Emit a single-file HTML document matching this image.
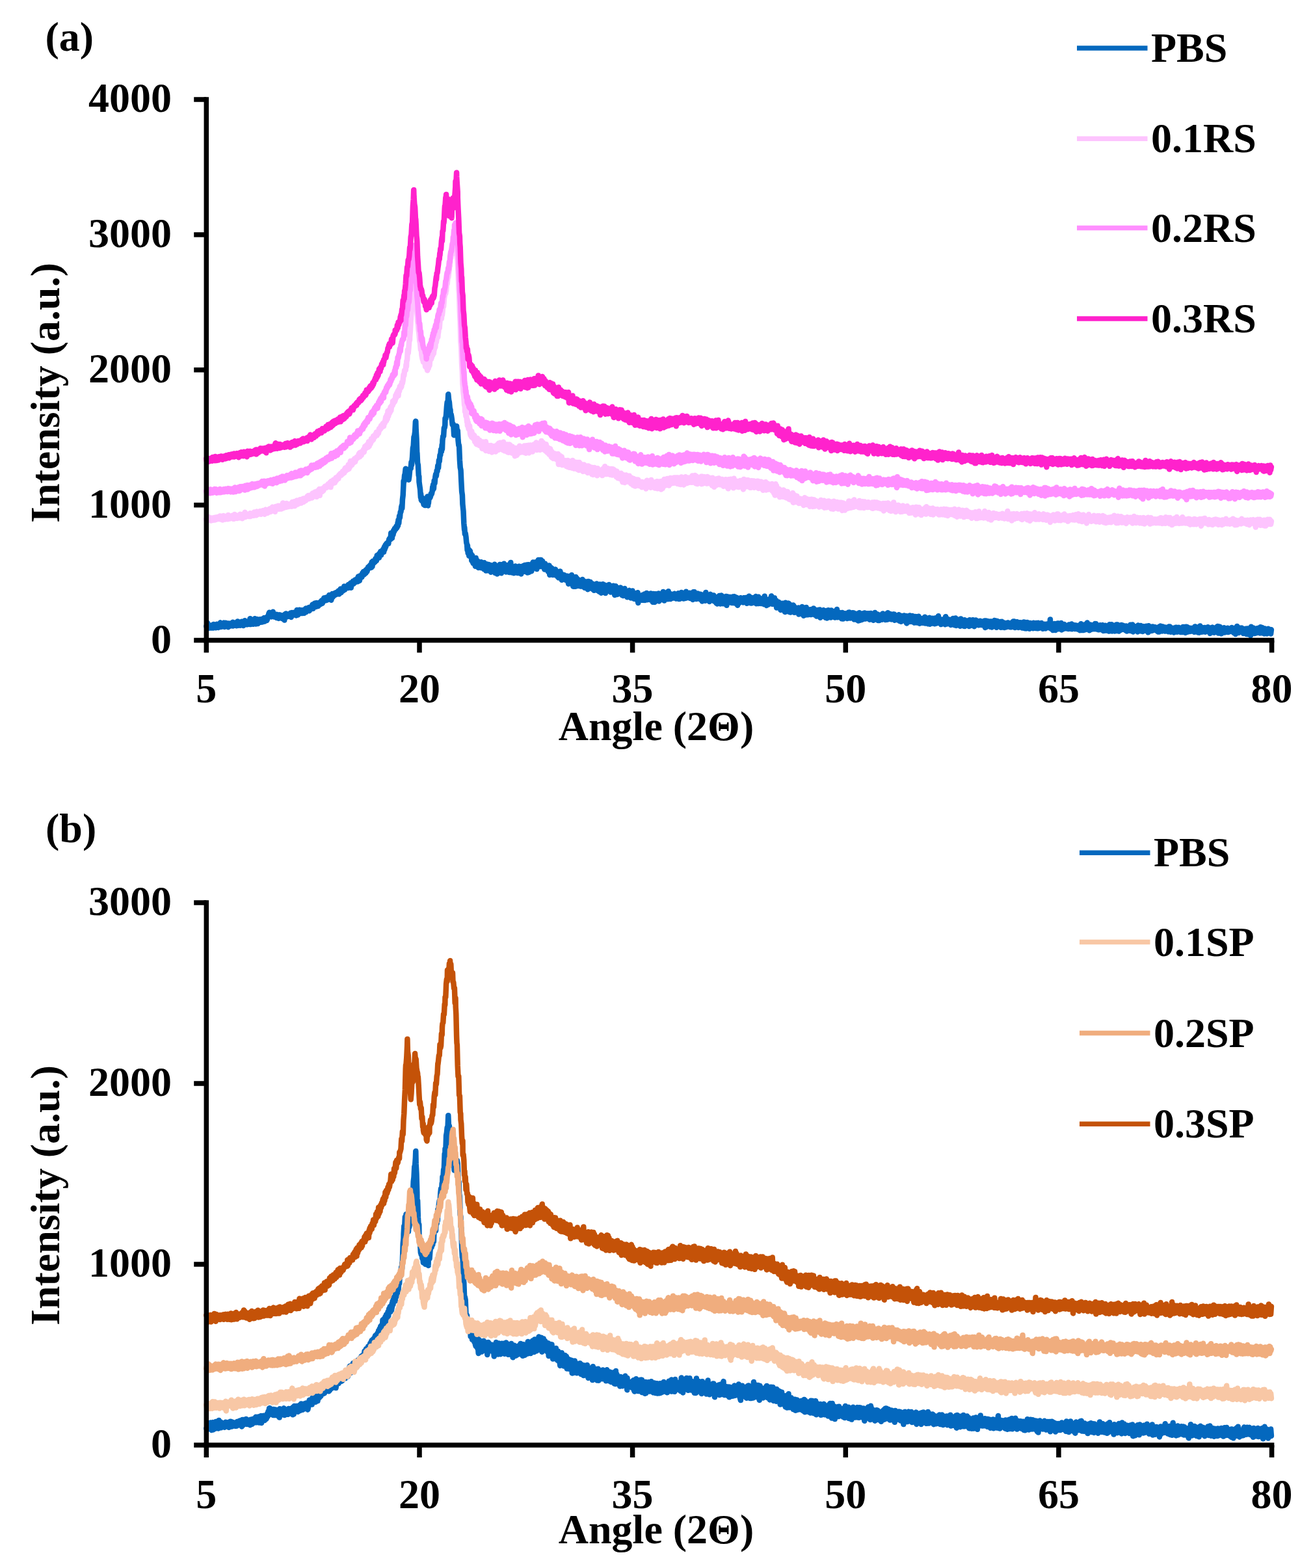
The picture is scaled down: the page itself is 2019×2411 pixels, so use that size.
<!DOCTYPE html>
<html><head><meta charset="utf-8"><style>
html,body{margin:0;padding:0;background:#fff;}
svg{display:block;}
text{font-family:'Liberation Serif','Times New Roman',serif;font-weight:bold;font-size:64px;fill:#000;}
</style></head><body>
<svg width="2019" height="2411" viewBox="0 0 2019 2411" xmlns="http://www.w3.org/2000/svg">
<rect width="2019" height="2411" fill="#fff"/>
<polyline points="317.3,962.9 318.1,964.5 318.9,957.8 319.7,966.1 320.5,960.7 321.3,962.3 322.1,965.4 322.9,961.5 323.7,962.5 324.5,965.6 325.3,961.6 326.1,964.7 326.9,962.2 327.7,965.6 328.5,959.9 329.3,964.9 330.1,961.2 330.9,963.8 331.7,965.3 332.5,960.4 333.3,959.8 334.1,964.0 334.9,960.8 335.7,965.1 336.5,961.4 337.3,963.7 337.5,959.6 338.1,960.9 338.9,957.3 339.7,963.9 340.5,959.3 341.3,962.6 342.1,958.9 342.9,958.2 343.7,963.4 344.5,957.6 345.3,963.9 346.1,958.4 346.9,957.8 347.7,962.4 348.5,959.4 349.3,963.4 350.1,958.4 350.9,964.2 351.7,963.8 352.5,958.6 353.3,962.9 354.1,958.9 354.9,962.3 355.7,962.2 356.5,957.7 357.3,962.1 357.9,956.8 358.1,962.6 358.9,961.9 359.7,958.5 360.5,960.3 361.3,957.8 362.1,961.8 362.9,957.7 363.7,962.2 364.5,960.1 365.3,955.5 366.1,961.8 366.9,957.3 367.7,959.8 368.5,956.7 369.3,961.7 370.1,960.9 370.9,956.7 371.7,955.7 372.5,960.7 373.3,957.5 374.1,962.0 374.9,956.2 375.7,960.5 376.5,954.2 377.3,956.0 378.1,960.2 378.4,955.8 378.9,959.9 379.7,960.3 380.5,960.2 381.3,956.2 382.1,959.6 382.9,955.1 383.7,959.9 384.5,951.2 385.3,960.0 386.1,954.7 386.9,959.5 387.7,958.6 388.5,954.8 389.3,959.7 390.1,956.2 390.9,958.8 391.7,951.3 392.5,955.7 393.3,959.5 394.1,955.4 394.9,958.2 395.7,952.1 396.5,959.0 397.3,956.7 398.1,954.4 398.9,956.0 399.7,952.3 400.5,956.5 401.3,956.7 402.1,952.1 402.9,956.6 403.7,951.5 404.5,956.0 405.3,954.2 406.1,950.1 406.9,955.5 407.7,949.9 408.5,954.4 409.3,950.8 410.0,954.1 410.1,950.6 410.9,952.8 411.7,947.5 412.5,948.9 413.3,943.5 414.0,946.5 414.1,941.8 414.9,947.0 415.7,943.9 416.5,947.8 417.3,948.4 418.1,944.5 418.9,947.6 419.7,940.8 420.0,944.9 420.5,944.9 421.3,948.5 422.1,945.6 422.9,946.6 423.7,947.5 424.5,944.8 425.3,950.0 426.1,945.0 426.9,945.4 427.7,948.9 428.5,950.9 429.3,945.4 429.6,949.9 430.1,945.5 430.9,950.0 431.7,945.9 432.5,950.4 433.3,947.1 434.1,951.1 434.9,946.3 435.7,949.4 436.5,945.7 437.3,953.5 438.1,944.6 438.9,948.9 439.7,943.4 440.5,948.9 441.3,944.8 442.1,946.8 442.9,944.4 443.7,947.8 444.5,944.6 445.3,944.5 446.1,948.2 446.9,942.5 447.7,949.0 448.5,942.1 449.3,946.4 450.0,942.6 450.1,945.7 450.9,941.9 451.7,942.0 452.5,945.6 453.3,942.0 454.1,945.5 454.9,942.0 455.7,946.4 456.5,938.1 457.3,945.5 458.1,945.5 458.9,940.1 459.7,943.7 460.5,937.8 461.3,943.2 462.1,938.9 462.9,943.0 463.7,938.3 464.5,942.6 465.3,942.9 466.1,939.2 466.9,937.9 467.7,942.9 468.5,940.5 469.3,937.7 470.1,935.6 470.5,941.2 470.9,935.6 471.7,938.2 472.5,935.6 473.3,938.2 474.1,937.7 474.9,934.1 475.7,939.2 476.5,934.9 477.3,936.3 478.1,933.3 478.9,936.3 479.7,933.1 480.5,929.5 481.3,935.7 482.1,931.0 482.9,933.8 483.7,927.7 484.5,927.4 485.3,932.6 486.1,932.9 486.9,927.0 487.7,930.7 488.5,927.8 489.3,932.1 490.1,927.1 490.9,929.7 491.0,927.2 491.7,928.8 492.5,929.4 493.3,924.8 494.1,926.3 494.9,923.3 495.7,927.7 496.5,925.6 497.3,921.2 498.1,924.2 498.2,919.6 498.9,923.8 499.7,920.9 500.5,923.2 501.3,918.7 502.1,923.0 502.9,919.0 503.7,922.4 504.5,917.5 505.3,919.1 506.1,915.1 506.9,916.4 507.7,915.2 508.5,919.0 509.3,922.8 510.1,919.4 510.9,913.1 511.7,918.3 512.5,914.8 513.3,915.4 514.1,912.4 514.9,915.3 515.7,911.4 516.4,911.3 516.5,912.7 517.3,914.0 518.1,911.5 518.9,910.7 519.7,909.6 520.5,908.3 521.3,913.6 522.1,908.8 522.9,910.9 523.7,905.5 524.5,911.2 525.3,905.7 526.1,907.5 526.9,905.8 527.7,908.5 528.5,904.4 529.3,901.5 530.1,906.9 530.9,902.1 531.7,904.8 532.5,904.4 533.3,901.4 534.1,903.7 534.6,900.2 534.9,904.1 535.7,899.0 536.5,903.5 537.3,899.2 538.1,901.6 538.9,896.6 539.7,903.7 540.5,899.4 541.3,899.3 542.1,897.7 542.9,893.5 543.7,897.6 544.5,893.2 545.3,895.7 546.1,891.5 546.9,895.4 547.7,891.3 548.5,894.5 549.3,889.4 550.1,894.2 550.9,886.6 551.7,890.9 552.5,887.3 552.8,892.7 553.3,885.4 554.1,889.6 554.9,884.7 555.7,887.3 556.5,887.3 557.3,881.2 558.1,884.1 558.9,878.9 559.7,883.5 560.5,879.2 561.3,882.4 562.1,876.8 562.9,880.5 563.7,875.4 564.5,878.5 565.3,874.7 566.1,872.0 566.9,874.2 567.7,870.5 568.5,872.2 569.3,869.0 570.1,872.9 570.9,866.8 571.0,872.4 571.7,864.2 572.5,870.9 573.3,862.7 574.1,866.3 574.9,865.7 575.7,861.7 576.5,864.4 577.3,859.0 578.1,860.6 578.9,862.0 579.7,854.1 580.5,854.9 581.3,853.2 582.1,853.5 582.9,857.6 583.7,850.6 584.5,854.2 585.3,847.9 586.1,853.3 586.9,847.6 587.7,848.9 588.5,845.6 589.2,849.2 589.3,844.3 590.1,848.9 590.9,841.1 591.7,844.7 592.5,838.2 593.3,840.9 594.1,836.1 594.9,835.3 595.7,835.7 596.5,833.8 597.3,835.9 598.1,829.7 598.9,828.1 599.7,829.6 600.5,829.2 601.3,819.4 602.1,827.3 602.8,821.9 602.9,827.4 603.7,819.7 604.5,822.3 605.3,815.2 606.1,817.7 606.9,812.7 607.7,812.8 608.5,813.9 609.3,809.2 610.1,811.8 610.9,810.2 611.7,803.4 612.0,808.1 612.5,799.4 613.3,804.1 614.1,793.2 614.9,796.1 615.7,787.3 616.5,787.1 617.3,779.3 618.1,776.4 618.3,781.4 618.9,768.2 619.7,761.5 620.5,744.6 620.6,739.5 621.3,740.8 622.1,730.9 622.9,728.3 623.7,720.8 624.5,724.7 625.3,726.3 626.1,732.0 626.9,735.0 627.7,737.1 628.0,732.1 628.5,737.7 629.3,732.3 630.1,723.6 630.9,719.9 631.7,720.3 632.5,710.4 633.0,714.8 633.3,711.0 634.1,702.7 634.9,688.7 635.7,685.6 636.5,672.1 637.3,670.0 638.1,664.1 638.9,648.4 639.3,647.7 639.7,660.8 640.5,674.5 641.3,699.6 641.4,696.4 642.1,711.6 642.9,715.1 643.7,730.9 644.3,732.7 644.5,741.0 645.3,746.8 646.1,752.5 646.9,764.9 647.1,759.6 647.7,768.4 648.5,769.9 649.3,765.2 650.1,767.4 650.9,772.6 651.7,776.0 652.5,771.3 652.9,769.6 653.3,777.1 654.1,770.8 654.9,775.8 655.7,770.2 656.5,775.3 657.3,763.5 658.1,777.4 658.6,770.1 658.9,773.6 659.7,764.4 660.5,764.0 661.3,765.3 662.1,763.1 662.9,758.7 663.7,759.7 664.5,756.4 665.3,748.5 665.7,753.0 666.1,745.2 666.9,751.1 667.7,738.9 668.5,742.9 669.3,733.5 670.1,729.1 670.9,731.9 671.7,723.4 672.5,724.7 672.9,719.5 673.3,715.8 674.1,719.3 674.9,707.8 675.7,709.4 676.5,699.9 677.3,699.7 678.1,691.0 678.9,694.2 679.7,683.8 680.0,690.3 680.5,676.9 681.3,670.6 682.1,670.7 682.9,657.8 683.7,657.5 684.3,653.5 684.5,643.3 685.3,643.9 686.1,637.3 686.9,625.8 687.7,618.3 688.5,622.2 689.3,606.3 690.1,614.9 690.9,618.4 691.7,627.6 692.5,630.3 692.9,638.9 693.3,635.9 694.1,639.5 694.9,645.2 695.7,653.2 696.5,651.6 697.3,653.0 698.1,669.2 698.6,666.3 698.9,661.1 699.7,665.8 700.5,656.7 701.3,660.6 702.1,655.2 702.9,663.0 703.7,662.0 704.5,677.0 705.3,684.9 705.7,684.1 706.1,686.9 706.9,707.2 707.7,718.9 708.5,722.7 708.6,724.1 709.3,739.8 710.1,755.6 710.9,761.3 711.4,775.0 711.7,778.2 712.5,785.6 713.3,804.3 714.1,814.7 714.3,811.3 714.9,821.3 715.7,820.1 716.5,825.5 717.3,834.4 718.1,837.4 718.6,846.0 718.9,838.9 719.7,850.7 720.5,844.6 721.3,854.8 722.1,846.3 722.9,847.2 723.7,855.8 724.5,852.1 725.3,862.1 725.7,860.3 726.1,854.3 726.9,864.1 727.7,866.1 728.5,859.8 729.3,858.8 730.1,866.8 730.9,870.7 731.7,858.0 732.5,870.1 732.9,862.9 733.3,862.3 734.1,862.1 734.9,870.8 735.7,872.9 736.5,870.7 737.3,867.9 738.1,870.1 738.9,872.9 739.7,864.3 740.5,869.5 741.3,868.8 742.1,873.5 742.9,868.5 743.7,874.9 744.5,865.3 745.3,871.9 746.1,876.0 746.9,874.8 747.1,877.4 747.7,867.3 748.5,875.0 749.3,867.9 750.1,877.3 750.9,868.1 751.7,876.2 752.5,871.0 753.3,877.2 754.1,869.0 754.9,879.7 755.7,869.4 756.5,877.0 757.3,870.7 758.1,878.6 758.9,870.3 759.7,876.6 760.5,867.7 761.3,881.0 761.4,871.2 762.1,876.4 762.9,879.8 763.7,871.6 764.5,882.5 765.3,870.3 766.1,879.3 766.9,872.0 767.7,877.5 768.5,867.9 769.3,878.1 770.1,870.4 770.9,881.3 771.7,868.2 772.5,876.7 773.3,870.2 774.1,876.5 774.9,866.8 775.7,875.5 776.5,877.1 777.3,870.7 778.1,879.5 778.9,869.9 779.7,879.2 780.5,869.0 781.3,877.1 782.1,869.1 782.9,880.0 783.7,872.6 784.5,880.0 785.3,865.0 786.1,878.6 786.9,880.4 787.7,873.7 788.5,880.4 789.3,872.8 790.1,881.3 790.9,880.1 791.7,878.4 792.5,870.6 792.9,880.3 793.3,874.3 794.1,880.6 794.9,874.0 795.7,881.0 796.5,872.2 797.3,879.5 798.1,870.7 798.9,874.0 799.7,881.5 800.5,875.0 801.3,882.4 802.1,871.1 802.9,878.9 803.7,872.4 804.5,870.1 805.3,878.8 806.1,878.7 806.9,869.0 807.7,878.0 808.5,871.0 809.3,879.3 810.1,868.5 810.9,880.6 811.1,870.0 811.7,878.2 812.5,868.3 813.3,880.0 814.1,870.5 814.9,876.4 815.7,868.3 816.5,877.0 817.3,878.2 818.1,875.2 818.9,866.4 819.7,864.4 820.5,868.2 821.3,872.5 822.1,866.1 822.9,873.1 823.7,864.2 824.5,865.1 825.3,875.1 826.1,864.8 826.9,871.0 827.7,860.9 828.5,861.1 829.3,870.2 830.1,861.1 830.9,870.9 831.7,861.1 832.5,870.9 833.3,863.8 834.1,862.7 834.9,868.7 835.7,870.6 836.5,866.7 837.3,875.5 838.1,866.7 838.9,875.1 839.7,868.7 840.5,875.4 841.3,875.9 842.1,870.4 842.9,879.1 843.7,873.0 844.5,869.6 845.3,884.0 846.1,873.4 846.9,872.5 847.7,878.5 848.5,873.8 849.3,879.4 850.0,884.0 850.1,875.8 850.9,880.1 851.7,878.0 852.5,881.4 853.3,884.0 854.1,875.5 854.9,878.1 855.7,883.6 856.5,879.6 857.3,886.7 858.1,882.6 858.9,888.3 859.7,879.1 860.5,884.5 861.3,878.5 862.1,886.0 862.9,881.8 863.7,891.7 864.5,887.2 865.3,885.8 866.1,888.9 866.9,889.3 867.7,884.1 868.5,891.1 869.3,885.5 870.1,891.9 870.9,885.8 871.7,892.1 872.5,885.7 872.9,894.2 873.3,888.3 874.1,897.7 874.9,889.2 875.7,896.3 876.5,888.8 877.3,887.1 878.1,896.6 878.9,884.3 879.7,898.7 880.5,886.6 881.3,901.7 882.1,888.4 882.9,895.8 883.7,892.0 884.5,901.8 885.3,887.2 886.1,898.1 886.9,889.2 887.7,900.9 888.5,890.9 889.3,898.4 890.1,891.6 890.9,901.1 891.7,899.9 892.5,894.4 893.3,901.6 894.1,895.7 894.9,899.5 895.7,891.0 896.5,893.0 897.3,901.9 898.1,893.7 898.9,903.8 899.7,902.1 900.5,898.0 901.3,894.4 902.1,900.5 902.9,898.9 903.7,906.2 904.5,894.0 905.3,903.1 906.1,896.4 906.9,904.6 907.7,895.0 908.5,903.5 909.3,898.8 910.1,904.3 910.9,897.5 911.7,906.3 912.5,898.9 913.3,907.7 914.1,900.5 914.9,906.7 915.7,900.4 916.5,905.5 917.3,897.5 918.1,907.2 918.6,901.8 918.9,908.0 919.7,906.3 920.5,899.2 921.3,909.7 922.1,898.6 922.9,906.5 923.7,900.8 924.5,911.7 925.3,901.1 926.1,910.9 926.9,898.2 927.7,906.4 928.5,899.0 929.3,910.3 930.1,899.7 930.9,912.1 931.7,900.6 932.5,909.5 933.3,900.5 934.1,908.9 934.9,900.8 935.7,906.1 936.5,898.9 937.3,908.9 938.1,901.1 938.9,910.5 939.7,902.0 940.5,902.1 941.3,910.3 941.4,905.2 942.1,909.5 942.9,900.7 943.7,909.1 944.5,905.1 945.3,915.1 946.1,901.7 946.9,901.3 947.7,912.1 948.5,904.0 949.3,913.9 950.1,904.0 950.9,905.4 951.7,910.7 952.5,907.0 953.3,911.1 954.1,903.4 954.9,913.5 955.7,907.0 956.5,915.2 957.3,907.1 958.1,916.1 958.9,908.7 959.7,913.0 960.5,905.0 961.3,914.9 962.1,909.4 962.9,915.2 963.7,910.0 964.3,917.0 964.5,918.3 965.3,911.3 966.1,917.8 966.9,910.9 967.7,907.8 968.5,912.2 969.3,918.1 970.1,919.4 970.9,912.9 971.7,918.6 972.5,908.6 973.3,917.4 974.1,911.6 974.9,920.8 975.7,919.7 976.5,912.4 977.3,912.2 978.1,920.5 978.9,922.1 979.7,921.4 980.5,911.3 981.3,927.0 982.1,917.9 982.9,918.2 983.7,916.9 984.5,922.5 985.3,917.2 986.1,921.3 986.9,922.8 987.1,919.1 987.7,915.0 988.5,921.1 989.3,922.9 990.1,916.7 990.9,913.5 991.7,923.0 992.5,913.9 993.3,922.1 994.1,912.1 994.9,922.3 995.7,914.4 996.5,921.4 997.3,913.3 998.1,921.6 998.9,913.4 999.7,922.3 1000.5,912.6 1001.3,920.9 1002.1,922.4 1002.9,914.1 1003.7,925.8 1004.5,912.9 1005.3,923.1 1006.1,913.3 1006.9,925.9 1007.7,924.0 1008.5,913.3 1009.3,920.2 1010.0,913.9 1010.1,922.1 1010.9,914.5 1011.7,923.7 1012.5,912.6 1013.3,924.4 1014.1,916.6 1014.9,922.7 1015.7,915.0 1016.5,919.8 1017.3,913.3 1018.1,921.6 1018.9,913.4 1019.7,909.9 1020.5,911.8 1021.3,923.5 1022.1,914.6 1022.9,919.4 1023.7,911.6 1024.5,920.7 1025.3,913.5 1026.1,920.4 1026.9,921.2 1027.7,909.2 1028.5,920.3 1029.3,913.6 1030.1,912.7 1030.9,921.1 1031.7,915.0 1032.5,919.0 1032.9,913.8 1033.3,920.0 1034.1,914.1 1034.9,914.4 1035.7,914.3 1036.5,919.5 1037.3,912.8 1038.1,915.3 1038.9,919.1 1039.7,920.6 1040.5,919.8 1041.3,914.7 1042.1,919.3 1042.9,912.3 1043.7,921.1 1044.5,915.0 1045.3,920.9 1046.1,912.9 1046.9,920.0 1047.7,910.9 1048.5,918.0 1049.3,913.4 1050.1,912.1 1050.9,920.6 1051.7,912.8 1052.5,916.9 1053.3,913.0 1054.1,919.9 1054.9,909.7 1055.7,918.3 1056.5,912.3 1057.3,919.0 1058.1,912.1 1058.9,917.8 1059.7,912.8 1060.5,911.8 1061.3,919.9 1062.1,912.3 1062.9,918.1 1063.7,919.0 1064.5,913.8 1065.3,921.9 1066.1,910.2 1066.9,920.8 1067.7,910.2 1068.5,919.9 1069.3,920.0 1070.1,915.3 1070.9,921.0 1071.7,914.1 1072.5,913.2 1073.3,912.6 1074.1,920.6 1074.9,919.2 1075.7,913.8 1076.5,921.1 1077.3,913.8 1078.1,922.5 1078.6,921.1 1078.9,914.5 1079.7,924.5 1080.5,923.5 1081.3,914.5 1082.1,920.4 1082.9,915.3 1083.7,914.1 1084.5,923.8 1085.3,910.9 1086.1,922.2 1086.9,914.9 1087.7,922.2 1088.5,915.3 1089.3,922.4 1090.1,917.5 1090.9,925.0 1091.7,915.7 1092.5,913.8 1093.3,922.8 1094.1,915.8 1094.9,915.2 1095.7,920.9 1096.5,918.8 1097.3,915.4 1098.1,924.6 1098.9,920.0 1099.7,923.4 1100.5,918.9 1101.3,924.1 1101.4,927.5 1102.1,918.3 1102.9,928.4 1103.7,917.8 1104.5,918.7 1105.3,927.8 1106.1,915.9 1106.9,927.5 1107.7,928.5 1108.5,915.8 1109.3,915.6 1110.1,922.5 1110.9,919.2 1111.7,928.2 1112.5,917.5 1113.3,926.8 1114.1,918.7 1114.9,927.5 1115.7,929.1 1116.5,917.0 1117.3,930.8 1118.1,917.2 1118.9,927.5 1119.7,926.3 1120.5,919.1 1121.3,926.4 1122.1,918.1 1122.9,923.5 1123.7,926.5 1124.3,918.4 1124.5,926.5 1125.3,919.4 1126.1,927.1 1126.9,917.4 1127.7,925.1 1128.5,918.0 1129.3,917.3 1130.1,927.6 1130.9,920.2 1131.7,924.7 1132.5,918.6 1133.3,924.7 1134.1,930.7 1134.9,920.1 1135.7,925.1 1136.5,927.6 1137.3,919.7 1138.1,922.9 1138.9,919.2 1139.7,924.9 1140.5,919.9 1141.3,923.9 1142.1,920.6 1142.9,926.4 1143.7,919.3 1144.5,924.8 1145.3,920.4 1146.1,925.3 1146.9,919.0 1147.1,926.5 1147.7,921.4 1148.5,927.8 1149.3,925.6 1150.1,918.7 1150.9,925.3 1151.7,916.7 1152.5,926.6 1153.3,926.9 1154.1,918.6 1154.9,927.6 1155.7,919.2 1156.5,927.2 1157.3,921.7 1158.1,919.7 1158.9,923.3 1159.7,919.8 1160.5,926.5 1161.3,920.0 1162.1,917.1 1162.9,928.2 1163.7,917.8 1164.5,920.2 1165.3,927.9 1166.1,917.7 1166.9,928.0 1167.7,927.8 1168.5,927.4 1169.3,921.3 1170.0,925.7 1170.1,922.2 1170.9,928.0 1171.7,920.3 1172.5,921.0 1173.3,928.0 1174.1,920.9 1174.9,929.3 1175.7,916.8 1176.5,928.3 1177.3,921.3 1178.1,925.1 1178.9,931.1 1179.7,928.5 1180.5,922.3 1181.3,929.6 1182.1,923.2 1182.9,921.1 1183.7,927.5 1184.5,921.1 1185.3,926.1 1186.1,916.5 1186.9,927.4 1187.7,928.8 1188.5,920.6 1189.3,925.5 1190.0,921.7 1190.1,928.7 1190.9,919.6 1191.7,928.6 1192.5,930.2 1193.3,923.1 1194.1,934.5 1194.9,926.7 1195.7,932.4 1196.5,930.7 1197.3,925.7 1198.1,927.8 1198.9,927.4 1199.7,934.6 1200.5,937.9 1201.3,928.0 1202.1,933.7 1202.9,937.6 1203.7,927.7 1204.5,935.1 1205.3,929.3 1205.5,936.0 1206.1,928.2 1206.9,940.9 1207.7,926.8 1208.5,939.2 1209.3,939.0 1210.1,930.2 1210.9,939.9 1211.7,932.7 1212.5,927.6 1213.3,940.9 1214.1,929.3 1214.9,938.2 1215.7,941.5 1216.5,931.8 1217.3,940.0 1218.1,934.1 1218.9,939.3 1219.7,930.4 1220.5,931.6 1221.3,941.7 1222.1,933.8 1222.9,940.8 1223.7,937.8 1224.5,937.9 1225.3,941.7 1226.1,935.6 1226.9,941.2 1227.7,934.5 1228.2,944.5 1228.5,943.9 1229.3,939.1 1230.1,943.3 1230.9,936.2 1231.7,941.6 1232.5,939.9 1233.3,933.0 1234.1,944.9 1234.9,937.0 1235.7,946.7 1236.5,934.5 1237.3,944.8 1238.1,936.1 1238.9,945.4 1239.7,934.1 1240.5,944.3 1241.3,937.0 1242.1,945.3 1242.9,939.5 1243.7,944.5 1244.5,937.5 1245.3,944.4 1246.1,937.2 1246.9,945.1 1247.7,944.7 1248.5,936.9 1249.3,944.4 1250.1,936.3 1250.9,943.8 1251.0,935.4 1251.7,941.9 1252.5,937.0 1253.3,945.8 1254.1,939.7 1254.9,944.5 1255.7,947.6 1256.5,938.2 1257.3,944.1 1258.1,943.3 1258.9,937.7 1259.7,946.1 1260.5,937.5 1261.3,949.7 1262.1,946.3 1262.9,938.7 1263.7,945.4 1264.5,939.3 1265.3,939.3 1266.1,938.1 1266.9,948.0 1267.7,945.9 1268.5,940.6 1269.3,949.7 1270.1,945.9 1270.9,938.9 1271.7,950.5 1272.5,939.3 1273.3,948.4 1273.7,938.3 1274.1,940.0 1274.9,940.7 1275.7,947.9 1276.5,938.9 1277.3,949.6 1278.1,938.4 1278.9,948.0 1279.7,941.7 1280.5,948.0 1281.3,940.9 1282.1,947.7 1282.9,940.0 1283.7,949.6 1284.5,943.3 1285.3,944.2 1286.1,946.2 1286.9,937.0 1287.7,949.3 1288.5,941.9 1289.3,948.9 1290.1,941.6 1290.9,946.5 1291.7,946.5 1292.5,945.2 1293.3,950.1 1294.1,951.2 1294.9,942.0 1295.7,950.0 1296.4,945.1 1296.5,951.6 1297.3,943.4 1298.1,950.3 1298.9,943.2 1299.7,949.6 1300.5,944.3 1301.3,949.5 1302.1,945.4 1302.9,951.0 1303.7,943.6 1304.5,941.7 1305.3,947.7 1306.1,941.5 1306.9,950.6 1307.7,950.5 1308.5,944.9 1309.3,944.9 1310.1,948.4 1310.9,942.2 1311.7,950.6 1312.5,942.6 1313.3,952.4 1314.1,943.2 1314.9,950.7 1315.7,944.5 1316.5,952.8 1317.3,951.4 1318.1,943.8 1318.9,952.5 1319.2,944.2 1319.7,954.6 1320.5,945.7 1321.3,942.2 1322.1,953.7 1322.9,946.2 1323.7,952.9 1324.5,943.9 1325.3,953.0 1326.1,943.4 1326.9,952.1 1327.7,946.1 1328.5,951.2 1329.3,942.4 1330.1,951.6 1330.9,948.4 1331.7,947.0 1332.5,950.1 1333.3,943.2 1334.1,950.9 1334.9,947.5 1335.7,943.2 1336.5,944.7 1337.3,952.8 1338.1,951.0 1338.9,942.9 1339.7,952.1 1340.5,948.4 1341.3,950.6 1341.9,946.7 1342.1,952.2 1342.9,953.7 1343.7,946.5 1344.5,951.5 1345.3,941.9 1346.1,952.6 1346.9,951.6 1347.7,945.3 1348.5,950.4 1349.3,944.5 1350.1,954.0 1350.9,946.3 1351.7,954.0 1352.5,945.8 1353.3,952.9 1354.1,951.2 1354.9,946.7 1355.7,950.0 1356.5,952.7 1357.3,943.5 1358.1,952.0 1358.9,950.6 1359.7,947.2 1360.5,951.4 1361.3,953.1 1362.1,944.9 1362.9,946.5 1363.7,952.8 1364.5,942.7 1364.7,952.5 1365.3,942.3 1366.1,944.9 1366.9,943.6 1367.7,951.8 1368.5,944.0 1369.3,951.0 1370.1,945.6 1370.9,952.4 1371.7,949.2 1372.5,951.0 1373.3,944.5 1374.1,945.6 1374.9,944.4 1375.7,953.7 1376.5,951.1 1377.3,946.3 1378.1,952.8 1378.9,947.6 1379.7,953.1 1380.5,948.2 1381.3,952.5 1382.1,945.2 1382.9,954.8 1383.7,948.3 1384.5,948.1 1385.3,955.8 1386.1,947.0 1386.9,954.8 1387.4,949.6 1387.7,953.9 1388.5,949.6 1389.3,954.5 1390.1,946.6 1390.9,954.3 1391.7,948.8 1392.5,953.5 1393.3,947.2 1394.1,958.4 1394.9,947.6 1395.7,956.7 1396.5,950.5 1397.3,948.5 1398.1,955.9 1398.9,946.6 1399.7,955.7 1400.5,950.5 1401.3,955.8 1402.1,955.3 1402.9,947.1 1403.7,948.4 1404.5,956.7 1405.3,949.3 1406.1,957.6 1406.9,948.1 1407.7,955.1 1408.5,953.7 1409.3,948.2 1410.1,957.5 1410.9,949.1 1411.7,956.9 1412.5,947.7 1413.3,951.7 1414.1,958.7 1414.9,955.7 1415.7,951.0 1416.5,952.2 1417.3,957.2 1418.1,950.9 1418.9,957.8 1419.7,951.4 1420.5,955.1 1421.3,958.1 1422.1,948.8 1422.9,958.4 1423.7,957.3 1424.5,950.2 1425.3,957.6 1426.1,951.4 1426.9,959.2 1427.7,958.2 1428.5,952.3 1429.3,949.8 1430.1,959.7 1430.9,958.7 1431.7,955.6 1432.5,952.0 1432.9,958.2 1433.3,950.8 1434.1,958.6 1434.9,951.4 1435.7,957.6 1436.5,950.8 1437.3,959.2 1438.1,953.8 1438.9,950.2 1439.7,957.8 1440.5,958.4 1441.3,950.2 1442.1,956.3 1442.9,947.2 1443.7,954.4 1444.5,957.2 1445.3,952.7 1446.1,952.4 1446.9,960.1 1447.7,952.8 1448.5,958.0 1449.3,952.6 1450.1,955.9 1450.9,954.3 1451.7,958.1 1452.5,951.6 1453.3,960.2 1454.1,948.3 1454.9,959.0 1455.6,953.6 1455.7,959.2 1456.5,951.6 1457.3,959.2 1458.1,954.2 1458.9,952.8 1459.7,952.8 1460.5,957.1 1461.3,954.5 1462.1,960.9 1462.9,956.0 1463.7,959.5 1464.5,958.9 1465.3,951.0 1466.1,960.2 1466.9,954.3 1467.7,961.2 1468.5,958.7 1469.3,950.4 1470.1,961.9 1470.9,953.4 1471.7,960.7 1472.5,959.9 1473.3,954.7 1474.1,961.2 1474.9,960.4 1475.7,952.3 1476.5,962.8 1477.3,951.6 1478.1,961.4 1478.4,953.8 1478.9,960.1 1479.7,953.1 1480.5,953.9 1481.3,954.1 1482.1,962.7 1482.9,953.2 1483.7,962.9 1484.5,959.2 1485.3,954.1 1486.1,959.7 1486.9,959.8 1487.7,954.5 1488.5,960.2 1489.3,954.8 1490.1,963.0 1490.9,953.3 1491.7,959.5 1492.5,955.1 1493.3,961.7 1494.1,953.7 1494.9,959.9 1495.7,953.2 1496.5,958.8 1497.3,955.3 1498.1,963.2 1498.9,957.3 1499.7,960.6 1500.5,953.4 1501.1,960.8 1501.3,955.9 1502.1,956.1 1502.9,958.2 1503.7,956.8 1504.5,961.3 1505.3,955.8 1506.1,955.1 1506.9,955.3 1507.7,954.8 1508.5,959.1 1509.3,961.0 1510.1,955.8 1510.9,961.1 1511.7,956.6 1512.5,958.6 1513.3,962.5 1514.1,954.4 1514.9,965.0 1515.7,954.6 1516.5,964.1 1517.3,954.9 1518.1,961.4 1518.9,955.1 1519.7,960.4 1520.5,955.5 1521.3,961.9 1522.1,957.4 1522.9,963.8 1523.7,963.7 1523.8,955.4 1524.5,963.3 1525.3,964.5 1526.1,956.3 1526.9,960.5 1527.7,961.0 1528.5,955.3 1529.3,953.9 1530.1,960.4 1530.9,954.5 1531.7,962.8 1532.5,964.8 1533.3,954.9 1534.1,962.0 1534.9,962.8 1535.7,957.5 1536.5,957.7 1537.3,962.4 1538.1,956.0 1538.9,964.7 1539.7,957.9 1540.5,955.8 1541.3,963.0 1542.1,957.1 1542.9,964.6 1543.7,957.4 1544.5,965.0 1545.3,962.7 1546.1,958.2 1546.9,964.3 1547.7,959.0 1548.5,961.7 1549.3,957.4 1550.1,963.4 1550.9,957.6 1551.7,960.7 1552.5,959.1 1553.3,964.2 1554.1,964.3 1554.9,958.7 1555.7,964.0 1556.5,963.9 1557.3,956.1 1558.0,962.7 1558.1,955.5 1558.9,963.3 1559.7,955.6 1560.5,965.1 1561.3,959.0 1562.1,958.1 1562.9,964.3 1563.7,956.3 1564.5,962.1 1565.3,958.5 1566.1,964.9 1566.9,957.2 1567.7,962.6 1568.5,962.9 1569.3,957.3 1570.1,962.8 1570.9,957.7 1571.7,965.5 1572.5,958.0 1573.3,961.7 1574.1,956.5 1574.9,965.9 1575.7,966.3 1576.5,957.0 1577.3,960.5 1578.1,966.4 1578.9,957.8 1579.7,957.0 1580.5,964.3 1581.3,958.7 1582.1,958.7 1582.9,966.8 1583.7,958.1 1584.5,964.4 1585.3,960.3 1586.1,965.4 1586.9,958.6 1587.7,958.4 1588.5,966.2 1589.3,957.7 1590.1,958.7 1590.9,965.2 1591.7,958.7 1592.5,966.0 1593.3,957.9 1594.1,965.2 1594.9,960.1 1595.7,966.3 1596.5,957.7 1597.3,960.4 1598.1,965.7 1598.9,959.6 1599.7,962.1 1600.5,965.2 1601.3,957.9 1602.1,964.3 1602.9,960.2 1603.7,966.8 1604.5,960.8 1605.3,964.2 1606.1,959.8 1606.9,966.3 1607.7,966.4 1608.5,960.2 1609.3,965.2 1610.1,959.4 1610.9,965.1 1611.7,960.7 1612.5,964.2 1613.3,958.7 1614.1,965.5 1614.9,952.5 1615.7,966.7 1616.5,960.8 1617.3,965.9 1618.1,966.4 1618.9,969.1 1619.7,966.6 1620.5,959.3 1621.3,965.8 1622.1,959.1 1622.9,969.0 1623.7,965.5 1624.5,960.6 1625.3,967.1 1626.1,958.4 1626.9,967.3 1627.7,958.5 1628.5,960.3 1629.3,966.0 1630.1,967.2 1630.9,967.3 1631.7,958.1 1632.5,968.5 1633.3,962.9 1634.1,967.5 1634.9,965.6 1635.7,963.7 1636.5,960.0 1637.3,966.4 1638.1,966.2 1638.9,962.3 1639.7,962.0 1640.5,966.4 1641.3,962.7 1642.1,966.6 1642.9,967.0 1643.2,966.6 1643.7,960.4 1644.5,966.8 1645.3,965.3 1646.1,962.2 1646.9,967.1 1647.7,959.6 1648.5,967.2 1649.3,966.3 1650.1,960.7 1650.9,963.4 1651.7,965.7 1652.5,961.5 1653.3,967.0 1654.1,961.5 1654.9,966.7 1655.7,965.5 1656.5,961.9 1657.3,967.5 1658.1,963.7 1658.9,965.6 1659.7,961.7 1660.5,969.2 1661.3,968.2 1662.1,959.2 1662.9,969.1 1663.7,966.7 1664.5,967.2 1665.3,963.0 1666.1,969.0 1666.9,968.4 1667.7,960.6 1668.5,968.3 1669.3,960.9 1670.1,967.8 1670.9,961.2 1671.7,957.5 1672.5,966.5 1673.3,966.2 1674.1,961.6 1674.9,969.2 1675.7,961.3 1676.5,967.4 1677.3,960.6 1678.1,967.8 1678.9,964.3 1679.7,966.4 1680.5,964.9 1681.3,962.1 1682.1,967.2 1682.9,961.3 1683.7,959.0 1684.5,967.0 1685.3,959.2 1686.1,967.4 1686.9,964.2 1687.7,963.0 1688.5,962.9 1689.3,968.3 1690.1,963.1 1690.9,966.3 1691.7,961.3 1692.5,968.0 1693.3,963.3 1694.1,963.1 1694.9,967.7 1695.7,961.1 1696.5,970.0 1697.3,964.0 1698.1,969.7 1698.9,962.2 1699.7,961.8 1700.5,969.5 1701.3,967.0 1702.1,969.4 1702.9,964.1 1703.7,967.7 1704.5,963.5 1705.3,970.6 1706.1,960.3 1706.9,969.4 1707.7,961.8 1708.5,967.8 1709.3,960.2 1710.1,970.4 1710.9,961.4 1711.7,968.4 1712.5,963.1 1713.3,962.7 1714.1,970.4 1714.9,963.9 1715.7,968.8 1716.5,960.5 1717.3,969.9 1718.1,960.4 1718.9,969.3 1719.7,969.3 1720.5,970.6 1721.3,962.0 1722.1,969.3 1722.9,963.5 1723.7,966.9 1724.5,960.9 1725.3,963.5 1726.1,967.9 1726.9,961.8 1727.7,967.8 1728.5,967.2 1729.3,963.8 1730.1,963.1 1730.9,969.4 1731.7,962.4 1732.5,970.4 1733.3,963.3 1734.1,969.6 1734.9,963.3 1735.7,968.3 1736.5,962.7 1737.3,969.7 1738.1,960.8 1738.9,970.1 1739.7,964.2 1740.5,970.1 1741.3,960.5 1742.1,971.4 1742.9,967.1 1743.7,964.2 1744.5,968.5 1745.3,963.3 1746.1,969.3 1746.9,965.5 1747.7,967.0 1748.5,963.3 1749.3,971.4 1750.1,961.6 1750.9,964.1 1751.7,970.2 1752.5,964.7 1753.3,967.7 1754.1,962.0 1754.9,970.5 1755.7,964.1 1756.5,969.2 1757.3,970.9 1758.1,963.3 1758.9,969.3 1759.7,963.4 1760.5,969.8 1761.3,969.3 1762.1,964.8 1762.9,962.7 1763.7,969.3 1764.5,965.4 1765.3,972.3 1766.1,962.3 1766.9,970.6 1767.7,964.1 1768.5,970.2 1769.3,965.9 1770.1,970.0 1770.9,963.7 1771.7,969.8 1772.5,963.5 1773.3,969.1 1774.1,963.9 1774.9,968.1 1775.7,964.2 1776.5,965.0 1777.3,968.5 1778.1,964.8 1778.9,970.2 1779.7,965.1 1780.5,971.5 1781.3,965.2 1782.1,971.5 1782.9,963.4 1783.7,969.6 1784.5,962.6 1785.3,968.6 1786.1,963.8 1786.9,970.5 1787.7,963.5 1788.5,968.4 1789.3,966.1 1790.1,969.4 1790.9,964.6 1791.7,970.6 1792.5,964.6 1793.3,965.0 1794.1,969.7 1794.9,966.5 1795.7,970.0 1796.5,971.3 1797.3,963.5 1798.1,965.4 1798.9,963.4 1799.7,968.9 1800.5,971.7 1801.3,966.3 1802.1,971.0 1802.9,966.1 1803.7,969.5 1804.5,965.7 1805.3,972.6 1806.1,965.9 1806.9,971.6 1807.7,964.8 1808.5,971.3 1809.3,964.7 1810.1,971.7 1810.9,969.4 1811.7,965.1 1812.5,964.7 1813.3,970.3 1814.1,971.5 1814.9,966.5 1815.7,972.0 1816.5,970.2 1817.3,965.6 1818.1,972.1 1818.9,964.0 1819.7,970.4 1820.5,970.4 1821.3,964.1 1822.1,969.1 1822.9,972.9 1823.7,963.8 1824.5,969.9 1825.3,964.0 1826.1,971.8 1826.9,964.9 1827.7,968.5 1828.5,966.2 1829.3,971.1 1829.7,966.1 1830.1,970.9 1830.9,966.0 1831.7,969.3 1832.5,965.9 1833.3,970.6 1834.1,965.8 1834.9,970.8 1835.7,965.7 1836.5,971.8 1837.3,963.5 1838.1,970.5 1838.9,963.6 1839.7,966.1 1840.5,970.4 1841.3,967.6 1842.1,972.6 1842.9,967.7 1843.7,972.7 1844.5,972.0 1845.3,962.6 1846.1,970.7 1846.9,965.2 1847.7,971.8 1848.5,964.9 1849.3,971.6 1850.1,971.0 1850.9,965.2 1851.7,970.1 1852.5,964.9 1853.3,971.7 1854.1,967.4 1854.9,970.4 1855.7,966.4 1856.5,969.4 1857.3,964.2 1858.1,964.8 1858.9,970.4 1859.7,966.2 1860.5,973.9 1861.3,965.5 1862.1,970.5 1862.9,967.4 1863.7,969.7 1864.5,964.6 1865.3,972.2 1866.1,967.8 1866.9,972.7 1867.7,966.6 1868.5,971.0 1869.3,966.8 1870.1,971.3 1870.9,964.1 1871.7,970.7 1872.5,962.9 1873.3,973.6 1874.1,964.3 1874.9,970.7 1875.7,963.6 1876.5,973.4 1877.3,968.1 1878.1,974.3 1878.9,968.2 1879.7,972.9 1880.5,967.8 1881.3,969.8 1882.1,965.2 1882.9,972.6 1883.7,971.9 1884.5,966.1 1885.3,971.9 1886.1,966.7 1886.9,970.7 1887.7,965.7 1888.5,972.1 1889.3,966.7 1890.1,971.4 1890.9,966.8 1891.7,970.2 1892.5,966.9 1893.3,970.9 1894.1,964.9 1894.9,971.0 1895.7,967.1 1896.5,966.5 1897.3,973.2 1898.1,966.0 1898.9,966.5 1899.7,975.0 1900.5,966.6 1901.3,972.7 1902.1,963.1 1902.9,971.2 1903.7,965.4 1904.5,972.9 1905.3,968.3 1906.1,971.5 1906.9,965.6 1907.7,970.5 1908.5,966.9 1909.3,965.5 1910.1,972.1 1910.9,966.4 1911.7,973.9 1912.5,967.5 1913.3,971.6 1914.1,967.2 1914.9,973.2 1915.7,966.7 1916.5,974.9 1917.3,973.1 1918.1,966.5 1918.9,975.3 1919.7,967.0 1920.5,971.5 1921.3,966.7 1922.1,971.1 1922.9,966.2 1923.0,977.1 1923.7,963.8 1924.5,972.1 1925.3,967.1 1926.1,973.2 1926.9,965.5 1927.7,972.2 1928.5,967.6 1929.3,974.1 1930.1,973.0 1930.9,966.7 1931.7,973.4 1932.5,968.2 1933.3,972.7 1934.1,965.9 1934.9,972.7 1935.7,967.6 1936.5,967.0 1937.3,973.5 1938.1,964.2 1938.9,972.0 1939.7,973.3 1940.5,964.9 1941.3,973.2 1942.1,967.1 1942.9,969.4 1943.7,974.4 1944.5,966.5 1945.3,974.3 1946.1,967.9 1946.9,973.8 1947.7,967.8 1948.5,974.4 1949.3,973.4 1950.1,966.8 1950.9,969.5 1951.7,968.3 1952.5,971.5 1953.3,968.1 1954.1,974.5 1954.9,968.3" stroke="#0468BE" stroke-width="8.5" fill="none" stroke-linejoin="round" stroke-linecap="round"/>
<polyline points="317.3,798.0 318.1,801.6 318.9,796.3 319.7,800.4 320.5,794.9 321.3,799.5 322.1,797.0 322.9,798.2 323.7,796.9 324.5,800.5 325.3,796.4 326.1,798.7 326.9,799.9 327.7,798.6 328.5,796.1 329.3,796.0 330.1,799.6 330.9,795.8 331.7,795.5 332.5,798.8 333.3,796.5 334.1,795.1 334.9,797.1 335.7,797.6 336.5,798.1 337.3,794.4 338.0,798.1 338.1,793.5 338.9,798.4 339.7,793.8 340.5,797.8 341.3,794.8 342.1,799.6 342.9,795.6 343.7,793.1 344.5,797.4 345.3,798.6 346.1,795.2 346.9,798.4 347.7,793.7 348.5,796.0 349.3,794.4 350.1,798.3 350.9,791.9 351.7,797.9 352.5,794.2 353.3,797.6 354.1,794.8 354.9,796.6 355.7,793.4 356.5,793.5 357.3,792.8 358.1,797.5 358.9,797.8 359.7,793.4 360.0,797.8 360.5,791.1 361.3,796.2 362.1,792.9 362.9,796.4 363.7,792.3 364.5,797.0 365.3,793.2 366.1,796.5 366.9,796.4 367.7,792.2 368.5,796.3 369.3,790.7 370.1,791.2 370.9,795.4 371.7,791.3 372.5,797.2 373.3,791.8 374.1,796.1 374.9,791.6 375.7,793.5 376.5,787.8 377.3,795.0 378.1,790.8 378.9,791.0 379.7,793.6 380.5,793.3 381.0,791.0 381.3,793.5 382.1,791.7 382.9,794.1 383.7,793.8 384.5,789.3 385.3,794.1 386.1,789.6 386.9,792.9 387.7,790.5 388.5,792.8 389.3,788.8 390.1,792.8 390.9,787.4 391.7,791.8 392.5,789.0 393.3,792.0 394.1,792.3 394.9,786.6 395.7,790.7 396.5,787.9 397.3,790.7 398.1,787.7 398.9,788.5 399.7,786.1 400.5,785.9 401.3,790.7 402.1,786.8 402.9,789.8 403.0,786.9 403.7,788.2 404.5,785.0 405.3,787.5 406.1,785.2 406.9,790.7 407.7,789.4 408.5,783.6 409.3,788.4 410.1,787.4 410.9,783.9 411.7,788.9 412.5,786.7 413.3,783.2 414.1,787.0 414.9,782.2 415.7,787.1 416.5,782.3 417.3,782.2 418.1,781.6 418.9,779.6 419.7,785.5 420.5,780.2 421.3,784.3 422.1,779.7 422.9,786.8 423.7,779.0 424.0,783.0 424.5,779.1 425.3,783.2 426.1,778.7 426.9,782.4 427.7,777.8 428.5,782.8 429.3,779.0 430.1,782.6 430.9,778.4 431.7,777.6 432.5,782.5 433.3,778.0 434.1,781.4 434.9,773.6 435.7,781.2 436.5,775.2 437.3,776.5 438.1,777.6 438.9,776.4 439.7,779.9 440.5,774.0 441.3,779.5 442.1,776.8 442.9,775.0 443.7,779.1 444.5,775.7 445.3,775.4 446.0,778.5 446.1,775.4 446.9,776.8 447.7,774.5 448.5,778.7 449.3,772.1 450.1,777.5 450.9,772.4 451.7,776.2 452.5,771.2 453.3,778.1 454.1,771.5 454.9,775.2 455.7,771.1 456.5,769.5 457.3,771.6 458.1,775.4 458.9,770.7 459.7,770.3 460.5,773.5 461.3,768.3 462.1,773.5 462.9,773.6 463.7,768.9 464.5,767.5 465.3,772.0 466.1,766.7 466.9,771.7 467.0,766.5 467.7,770.0 468.5,767.8 469.3,767.0 470.1,769.7 470.9,765.6 471.7,768.5 472.5,763.2 473.3,767.3 474.1,762.0 474.9,766.0 475.7,766.7 476.5,761.8 477.3,764.0 478.1,762.6 478.9,760.6 479.7,765.5 480.5,758.6 481.3,763.7 482.1,758.1 482.9,763.3 483.7,761.8 484.5,756.4 485.3,761.5 486.1,757.2 486.9,763.8 487.7,755.3 488.0,759.7 488.5,760.2 489.3,756.0 490.1,757.3 490.9,752.1 491.7,761.8 492.5,753.7 493.3,754.8 494.1,751.7 494.9,754.2 495.7,755.7 496.5,751.7 497.3,754.6 498.1,749.8 498.9,751.3 499.7,747.8 500.5,750.2 501.3,747.2 502.1,749.7 502.9,747.5 503.7,748.0 504.5,744.2 505.3,746.1 506.1,744.7 506.9,746.1 507.7,741.6 508.5,749.1 509.3,740.0 510.0,743.9 510.1,740.0 510.9,744.2 511.7,740.4 512.5,738.1 513.3,737.8 514.1,737.7 514.9,742.2 515.7,737.0 516.5,734.4 517.3,738.5 518.1,733.7 518.9,736.3 519.7,732.5 520.5,735.9 521.3,730.3 522.1,732.1 522.9,728.9 523.7,727.9 524.5,731.0 525.3,727.3 526.1,729.5 526.9,724.8 527.7,728.2 528.5,723.9 529.3,727.2 530.1,721.0 530.9,724.3 531.0,719.5 531.7,723.8 532.5,720.2 533.3,722.4 534.1,718.2 534.9,721.9 535.7,714.5 536.5,720.8 537.3,715.5 538.1,718.2 538.9,709.1 539.7,715.7 540.5,710.9 541.3,714.8 542.1,710.1 542.9,712.2 543.7,707.3 544.5,711.0 545.3,705.2 546.1,710.2 546.9,705.6 547.7,705.8 548.5,702.8 549.3,702.6 550.1,702.1 550.9,703.6 551.7,698.1 552.5,702.3 553.0,696.3 553.3,702.3 554.1,699.1 554.9,695.3 555.7,700.0 556.5,695.3 557.3,693.9 558.1,695.7 558.9,691.3 559.7,695.3 560.5,689.6 561.3,686.3 562.1,688.1 562.9,689.1 563.7,684.6 564.5,688.4 565.3,682.8 566.1,687.5 566.9,679.3 567.7,685.9 568.5,679.1 569.3,682.9 570.1,680.9 570.9,674.7 571.7,677.2 572.5,677.6 573.3,673.2 574.0,676.0 574.1,670.5 574.9,673.8 575.7,670.6 576.5,671.8 577.3,667.6 578.1,669.9 578.9,664.4 579.7,669.4 580.5,665.1 581.3,664.2 582.1,666.0 582.9,659.3 583.7,661.4 584.5,657.5 585.3,659.5 586.1,654.4 586.9,657.2 587.7,656.8 588.5,651.4 589.3,650.7 590.0,655.3 590.1,654.4 590.9,649.3 591.7,650.7 592.5,645.4 593.3,641.0 594.1,646.8 594.9,637.7 595.7,643.9 596.5,632.0 597.3,639.6 598.1,630.8 598.9,635.5 599.7,633.7 600.5,626.1 601.3,631.2 602.1,624.0 602.9,624.1 603.7,623.2 604.0,617.0 604.5,617.9 605.3,619.7 606.1,615.0 606.9,617.6 607.7,615.3 608.5,607.7 609.3,611.6 610.1,604.5 610.9,607.6 611.7,601.4 612.5,608.4 613.3,598.8 614.1,601.5 614.9,594.0 615.7,594.4 616.5,596.0 617.0,591.2 617.3,594.5 618.1,587.5 618.9,589.2 619.7,584.5 620.5,575.9 621.3,577.6 622.1,569.5 622.9,568.6 623.7,569.3 624.5,560.5 625.0,563.4 625.3,555.3 626.1,553.5 626.9,537.8 627.7,542.8 628.5,534.4 629.3,523.7 630.0,523.1 630.1,518.2 630.9,508.1 631.7,493.1 632.5,480.4 633.3,471.5 634.0,463.5 634.1,459.8 634.9,435.7 635.7,421.8 636.5,397.8 637.3,414.6 638.1,421.5 638.9,442.0 639.0,435.6 639.7,454.1 640.5,462.1 641.3,481.4 642.0,487.8 642.1,493.6 642.9,498.3 643.7,508.2 644.5,513.4 645.3,524.3 646.0,526.8 646.1,527.4 646.9,537.7 647.7,536.1 648.5,546.4 649.3,550.3 650.0,553.4 650.1,547.9 650.9,556.7 651.7,552.7 652.5,556.6 653.3,556.7 654.1,563.9 654.9,558.7 655.7,565.5 656.5,565.2 657.2,569.5 657.3,565.2 658.1,564.2 658.9,566.2 659.7,556.8 660.5,561.9 661.3,552.2 662.1,549.1 662.9,552.3 663.0,546.4 663.7,550.2 664.5,541.9 665.3,546.2 666.1,539.2 666.9,543.4 667.7,532.8 668.0,537.0 668.5,530.2 669.3,533.7 670.1,521.7 670.9,525.9 671.7,519.5 672.5,512.3 673.3,518.3 674.0,507.3 674.1,511.3 674.9,502.1 675.7,504.8 676.5,493.3 677.3,491.3 678.1,484.1 678.9,489.8 679.7,479.8 680.0,484.4 680.5,479.9 681.3,468.4 682.1,471.3 682.9,459.9 683.7,454.9 684.5,451.3 685.3,451.2 686.0,442.2 686.1,447.0 686.9,435.1 687.7,436.5 688.5,426.6 689.3,426.2 690.1,419.4 690.9,415.0 691.0,405.9 691.7,409.1 692.5,396.4 693.3,396.4 694.1,384.8 694.9,391.0 695.7,375.8 696.0,380.5 696.5,371.2 697.3,374.0 698.1,361.6 698.9,365.7 699.5,358.4 699.7,359.6 700.5,372.8 701.3,370.7 702.1,384.9 702.5,381.3 702.9,395.1 703.7,401.8 704.5,418.3 705.3,440.0 705.5,445.6 706.1,452.2 706.9,479.9 707.7,495.7 708.5,525.0 709.3,534.8 710.1,559.5 710.9,570.9 711.5,591.2 711.7,592.1 712.5,603.3 713.3,610.0 714.1,622.8 714.9,625.4 715.0,633.0 715.7,631.3 716.5,640.2 717.3,637.9 718.1,648.9 718.6,645.5 718.9,654.7 719.7,649.8 720.5,659.5 721.3,658.7 722.1,654.9 722.9,666.3 723.7,669.5 724.5,666.3 725.0,671.9 725.3,663.2 726.1,669.6 726.9,673.5 727.7,668.1 728.5,675.0 729.3,669.7 730.1,679.2 730.9,673.1 731.7,674.0 732.5,682.8 732.9,676.6 733.3,683.2 734.1,673.9 734.9,683.5 735.7,676.5 736.5,684.7 737.3,676.9 738.1,683.4 738.9,682.0 739.7,685.6 740.5,681.4 741.3,689.6 742.1,679.4 742.9,690.1 743.7,680.7 744.5,689.7 745.3,684.6 746.1,690.4 746.9,679.3 747.1,693.0 747.7,692.1 748.5,690.0 749.3,686.7 750.1,693.0 750.9,685.0 751.7,693.9 752.5,692.5 753.3,686.1 754.1,690.3 754.9,685.0 755.7,694.8 756.5,695.4 757.3,686.2 758.1,693.0 758.9,686.2 759.7,692.6 760.5,687.6 761.3,691.2 761.4,687.9 762.1,694.4 762.9,685.2 763.7,692.3 764.5,684.0 765.3,688.9 766.1,691.8 766.9,681.5 767.7,690.7 768.5,681.9 769.3,680.7 770.0,690.6 770.1,682.6 770.9,687.3 771.7,684.3 772.5,684.4 773.3,692.0 774.1,679.8 774.9,683.9 775.7,693.3 776.5,687.9 777.3,684.3 778.1,687.0 778.9,694.3 779.7,683.4 780.5,695.2 781.3,684.7 782.1,695.7 782.9,683.6 783.7,693.5 784.5,684.4 785.3,694.4 786.1,689.9 786.9,696.5 787.7,686.8 788.5,696.6 789.3,689.7 790.1,697.7 790.9,689.5 791.7,701.3 792.5,689.1 792.9,698.3 793.3,690.6 794.1,698.4 794.9,700.0 795.7,690.4 796.5,696.3 797.3,692.1 798.1,696.4 798.9,685.8 799.7,690.4 800.5,695.4 801.3,689.4 802.1,695.3 802.9,689.1 803.7,694.8 804.5,689.4 805.3,695.4 806.1,685.5 806.9,696.1 807.7,690.0 808.5,696.7 809.3,685.3 810.1,696.0 810.9,687.7 811.7,692.8 812.5,684.7 813.3,696.4 814.1,687.2 814.9,693.6 815.7,684.5 816.5,685.6 817.3,693.2 818.1,685.5 818.9,694.4 819.7,687.0 820.5,683.5 821.3,684.7 822.1,683.8 822.9,689.7 823.7,688.4 824.5,680.5 825.3,691.9 826.1,681.9 826.9,690.2 827.7,690.6 828.5,682.6 829.3,681.7 830.1,691.8 830.9,682.5 831.7,687.6 832.5,677.9 833.3,687.8 834.0,680.3 834.1,688.3 834.9,680.6 835.7,691.3 836.5,683.0 837.3,685.6 838.1,691.0 838.9,693.5 839.7,683.3 840.5,690.2 841.3,695.6 842.1,688.0 842.9,696.4 843.7,690.0 844.5,698.8 845.3,690.7 846.1,690.0 846.9,694.1 847.7,702.7 848.5,694.4 849.3,704.1 850.0,696.7 850.1,697.8 850.9,705.1 851.7,699.4 852.5,705.0 853.3,697.6 854.1,697.8 854.9,699.9 855.7,706.5 856.5,700.5 857.3,706.3 858.1,698.1 858.9,714.1 859.7,701.9 860.5,712.4 861.3,701.1 862.1,708.6 862.9,712.4 863.7,702.4 864.5,715.0 865.3,706.8 866.1,711.4 866.9,708.9 867.7,713.2 868.5,713.2 869.3,708.3 870.1,712.3 870.9,717.1 871.7,710.1 872.5,716.9 872.9,708.0 873.3,718.1 874.1,711.3 874.9,716.6 875.7,718.8 876.5,709.5 877.3,711.9 878.1,714.1 878.9,711.2 879.7,719.6 880.5,707.9 881.3,710.6 882.1,720.1 882.9,720.6 883.7,710.4 884.5,717.9 885.3,710.7 886.1,718.1 886.9,712.2 887.7,721.7 888.5,711.0 889.3,713.3 890.1,723.0 890.9,711.0 891.7,712.2 892.5,721.7 893.3,713.8 894.1,722.3 894.9,714.7 895.7,724.0 896.5,724.9 897.3,715.5 898.1,714.5 898.9,715.5 899.7,724.2 900.5,718.1 901.3,725.1 902.1,717.1 902.9,716.7 903.7,726.9 904.5,716.4 905.3,716.7 906.1,725.0 906.9,721.1 907.7,719.2 908.5,726.5 909.3,718.7 910.1,729.3 910.9,719.0 911.7,729.9 912.5,720.7 913.3,726.2 914.1,719.0 914.9,726.6 915.7,723.6 916.5,728.0 917.3,720.9 918.1,731.3 918.6,729.6 918.9,720.3 919.7,729.5 920.5,724.6 921.3,727.7 922.1,724.7 922.9,729.2 923.7,725.4 924.5,727.1 925.3,723.3 926.1,731.1 926.9,721.0 927.7,728.9 928.5,721.5 929.3,729.1 930.1,717.3 930.9,726.7 931.7,725.3 932.5,729.1 933.3,724.3 934.1,728.9 934.9,720.3 935.7,722.3 936.5,729.0 937.3,722.2 938.1,729.8 938.9,729.9 939.7,720.9 940.5,729.4 941.3,721.5 941.4,730.4 942.1,721.3 942.9,721.4 943.7,729.1 944.5,722.7 945.3,726.5 946.1,728.3 946.9,725.3 947.7,733.3 948.5,724.7 949.3,734.0 950.1,735.2 950.9,729.7 951.7,733.6 952.5,734.6 953.3,734.0 954.1,736.3 954.9,727.7 955.7,737.0 956.5,729.3 957.3,741.2 958.1,730.2 958.9,738.2 959.7,740.6 960.5,742.0 961.3,733.4 962.1,738.1 962.9,730.4 963.7,731.2 964.3,731.9 964.5,740.5 965.3,732.6 966.1,739.0 966.9,740.8 967.7,731.8 968.5,736.7 969.3,742.1 970.1,743.7 970.9,734.8 971.7,741.3 972.5,736.8 973.3,745.9 974.1,735.9 974.9,746.8 975.7,737.0 976.5,747.6 977.3,737.3 978.1,747.1 978.9,746.0 979.7,737.9 980.5,743.5 981.3,737.6 982.1,746.3 982.9,747.0 983.7,745.8 984.5,741.1 985.3,745.6 986.1,747.2 986.9,749.2 987.1,740.9 987.7,745.9 988.5,741.9 989.3,746.0 990.1,743.4 990.9,747.4 991.7,741.9 992.5,741.5 993.3,751.4 994.1,739.5 994.9,738.7 995.7,748.6 996.5,740.8 997.3,747.4 998.1,744.4 998.9,746.2 999.7,742.2 1000.5,749.8 1001.3,738.0 1002.1,749.1 1002.9,744.5 1003.7,748.7 1004.5,741.2 1005.3,747.6 1006.1,743.0 1006.9,750.5 1007.7,742.2 1008.5,750.6 1009.3,742.4 1010.0,750.0 1010.1,740.3 1010.9,751.3 1011.7,741.6 1012.5,740.9 1013.3,741.7 1014.1,750.1 1014.9,740.4 1015.7,748.7 1016.5,752.4 1017.3,739.9 1018.1,748.3 1018.9,751.0 1019.7,741.1 1020.5,747.1 1021.3,737.0 1022.1,746.8 1022.9,738.7 1023.7,744.6 1024.5,738.1 1025.3,744.3 1026.1,735.9 1026.9,746.0 1027.7,737.6 1028.5,746.5 1029.3,738.4 1030.1,742.6 1030.9,734.9 1031.7,744.0 1032.5,741.4 1032.9,742.0 1033.3,735.9 1034.1,742.1 1034.9,735.1 1035.7,742.8 1036.5,734.5 1037.3,735.4 1038.1,734.6 1038.9,735.9 1039.7,734.5 1040.5,734.5 1041.3,743.8 1042.1,734.4 1042.9,741.9 1043.7,735.0 1044.5,744.6 1045.3,735.2 1046.1,742.4 1046.9,744.9 1047.7,733.5 1048.5,743.3 1049.3,735.9 1050.1,735.9 1050.9,742.5 1051.7,745.5 1052.5,737.3 1053.3,739.0 1054.1,733.2 1054.9,742.1 1055.7,735.7 1056.5,743.1 1057.3,741.9 1058.1,734.7 1058.9,741.3 1059.7,734.7 1060.5,741.8 1061.3,734.9 1062.1,739.3 1062.9,734.8 1063.7,741.7 1064.5,731.6 1065.3,739.9 1066.1,735.1 1066.9,741.4 1067.1,731.5 1067.7,740.3 1068.5,731.0 1069.3,739.8 1070.1,743.5 1070.9,732.6 1071.7,738.5 1072.5,744.0 1073.3,734.3 1074.1,741.3 1074.9,735.3 1075.7,741.8 1076.5,735.3 1077.3,742.1 1078.1,732.7 1078.9,744.3 1079.7,732.8 1080.5,743.7 1081.3,734.0 1082.1,742.1 1082.9,736.7 1083.7,733.3 1084.5,735.8 1085.3,743.0 1086.1,737.5 1086.9,743.6 1087.7,733.1 1088.5,735.6 1089.3,734.1 1090.0,742.9 1090.1,735.4 1090.9,742.5 1091.7,740.2 1092.5,735.3 1093.3,744.3 1094.1,735.1 1094.9,746.5 1095.7,734.7 1096.5,735.5 1097.3,737.4 1098.1,748.8 1098.9,738.7 1099.7,743.5 1100.5,737.5 1101.3,746.1 1102.1,736.3 1102.9,745.4 1103.7,739.9 1104.5,737.9 1105.3,735.4 1106.1,744.0 1106.9,739.4 1107.7,745.3 1108.5,738.4 1109.3,745.1 1110.1,737.0 1110.9,743.7 1111.7,737.8 1112.5,747.7 1112.9,745.1 1113.3,738.3 1114.1,744.7 1114.9,746.3 1115.7,737.3 1116.5,746.2 1117.3,738.1 1118.1,748.8 1118.9,741.2 1119.7,751.3 1120.5,737.2 1121.3,743.8 1122.1,741.5 1122.9,745.6 1123.7,736.7 1124.5,745.6 1125.3,739.1 1126.1,747.0 1126.9,739.4 1127.7,750.3 1128.5,735.8 1129.3,745.2 1130.1,739.1 1130.9,748.4 1131.7,741.6 1132.5,739.6 1133.3,741.0 1134.1,745.5 1134.9,741.6 1135.7,749.1 1136.5,740.5 1137.3,747.0 1138.1,739.0 1138.9,747.3 1139.7,742.9 1140.5,746.0 1141.3,743.9 1142.1,746.8 1142.9,752.4 1143.7,736.9 1144.5,748.3 1145.3,746.5 1146.1,742.3 1146.9,741.5 1147.7,748.3 1148.5,738.2 1149.3,748.0 1150.1,738.2 1150.9,747.7 1151.7,743.8 1152.5,739.8 1153.3,749.7 1154.1,739.4 1154.9,749.8 1155.7,739.2 1156.5,747.5 1157.3,740.3 1158.1,748.6 1158.9,739.4 1159.7,749.7 1160.0,741.1 1160.5,746.3 1161.3,747.5 1162.1,748.1 1162.9,747.8 1163.7,742.7 1164.5,739.8 1165.3,739.8 1166.1,750.9 1166.9,740.4 1167.7,750.5 1168.5,742.8 1169.3,749.2 1170.1,740.8 1170.9,747.1 1171.7,742.3 1172.5,746.2 1173.3,753.7 1174.1,742.1 1174.9,744.4 1175.7,743.5 1176.5,750.4 1177.3,741.2 1178.1,753.5 1178.9,744.0 1179.7,751.1 1180.5,743.4 1181.3,744.1 1182.1,752.4 1182.7,751.7 1182.9,747.5 1183.7,750.8 1184.5,747.0 1185.3,748.9 1186.1,752.7 1186.9,744.0 1187.7,755.1 1188.5,746.6 1189.3,749.1 1190.1,758.5 1190.9,748.7 1191.7,761.5 1192.5,744.3 1193.3,758.6 1194.1,747.3 1194.9,757.1 1195.7,751.9 1196.5,760.3 1197.3,752.3 1198.1,751.8 1198.9,764.3 1199.7,753.9 1200.5,761.9 1201.3,755.0 1202.1,755.9 1202.9,759.4 1203.7,763.8 1204.5,753.4 1205.3,763.9 1205.5,754.2 1206.1,762.0 1206.9,757.1 1207.7,764.6 1208.5,756.2 1209.3,765.5 1210.1,757.2 1210.9,755.9 1211.7,764.6 1212.5,766.5 1213.3,767.7 1214.1,760.8 1214.9,768.3 1215.7,763.3 1216.5,762.4 1217.3,761.4 1218.1,765.9 1218.9,758.0 1219.7,772.7 1220.5,772.0 1221.3,761.2 1222.1,772.1 1222.9,763.7 1223.7,764.0 1224.5,768.1 1225.3,762.7 1226.1,771.9 1226.9,769.2 1227.7,766.6 1228.2,773.9 1228.5,768.2 1229.3,772.3 1230.1,769.7 1230.9,766.8 1231.7,773.6 1232.5,769.8 1233.3,772.7 1234.1,774.9 1234.9,767.4 1235.7,777.0 1236.5,776.1 1237.3,765.3 1238.1,772.9 1238.9,769.2 1239.7,775.8 1240.5,767.0 1241.3,769.0 1242.1,768.6 1242.9,774.3 1243.7,775.3 1244.5,768.1 1245.3,778.8 1246.1,768.1 1246.9,778.2 1247.7,767.7 1248.5,777.9 1249.3,778.9 1250.1,775.9 1250.9,768.4 1251.0,778.6 1251.7,768.4 1252.5,778.5 1253.3,771.4 1254.1,777.2 1254.9,770.3 1255.7,774.7 1256.5,772.0 1257.3,771.7 1258.1,771.6 1258.9,776.7 1259.7,779.5 1260.5,771.5 1261.3,777.5 1262.1,769.0 1262.9,778.6 1263.7,771.4 1264.5,770.0 1265.3,778.8 1266.1,778.9 1266.9,769.7 1267.7,780.7 1268.5,778.9 1269.3,774.0 1270.1,773.0 1270.9,780.3 1271.7,774.8 1272.5,770.7 1273.3,779.6 1273.7,774.8 1274.1,770.4 1274.9,779.3 1275.7,777.3 1276.5,778.2 1277.3,771.8 1278.1,782.2 1278.9,772.1 1279.7,780.3 1280.5,773.0 1281.3,782.7 1282.1,770.7 1282.9,777.6 1283.7,772.8 1284.5,781.2 1285.3,773.2 1286.1,781.1 1286.9,771.9 1287.7,779.0 1288.5,782.5 1289.3,772.9 1290.1,782.3 1290.9,772.8 1291.7,773.4 1292.5,782.8 1293.3,772.8 1294.1,783.3 1294.9,784.9 1295.7,784.3 1296.4,774.8 1296.5,773.4 1297.3,781.0 1298.1,775.2 1298.9,784.5 1299.7,775.7 1300.5,780.4 1301.3,782.6 1302.1,781.3 1302.9,779.5 1303.7,773.4 1304.5,781.4 1305.3,770.4 1306.1,779.7 1306.9,772.6 1307.7,780.8 1308.5,773.0 1309.3,772.0 1310.1,780.2 1310.9,770.4 1311.7,773.4 1312.5,779.7 1313.3,768.6 1314.1,778.3 1314.9,778.9 1315.7,772.2 1316.5,777.0 1317.3,772.8 1318.1,777.4 1318.9,778.3 1319.2,773.0 1319.7,772.7 1320.5,780.3 1321.3,770.1 1322.1,780.6 1322.9,773.5 1323.7,779.9 1324.5,774.3 1325.3,780.4 1326.1,771.3 1326.9,779.1 1327.7,772.5 1328.5,781.0 1329.3,771.6 1330.1,779.0 1330.9,774.0 1331.7,777.4 1332.5,773.5 1333.3,773.9 1334.1,780.1 1334.9,772.3 1335.7,778.1 1336.5,774.5 1337.3,779.8 1338.1,778.0 1338.9,780.2 1339.7,774.3 1340.5,781.1 1341.3,772.6 1341.9,781.8 1342.1,774.1 1342.9,773.4 1343.7,781.1 1344.5,772.2 1345.3,776.7 1346.1,780.5 1346.9,779.8 1347.7,773.8 1348.5,772.5 1349.3,773.8 1350.1,781.3 1350.9,780.0 1351.7,773.7 1352.5,781.5 1353.3,775.8 1354.1,782.2 1354.9,775.1 1355.7,778.1 1356.5,774.7 1357.3,782.1 1358.1,773.9 1358.9,785.5 1359.7,774.7 1360.5,782.5 1361.3,773.9 1362.1,778.8 1362.9,775.9 1363.7,781.8 1364.5,775.0 1364.7,782.9 1365.3,773.5 1366.1,782.2 1366.9,775.9 1367.7,784.9 1368.5,776.9 1369.3,782.5 1370.1,785.8 1370.9,775.2 1371.7,784.0 1372.5,776.5 1373.3,785.2 1374.1,772.4 1374.9,784.2 1375.7,777.5 1376.5,785.8 1377.3,787.1 1378.1,777.1 1378.9,783.4 1379.7,777.4 1380.5,783.7 1381.3,776.8 1382.1,784.9 1382.9,777.8 1383.7,778.6 1384.5,786.9 1385.3,782.1 1386.1,786.5 1386.9,786.5 1387.4,786.7 1387.7,781.7 1388.5,777.6 1389.3,785.5 1390.1,779.1 1390.9,785.9 1391.7,780.2 1392.5,780.7 1393.3,784.5 1394.1,786.0 1394.9,778.3 1395.7,785.4 1396.5,780.2 1397.3,784.6 1398.1,788.9 1398.9,782.7 1399.7,785.8 1400.5,781.0 1401.3,788.4 1402.1,782.9 1402.9,787.6 1403.7,780.3 1404.5,781.2 1405.3,786.9 1406.1,780.7 1406.9,789.8 1407.7,791.6 1408.5,779.7 1409.3,785.9 1410.1,779.9 1410.9,790.0 1411.7,781.4 1412.5,789.6 1413.3,780.3 1414.1,782.3 1414.9,786.9 1415.7,782.4 1416.5,792.1 1417.3,783.0 1418.1,787.9 1418.9,784.1 1419.7,789.7 1420.5,783.9 1421.3,782.7 1422.1,788.0 1422.9,780.6 1423.7,790.6 1424.5,779.2 1425.3,783.6 1426.1,787.8 1426.9,782.3 1427.7,784.7 1428.5,788.7 1429.3,781.8 1430.1,782.8 1430.9,790.7 1431.7,784.0 1432.5,788.9 1432.9,783.2 1433.3,790.8 1434.1,781.5 1434.9,791.4 1435.7,783.0 1436.5,784.2 1437.3,789.2 1438.1,783.2 1438.9,787.7 1439.7,784.7 1440.5,787.5 1441.3,783.0 1442.1,790.3 1442.9,784.8 1443.7,791.5 1444.5,790.3 1445.3,783.8 1446.1,791.2 1446.9,783.2 1447.7,788.8 1448.5,784.7 1449.3,785.9 1450.1,791.3 1450.9,784.1 1451.7,782.7 1452.5,785.0 1453.3,785.7 1454.1,792.1 1454.9,782.9 1455.6,786.2 1455.7,792.1 1456.5,785.3 1457.3,792.9 1458.1,783.7 1458.9,790.1 1459.7,784.9 1460.5,784.9 1461.3,788.9 1462.1,783.9 1462.9,790.9 1463.7,783.9 1464.5,789.0 1465.3,784.2 1466.1,791.7 1466.9,786.9 1467.7,782.7 1468.5,793.0 1469.3,790.7 1470.1,786.8 1470.9,793.0 1471.7,794.7 1472.5,785.2 1473.3,791.8 1474.1,783.6 1474.9,791.7 1475.7,784.4 1476.5,793.6 1477.3,786.6 1478.1,792.0 1478.4,787.3 1478.9,792.9 1479.7,784.7 1480.5,793.0 1481.3,788.0 1482.1,795.1 1482.9,785.6 1483.7,793.5 1484.5,785.4 1485.3,793.8 1486.1,784.8 1486.9,785.3 1487.7,788.5 1488.5,788.2 1489.3,794.1 1490.1,787.5 1490.9,793.4 1491.7,788.6 1492.5,792.5 1493.3,788.8 1494.1,796.7 1494.9,788.5 1495.7,793.3 1496.5,789.3 1497.3,793.7 1498.1,788.7 1498.9,793.7 1499.7,787.2 1500.5,793.9 1501.1,789.2 1501.3,797.1 1502.1,789.0 1502.9,796.9 1503.7,789.3 1504.5,796.3 1505.3,786.2 1506.1,790.4 1506.9,796.1 1507.7,790.7 1508.5,795.4 1509.3,790.2 1510.1,795.7 1510.9,791.0 1511.7,792.7 1512.5,796.4 1513.3,795.8 1514.1,786.0 1514.9,789.3 1515.7,795.9 1516.5,790.8 1517.3,791.6 1518.1,796.1 1518.9,791.4 1519.7,797.9 1520.5,787.9 1521.3,789.2 1522.1,797.8 1522.9,796.0 1523.7,790.7 1523.8,799.5 1524.5,790.4 1525.3,797.9 1526.1,791.1 1526.9,789.5 1527.7,788.9 1528.5,794.0 1529.3,792.1 1530.1,795.3 1530.9,795.8 1531.7,790.0 1532.5,795.2 1533.3,791.1 1534.1,794.9 1534.9,791.6 1535.7,796.8 1536.5,790.9 1537.3,794.8 1538.1,794.7 1538.9,795.3 1539.7,792.4 1540.5,796.6 1541.3,789.7 1542.1,794.6 1542.9,795.6 1543.7,790.8 1544.5,797.5 1545.3,791.3 1546.1,795.9 1546.9,795.0 1547.7,791.6 1548.5,795.5 1549.3,785.9 1550.1,798.0 1550.9,796.9 1551.7,790.0 1552.5,792.5 1553.3,791.7 1554.1,797.5 1554.9,790.4 1555.7,800.4 1556.5,790.4 1557.3,797.3 1558.0,790.3 1558.1,797.3 1558.9,790.0 1559.7,798.1 1560.5,791.2 1561.3,796.4 1562.1,791.5 1562.9,796.7 1563.7,790.0 1564.5,796.8 1565.3,793.3 1566.1,795.8 1566.9,791.4 1567.7,796.4 1568.5,791.6 1569.3,796.4 1570.1,798.1 1570.9,790.0 1571.7,798.9 1572.5,793.1 1573.3,795.6 1574.1,792.6 1574.9,789.6 1575.7,790.0 1576.5,796.3 1577.3,791.8 1578.1,797.5 1578.9,789.3 1579.7,799.3 1580.5,792.0 1581.3,789.9 1582.1,797.0 1582.9,799.4 1583.7,800.8 1584.5,790.5 1585.3,798.2 1586.1,793.9 1586.9,798.2 1587.7,793.6 1588.5,792.2 1589.3,790.2 1590.1,795.3 1590.9,788.2 1591.7,792.2 1592.5,798.6 1593.3,792.2 1594.1,798.5 1594.9,796.8 1595.7,791.6 1596.5,794.7 1597.3,790.3 1598.1,798.6 1598.9,792.1 1599.7,797.3 1600.5,796.3 1601.3,796.8 1602.1,798.1 1602.9,791.4 1603.7,798.9 1604.5,790.3 1605.3,790.5 1606.1,798.5 1606.9,791.4 1607.7,797.7 1608.5,799.7 1609.3,793.0 1610.1,797.0 1610.9,791.6 1611.7,796.2 1612.5,792.5 1613.3,796.1 1614.1,793.3 1614.9,802.9 1615.7,794.4 1616.5,799.6 1617.3,793.0 1618.1,793.8 1618.9,796.3 1619.7,791.5 1620.5,797.8 1621.3,792.3 1622.1,800.6 1622.9,794.2 1623.7,795.3 1624.5,798.6 1625.3,790.6 1626.1,798.7 1626.9,790.6 1627.7,800.1 1628.5,792.1 1629.3,797.6 1630.1,798.8 1630.9,800.2 1631.7,799.4 1632.5,792.7 1633.3,799.3 1634.1,792.7 1634.9,791.6 1635.7,798.5 1636.5,790.6 1637.3,799.4 1638.1,792.6 1638.9,796.5 1639.7,795.7 1640.5,798.7 1641.3,793.5 1642.1,801.6 1642.9,798.0 1643.2,794.3 1643.7,800.1 1644.5,796.3 1645.3,792.9 1646.1,797.4 1646.9,796.9 1647.7,796.8 1648.5,793.4 1649.3,799.2 1650.1,792.1 1650.9,794.5 1651.7,799.4 1652.5,793.0 1653.3,799.4 1654.1,791.3 1654.9,792.2 1655.7,798.2 1656.5,794.4 1657.3,798.2 1658.1,790.2 1658.9,800.9 1659.7,791.6 1660.5,799.8 1661.3,798.8 1662.1,795.2 1662.9,792.2 1663.7,802.0 1664.5,794.3 1665.3,794.6 1666.1,791.5 1666.9,799.0 1667.7,794.1 1668.5,800.5 1669.3,797.5 1670.1,795.8 1670.9,804.4 1671.7,800.5 1672.5,796.8 1673.3,799.3 1674.1,791.0 1674.9,793.4 1675.7,794.4 1676.5,798.7 1677.3,794.3 1678.1,801.8 1678.9,795.2 1679.7,798.8 1680.5,795.9 1681.3,797.5 1682.1,792.8 1682.9,800.9 1683.7,794.7 1684.5,794.3 1685.3,802.2 1686.1,795.1 1686.9,798.8 1687.7,793.2 1688.5,797.6 1689.3,800.2 1690.1,793.2 1690.9,802.8 1691.7,800.7 1692.5,795.0 1693.3,800.7 1694.1,795.3 1694.9,800.8 1695.7,793.1 1696.5,794.4 1697.3,803.3 1698.1,794.3 1698.9,800.6 1699.7,800.7 1700.5,804.0 1701.3,796.0 1702.1,802.6 1702.9,796.5 1703.7,802.0 1704.5,795.8 1705.3,803.1 1706.1,796.5 1706.9,800.4 1707.7,795.2 1708.5,803.2 1709.3,795.0 1710.1,796.7 1710.9,795.0 1711.7,798.9 1712.5,795.7 1713.3,792.7 1714.1,798.9 1714.9,796.2 1715.7,803.0 1716.5,804.2 1717.3,794.2 1718.1,801.2 1718.9,793.7 1719.7,803.9 1720.5,796.4 1721.3,802.0 1722.1,797.2 1722.9,801.6 1723.7,794.2 1724.5,797.6 1725.3,803.6 1726.1,795.7 1726.9,802.6 1727.7,797.0 1728.5,803.2 1729.3,796.4 1730.1,802.0 1730.9,798.4 1731.7,805.0 1732.5,801.8 1733.3,795.3 1734.1,796.3 1734.9,802.3 1735.7,797.2 1736.5,801.6 1737.3,797.5 1738.1,795.7 1738.9,800.6 1739.7,800.6 1740.5,796.3 1741.3,804.5 1742.1,796.3 1742.9,802.4 1743.7,793.9 1744.5,803.0 1745.3,797.5 1746.1,796.6 1746.9,804.0 1747.7,802.2 1748.5,795.8 1749.3,802.3 1750.1,802.9 1750.9,796.5 1751.7,799.5 1752.5,804.4 1753.3,796.2 1754.1,796.5 1754.9,803.1 1755.7,797.4 1756.5,804.6 1757.3,802.9 1758.1,796.0 1758.9,800.6 1759.7,805.5 1760.5,797.0 1761.3,803.3 1762.1,798.6 1762.9,801.8 1763.7,803.5 1764.5,798.7 1765.3,795.7 1766.1,802.0 1766.9,798.5 1767.7,803.1 1768.5,805.6 1769.3,803.4 1770.1,796.1 1770.9,799.2 1771.7,802.3 1772.5,804.3 1773.3,799.2 1774.1,801.1 1774.9,798.6 1775.7,798.2 1776.5,802.9 1777.3,804.2 1778.1,804.1 1778.9,798.4 1779.7,804.1 1780.5,798.0 1781.3,803.5 1782.1,799.1 1782.9,804.3 1783.7,803.0 1784.5,796.3 1785.3,801.6 1786.1,796.5 1786.9,804.9 1787.7,797.4 1788.5,802.1 1789.3,799.2 1790.1,804.5 1790.9,800.2 1791.7,804.8 1792.5,795.3 1793.3,797.2 1794.1,801.7 1794.9,797.3 1795.7,803.6 1796.5,795.9 1797.3,798.2 1798.1,805.2 1798.9,796.0 1799.7,804.3 1800.5,805.8 1801.3,798.9 1802.1,807.1 1802.9,799.6 1803.7,802.6 1804.5,798.8 1805.3,805.1 1806.1,797.1 1806.9,802.0 1807.7,798.1 1808.5,804.6 1809.3,795.1 1810.1,803.8 1810.9,800.3 1811.7,802.0 1812.5,798.8 1813.3,804.9 1814.1,798.3 1814.9,804.2 1815.7,803.3 1816.5,798.7 1817.3,804.4 1818.1,795.3 1818.9,804.3 1819.7,800.1 1820.5,803.8 1821.3,804.1 1822.1,801.5 1822.9,804.4 1823.7,798.6 1824.5,798.7 1825.3,803.2 1826.1,799.2 1826.9,804.9 1827.7,797.8 1828.5,805.0 1829.3,800.7 1829.7,798.1 1830.1,806.7 1830.9,804.3 1831.7,801.3 1832.5,805.8 1833.3,806.1 1834.1,799.0 1834.9,804.2 1835.7,806.2 1836.5,797.9 1837.3,804.8 1838.1,804.6 1838.9,798.8 1839.7,806.2 1840.5,805.0 1841.3,800.6 1842.1,804.1 1842.9,798.9 1843.7,798.6 1844.5,799.8 1845.3,798.1 1846.1,799.9 1846.9,808.7 1847.7,807.1 1848.5,798.1 1849.3,805.1 1850.1,798.4 1850.9,802.2 1851.7,797.3 1852.5,796.9 1853.3,803.6 1854.1,804.4 1854.9,800.6 1855.7,804.8 1856.5,799.8 1857.3,799.5 1858.1,806.4 1858.9,799.0 1859.7,804.1 1860.5,799.8 1861.3,803.8 1862.1,806.2 1862.9,801.0 1863.7,800.1 1864.5,807.0 1865.3,800.0 1866.1,805.1 1866.9,799.0 1867.7,801.7 1868.5,805.2 1869.3,798.4 1870.1,805.2 1870.9,798.9 1871.7,803.8 1872.5,799.6 1873.3,806.8 1874.1,799.7 1874.9,803.3 1875.7,800.5 1876.5,805.7 1877.3,800.6 1878.1,805.8 1878.9,807.1 1879.7,799.4 1880.5,799.7 1881.3,805.9 1882.1,800.9 1882.9,804.5 1883.7,801.2 1884.5,804.1 1885.3,797.7 1886.1,800.8 1886.9,805.2 1887.7,804.8 1888.5,800.4 1889.3,804.9 1890.1,800.2 1890.9,805.7 1891.7,804.9 1892.5,799.4 1893.3,805.1 1894.1,800.3 1894.9,805.1 1895.7,797.8 1896.5,803.8 1897.3,800.2 1898.1,799.1 1898.9,807.3 1899.7,801.2 1900.5,804.0 1901.3,800.1 1902.1,806.9 1902.9,806.4 1903.7,805.4 1904.5,800.5 1905.3,805.2 1906.1,800.3 1906.9,803.8 1907.7,801.8 1908.5,805.4 1909.3,797.8 1910.1,799.8 1910.9,803.4 1911.7,804.2 1912.5,800.3 1913.3,804.3 1914.1,799.9 1914.9,804.7 1915.7,801.2 1916.5,801.9 1917.3,806.1 1918.1,799.8 1918.9,806.1 1919.7,806.5 1920.5,800.4 1921.3,807.2 1922.1,804.4 1922.9,799.4 1923.0,805.2 1923.7,805.1 1924.5,801.2 1925.3,799.7 1926.1,800.2 1926.9,799.1 1927.7,804.8 1928.5,800.2 1929.3,801.7 1930.1,806.6 1930.9,810.6 1931.7,804.9 1932.5,799.2 1933.3,804.9 1934.1,798.8 1934.9,806.4 1935.7,800.0 1936.5,804.9 1937.3,798.8 1938.1,807.7 1938.9,801.4 1939.7,807.6 1940.5,801.8 1941.3,806.1 1942.1,806.0 1942.9,805.6 1943.7,799.7 1944.5,808.6 1945.3,802.2 1946.1,808.6 1946.9,799.8 1947.7,806.3 1948.5,800.4 1949.3,798.7 1950.1,806.0 1950.9,801.9 1951.7,805.6 1952.5,798.7 1953.3,800.1 1954.1,806.0 1954.9,801.5" stroke="#FDC4FE" stroke-width="8.5" fill="none" stroke-linejoin="round" stroke-linecap="round"/>
<polyline points="317.3,755.1 318.1,759.0 318.9,754.8 319.7,753.8 320.5,757.9 321.3,758.0 322.1,752.8 322.9,758.3 323.7,752.5 324.5,757.9 325.3,754.9 326.1,757.8 326.9,753.4 327.7,757.5 328.5,754.8 329.3,756.0 330.1,751.9 330.9,756.6 331.7,752.8 332.5,752.3 333.3,757.9 334.1,754.2 334.9,755.5 335.7,754.1 336.5,757.2 337.3,753.2 338.0,757.2 338.1,752.1 338.9,757.2 339.7,756.5 340.5,753.8 341.3,756.7 342.1,753.3 342.9,756.2 343.7,752.2 344.5,756.4 345.3,752.5 346.1,756.1 346.9,751.7 347.7,752.1 348.5,753.8 349.3,752.8 350.1,756.0 350.9,751.1 351.7,755.5 352.5,752.5 353.3,751.5 354.1,752.9 354.9,756.4 355.7,752.4 356.5,755.9 357.3,751.5 358.1,756.0 358.9,756.6 359.7,751.8 360.0,752.3 360.5,755.5 361.3,749.5 362.1,756.1 362.9,751.9 363.7,753.7 364.5,750.9 365.3,753.2 366.1,751.5 366.9,749.2 367.7,754.9 368.5,754.7 369.3,748.2 370.1,751.7 370.9,749.2 371.7,752.6 372.5,748.1 373.3,752.0 374.1,748.3 374.9,747.8 375.7,753.3 376.5,753.6 377.3,746.7 378.1,752.0 378.9,749.1 379.7,751.9 380.5,746.1 381.0,752.4 381.3,749.0 382.1,750.2 382.9,746.3 383.7,746.1 384.5,746.3 385.3,750.4 386.1,749.3 386.9,745.4 387.7,744.1 388.5,749.5 389.3,746.8 390.1,748.5 390.9,744.4 391.7,749.2 392.5,745.2 393.3,747.5 394.1,743.9 394.9,748.1 395.7,743.5 396.5,747.5 397.3,743.3 398.1,746.5 398.9,744.6 399.7,745.6 400.5,742.9 401.3,741.6 402.1,745.3 402.9,740.1 403.0,742.0 403.7,745.0 404.5,740.8 405.3,746.4 406.1,739.8 406.9,747.5 407.7,740.2 408.5,744.2 409.3,740.1 410.1,744.4 410.9,740.5 411.7,739.3 412.5,741.9 413.3,739.9 414.1,742.7 414.9,738.8 415.7,743.1 416.5,738.1 417.3,742.6 418.1,739.4 418.9,743.8 419.7,738.1 420.5,742.6 421.3,737.0 422.1,741.2 422.9,737.1 423.7,740.6 424.0,738.0 424.5,736.8 425.3,742.2 426.1,735.4 426.9,739.2 427.7,735.9 428.5,738.8 429.3,735.2 430.1,740.0 430.9,734.1 431.7,734.8 432.5,736.0 433.3,739.3 434.1,732.6 434.9,737.3 435.7,732.8 436.5,736.5 437.3,733.3 438.1,738.6 438.9,734.1 439.7,735.7 440.5,736.1 441.3,731.0 442.1,735.3 442.9,731.2 443.7,735.1 444.5,731.5 445.3,731.3 446.0,734.6 446.1,730.8 446.9,729.2 447.7,734.6 448.5,728.1 449.3,734.1 450.1,729.8 450.9,732.7 451.7,728.4 452.5,733.1 453.3,731.6 454.1,726.4 454.9,727.2 455.7,732.4 456.5,726.8 457.3,726.5 458.1,729.5 458.9,726.5 459.7,731.3 460.5,724.3 461.3,727.3 462.1,731.3 462.9,723.4 463.7,728.1 464.5,723.8 465.3,729.1 466.1,726.2 466.9,727.6 467.0,727.8 467.7,723.5 468.5,725.7 469.3,726.4 470.1,721.6 470.9,726.1 471.7,722.3 472.5,727.0 473.3,721.5 474.1,720.6 474.9,724.1 475.7,719.7 476.5,722.3 477.3,718.9 478.1,721.9 478.9,715.5 479.7,721.0 480.5,717.3 481.3,719.4 482.1,715.8 482.9,715.1 483.7,716.0 484.5,718.4 485.3,718.7 486.1,714.5 486.9,716.8 487.7,712.5 488.0,718.1 488.5,713.0 489.3,714.4 490.1,711.4 490.9,712.7 491.7,716.5 492.5,710.1 493.3,714.5 494.1,709.2 494.9,713.8 495.7,713.1 496.5,707.6 497.3,707.4 498.1,709.7 498.9,711.2 499.7,706.4 500.5,709.9 501.3,704.4 502.1,705.5 502.9,707.5 503.7,703.1 504.5,706.7 505.3,706.4 506.1,706.0 506.9,701.4 507.7,701.7 508.5,705.1 509.3,697.3 510.0,704.6 510.1,699.6 510.9,703.3 511.7,702.3 512.5,700.7 513.3,697.6 514.1,695.8 514.9,701.8 515.7,696.0 516.5,698.8 517.3,698.6 518.1,693.2 518.9,699.7 519.7,694.1 520.5,695.1 521.3,691.5 522.1,693.9 522.9,689.8 523.7,695.7 524.5,688.1 525.3,688.3 526.1,689.7 526.9,686.0 527.7,689.6 528.5,684.7 529.3,689.3 530.1,685.1 530.9,686.8 531.0,684.2 531.7,686.5 532.5,684.3 533.3,682.3 534.1,678.9 534.9,680.2 535.7,681.9 536.5,677.3 537.3,681.6 538.1,672.8 538.9,678.9 539.7,680.2 540.5,677.5 541.3,673.8 542.1,676.4 542.9,672.0 543.7,674.9 544.5,670.7 545.3,668.7 546.1,670.8 546.9,671.7 547.7,671.3 548.5,665.8 549.3,669.1 550.1,662.4 550.9,667.7 551.7,663.6 552.5,662.1 553.0,666.8 553.3,664.7 554.1,661.6 554.9,662.6 555.7,658.9 556.5,660.3 557.3,656.9 558.1,659.6 558.9,653.3 559.7,656.5 560.5,650.9 561.3,654.4 562.1,648.9 562.9,651.0 563.7,649.5 564.5,645.7 565.3,648.8 566.1,642.0 566.9,645.2 567.7,642.0 568.5,644.3 569.3,641.5 570.1,637.8 570.9,636.3 571.7,633.9 572.5,638.1 573.3,632.8 574.0,634.2 574.1,631.4 574.9,635.3 575.7,628.7 576.5,626.9 577.3,626.1 578.1,628.9 578.9,623.5 579.7,626.6 580.5,627.7 581.3,624.3 582.1,618.6 582.9,621.5 583.7,615.7 584.5,619.3 585.3,612.5 586.1,617.2 586.9,610.5 587.7,611.9 588.5,607.4 589.3,606.6 590.0,611.7 590.1,607.7 590.9,603.1 591.7,604.5 592.5,600.4 593.3,603.0 594.1,596.2 594.9,597.9 595.7,593.0 596.5,594.9 597.3,590.9 598.1,589.4 598.9,592.1 599.7,589.4 600.5,583.5 601.3,585.8 602.1,580.8 602.9,582.3 603.7,576.5 604.5,579.1 605.3,574.6 606.1,577.2 606.9,569.7 607.6,575.0 607.7,568.3 608.5,564.0 609.3,565.4 610.1,556.8 610.9,560.8 611.7,549.4 612.5,550.4 613.3,545.4 614.1,543.3 614.9,536.1 615.7,539.9 616.5,530.7 617.3,530.7 617.6,526.3 618.1,524.9 618.9,521.8 619.7,522.4 620.5,521.3 621.3,510.7 621.7,516.3 622.1,513.8 622.9,499.2 623.7,500.3 624.5,483.7 625.2,486.1 625.3,486.4 626.1,473.7 626.9,476.7 627.7,466.0 628.5,465.4 628.8,464.5 629.3,458.5 630.1,443.7 630.9,446.2 631.3,435.4 631.7,435.0 632.5,423.0 633.3,420.6 634.1,413.9 634.9,393.8 635.7,388.9 636.2,377.5 636.5,387.4 637.3,392.4 638.1,408.0 638.5,409.0 638.9,419.4 639.7,426.7 640.5,438.9 641.0,448.7 641.3,455.7 642.1,462.7 642.9,476.3 643.7,486.4 644.0,488.7 644.5,497.0 645.3,497.4 646.1,508.7 646.9,509.2 647.7,522.5 648.0,517.9 648.5,524.2 649.3,520.7 650.1,529.9 650.9,532.8 651.7,535.8 652.5,536.7 653.3,536.6 654.1,542.5 654.9,539.4 655.7,551.9 656.5,542.6 657.3,545.2 658.1,539.8 658.9,540.5 659.7,539.0 660.5,530.9 661.3,532.9 662.0,527.7 662.1,534.5 662.9,529.6 663.7,521.7 664.5,523.7 665.3,515.8 666.0,517.3 666.1,512.2 666.9,514.7 667.7,506.7 668.5,509.9 669.3,502.5 670.1,499.4 670.9,503.7 671.7,492.5 672.5,494.3 673.3,486.1 674.1,482.9 674.9,483.4 675.7,475.7 676.5,478.4 677.3,474.0 678.1,466.1 678.5,471.9 678.9,465.1 679.7,465.7 680.5,455.3 681.3,455.9 682.1,446.1 682.9,449.5 683.7,444.6 684.5,441.2 685.3,432.2 686.1,430.7 686.9,423.8 687.7,418.9 688.5,419.1 689.3,411.9 690.1,413.5 690.9,402.7 691.7,402.7 692.2,394.2 692.5,392.2 693.3,387.0 694.1,386.6 694.9,379.8 695.7,374.3 696.5,373.8 696.8,364.6 697.3,368.6 698.1,354.1 698.9,357.4 699.0,345.9 699.7,353.3 700.5,342.8 701.3,348.6 701.4,345.6 702.1,350.7 702.9,364.6 703.7,366.9 704.5,384.4 705.3,396.3 706.1,419.0 706.9,434.1 707.5,453.0 707.7,457.4 708.5,470.0 709.3,496.7 710.1,509.1 710.5,526.1 710.9,524.5 711.7,546.8 712.5,559.3 713.3,574.6 713.5,571.8 714.1,584.9 714.9,591.8 715.7,595.7 716.0,602.9 716.5,600.8 717.3,611.4 718.1,609.1 718.6,618.9 718.9,610.6 719.7,621.3 720.5,616.4 721.3,626.0 722.1,619.7 722.9,628.0 723.7,621.8 724.5,626.1 725.0,635.3 725.3,625.8 726.1,636.2 726.9,636.4 727.7,631.9 728.5,631.6 729.3,635.4 730.1,642.2 730.9,637.6 731.7,646.2 732.5,638.6 732.9,647.9 733.3,641.4 734.1,647.3 734.9,642.1 735.7,648.3 736.5,644.2 737.3,651.4 738.1,644.9 738.9,651.9 739.7,644.0 740.5,654.7 741.3,645.2 742.1,651.1 742.9,648.7 743.7,653.1 744.5,650.7 745.3,654.7 746.1,658.1 746.9,649.6 747.1,658.3 747.7,652.6 748.5,657.2 749.3,650.2 750.1,658.8 750.9,656.7 751.7,651.4 752.5,659.0 753.3,661.5 754.1,652.5 754.9,655.1 755.7,660.0 756.5,650.7 757.3,657.2 758.1,651.3 758.9,662.0 759.7,652.7 760.5,659.6 761.3,653.3 761.4,660.1 762.1,652.8 762.9,662.5 763.7,652.7 764.5,662.3 765.3,661.3 766.1,653.2 766.9,655.1 767.7,652.0 768.5,662.8 769.3,652.8 770.1,659.8 770.9,654.3 771.7,652.0 772.5,658.6 773.3,659.4 774.1,651.5 774.9,658.5 775.7,649.9 776.5,658.1 777.3,653.8 778.1,661.8 778.9,651.9 779.7,659.3 780.5,655.8 781.3,656.1 782.1,665.9 782.9,653.8 783.7,663.4 784.5,654.6 785.3,664.8 786.1,668.3 786.9,656.0 787.7,665.9 788.5,665.1 789.3,656.7 790.1,667.0 790.9,658.8 791.7,664.1 792.5,667.3 792.9,661.7 793.3,669.0 794.1,664.3 794.9,661.0 795.7,665.6 796.5,659.8 797.3,667.7 798.1,658.9 798.9,666.2 799.7,660.0 800.5,664.9 801.3,659.0 802.1,665.8 802.9,657.1 803.7,672.3 804.5,661.6 805.3,666.5 806.1,661.0 806.9,664.4 807.7,666.6 808.5,657.8 809.3,665.7 810.1,668.8 810.9,658.3 811.7,665.0 812.5,655.2 813.3,666.8 814.1,658.0 814.9,667.0 815.7,667.1 816.5,657.8 817.3,666.8 818.1,661.9 818.9,658.8 819.7,664.3 820.5,658.3 821.3,666.1 822.1,663.1 822.9,653.5 823.7,662.7 824.5,661.5 825.3,661.6 826.1,652.5 826.9,660.9 827.7,656.8 828.5,663.2 829.3,653.4 830.1,659.7 830.9,652.6 831.7,657.9 832.5,654.8 833.3,652.3 834.0,657.6 834.1,650.9 834.9,659.6 835.7,653.1 836.5,659.1 837.3,650.6 838.1,662.4 838.9,662.2 839.7,664.2 840.5,656.8 841.3,663.9 842.1,658.8 842.9,663.7 843.7,659.8 844.5,665.7 845.3,658.6 846.1,667.0 846.9,660.8 847.7,669.0 848.5,670.4 849.3,664.6 850.0,668.3 850.1,663.1 850.9,671.0 851.7,667.1 852.5,664.3 853.3,673.5 854.1,664.3 854.9,672.2 855.7,663.3 856.5,673.8 857.3,671.7 858.1,665.5 858.9,672.3 859.7,665.6 860.5,675.4 861.3,665.4 862.1,675.5 862.9,670.7 863.7,675.3 864.5,669.7 865.3,677.4 866.1,667.0 866.9,677.3 867.7,676.3 868.5,669.1 869.3,679.2 870.1,668.5 870.9,680.2 871.7,671.5 872.5,679.4 872.9,671.6 873.3,681.3 874.1,674.4 874.9,677.0 875.7,670.3 876.5,681.8 877.3,681.2 878.1,672.9 878.9,671.2 879.7,680.4 880.5,679.6 881.3,672.2 882.1,679.1 882.9,673.1 883.7,680.9 884.5,673.8 885.3,684.8 886.1,676.6 886.9,682.6 887.7,672.6 888.5,683.8 889.3,674.2 890.1,676.6 890.9,685.2 891.7,676.1 892.5,672.2 893.3,683.3 894.1,674.2 894.9,685.2 895.7,677.0 896.5,683.8 897.3,674.6 898.1,683.6 898.9,675.4 899.7,684.2 900.5,676.1 901.3,677.0 902.1,685.5 902.9,675.4 903.7,683.9 904.5,679.6 905.3,685.3 906.1,691.1 906.9,679.2 907.7,688.2 908.5,685.8 909.3,679.8 910.1,685.3 910.9,675.7 911.7,685.6 912.5,685.5 913.3,679.0 914.1,688.5 914.9,679.4 915.7,681.9 916.5,688.1 917.3,679.1 918.1,687.1 918.6,691.1 918.9,681.8 919.7,689.5 920.5,681.0 921.3,688.7 922.1,680.1 922.9,687.3 923.7,682.4 924.5,688.1 925.3,682.0 926.1,686.1 926.9,692.0 927.7,684.6 928.5,692.9 929.3,684.7 930.1,694.5 930.9,684.8 931.7,691.7 932.5,685.9 933.3,692.1 934.1,687.9 934.9,693.5 935.7,688.9 936.5,686.3 937.3,693.1 938.1,687.3 938.9,693.0 939.7,694.1 940.5,687.6 941.3,695.4 941.4,697.6 942.1,688.5 942.9,697.0 943.7,697.6 944.5,687.5 945.3,696.4 946.1,686.1 946.9,694.9 947.7,691.1 948.5,698.6 949.3,691.9 950.1,698.9 950.9,690.3 951.7,699.2 952.5,699.1 953.3,691.6 954.1,699.7 954.9,699.6 955.7,696.3 956.5,702.3 957.3,704.4 958.1,696.1 958.9,701.1 959.7,692.8 960.5,700.7 961.3,697.3 962.1,695.1 962.9,703.9 963.7,695.5 964.3,701.9 964.5,695.6 965.3,703.5 966.1,695.4 966.9,706.5 967.7,698.7 968.5,707.5 969.3,698.7 970.1,704.4 970.9,699.5 971.7,704.2 972.5,699.7 973.3,705.4 974.1,697.8 974.9,705.8 975.7,698.1 976.5,709.3 977.3,703.5 978.1,708.3 978.9,701.6 979.7,707.9 980.5,702.0 981.3,712.9 982.1,702.4 982.9,707.9 983.7,704.2 984.5,703.7 985.3,699.2 986.1,704.2 986.9,713.6 987.1,708.7 987.7,710.4 988.5,704.5 989.3,710.6 990.1,711.9 990.9,703.3 991.7,704.4 992.5,709.4 993.3,704.0 994.1,711.8 994.9,703.3 995.7,710.5 996.5,702.4 997.3,712.7 998.1,706.8 998.9,713.7 999.7,706.6 1000.5,711.3 1001.3,705.6 1002.1,713.1 1002.9,701.3 1003.7,714.5 1004.5,704.5 1005.3,713.8 1006.1,706.0 1006.9,710.5 1007.7,705.6 1008.5,709.8 1009.3,705.2 1010.0,711.0 1010.1,714.0 1010.9,704.1 1011.7,712.0 1012.5,704.7 1013.3,715.1 1014.1,707.4 1014.9,709.4 1015.7,706.4 1016.5,713.3 1017.3,711.0 1018.1,705.1 1018.9,704.7 1019.7,713.7 1020.5,702.9 1021.3,713.0 1022.1,706.1 1022.9,714.3 1023.7,707.3 1024.5,713.1 1025.3,700.9 1026.1,706.6 1026.9,703.3 1027.7,712.9 1028.5,698.9 1029.3,715.0 1030.1,704.6 1030.9,713.1 1031.7,702.4 1032.5,708.2 1032.9,711.5 1033.3,704.0 1034.1,700.6 1034.9,710.5 1035.7,711.7 1036.5,713.3 1037.3,712.4 1038.1,705.0 1038.9,710.4 1039.7,710.9 1040.5,701.7 1041.3,702.9 1042.1,700.7 1042.9,708.6 1043.7,709.1 1044.5,699.6 1045.3,709.1 1046.1,701.3 1046.9,711.8 1047.7,703.9 1048.5,702.7 1049.3,709.5 1050.1,699.9 1050.9,710.2 1051.7,699.4 1052.5,699.7 1053.3,709.6 1054.1,700.7 1054.9,707.8 1055.7,707.3 1056.5,696.6 1057.3,698.8 1058.1,708.4 1058.9,698.1 1059.7,708.6 1060.5,698.9 1061.3,707.9 1062.1,698.7 1062.9,699.3 1063.7,705.0 1064.5,698.9 1065.3,708.1 1066.1,707.0 1066.9,706.4 1067.1,698.7 1067.7,706.7 1068.5,698.9 1069.3,706.9 1070.1,705.8 1070.9,701.6 1071.7,707.9 1072.5,699.1 1073.3,708.8 1074.1,700.2 1074.9,708.3 1075.7,699.7 1076.5,708.6 1077.3,701.4 1078.1,709.4 1078.9,706.7 1079.7,704.5 1080.5,700.5 1081.3,705.6 1082.1,698.8 1082.9,706.1 1083.7,700.5 1084.5,705.6 1085.3,700.2 1086.1,711.0 1086.9,708.1 1087.7,699.0 1088.5,698.9 1089.3,706.9 1090.0,701.7 1090.1,702.7 1090.9,710.1 1091.7,700.7 1092.5,712.3 1093.3,703.3 1094.1,709.5 1094.9,700.8 1095.7,708.7 1096.5,703.2 1097.3,701.8 1098.1,711.7 1098.9,701.3 1099.7,710.3 1100.5,703.6 1101.3,710.5 1102.1,709.6 1102.9,702.4 1103.7,711.7 1104.5,705.1 1105.3,704.1 1106.1,714.0 1106.9,710.2 1107.7,704.2 1108.5,711.5 1109.3,705.4 1110.1,712.6 1110.9,705.9 1111.7,715.8 1112.5,706.0 1112.9,713.1 1113.3,711.7 1114.1,703.2 1114.9,714.4 1115.7,706.0 1116.5,712.3 1117.3,706.7 1118.1,716.6 1118.9,707.7 1119.7,712.2 1120.5,703.9 1121.3,712.3 1122.1,705.2 1122.9,717.4 1123.7,708.6 1124.5,712.5 1125.3,704.4 1126.1,716.5 1126.9,703.2 1127.7,706.3 1128.5,706.4 1129.3,712.5 1130.1,707.3 1130.9,707.0 1131.7,715.1 1132.5,708.5 1133.3,714.3 1134.1,705.4 1134.9,717.5 1135.7,706.1 1136.5,705.7 1137.3,717.5 1138.1,710.5 1138.9,718.1 1139.7,714.8 1140.5,710.0 1141.3,715.4 1142.1,705.9 1142.9,713.9 1143.7,701.7 1144.5,716.4 1145.3,703.2 1146.1,707.2 1146.9,714.9 1147.7,708.0 1148.5,713.0 1149.3,706.5 1150.1,718.6 1150.9,708.2 1151.7,713.4 1152.5,706.9 1153.3,713.6 1154.1,706.3 1154.9,714.4 1155.7,714.0 1156.5,708.1 1157.3,714.9 1158.1,704.7 1158.9,711.5 1159.7,703.9 1160.0,715.5 1160.5,717.4 1161.3,705.7 1162.1,716.0 1162.9,708.9 1163.7,713.7 1164.5,716.6 1165.3,706.7 1166.1,718.9 1166.9,709.9 1167.7,714.4 1168.5,711.1 1169.3,704.6 1170.1,714.5 1170.9,713.2 1171.7,707.1 1172.5,707.0 1173.3,713.8 1174.1,709.7 1174.9,715.7 1175.7,706.0 1176.5,714.9 1177.3,716.2 1178.1,707.1 1178.9,716.7 1179.7,709.6 1180.5,716.7 1181.3,706.8 1182.1,716.7 1182.7,707.5 1182.9,711.0 1183.7,716.7 1184.5,711.2 1185.3,719.8 1186.1,712.7 1186.9,715.9 1187.7,710.8 1188.5,710.0 1189.3,723.5 1190.1,715.5 1190.9,718.4 1191.7,723.2 1192.5,712.7 1193.3,721.0 1194.1,714.1 1194.9,724.4 1195.7,714.3 1196.5,720.2 1197.3,716.1 1198.1,716.1 1198.9,726.3 1199.7,715.1 1200.5,725.4 1201.3,717.0 1202.1,719.0 1202.9,724.8 1203.7,718.7 1204.5,724.6 1205.3,722.2 1205.5,725.1 1206.1,719.1 1206.9,728.1 1207.7,720.8 1208.5,731.0 1209.3,729.3 1210.1,721.9 1210.9,731.2 1211.7,729.3 1212.5,724.8 1213.3,728.7 1214.1,729.1 1214.9,722.3 1215.7,723.2 1216.5,731.6 1217.3,723.5 1218.1,730.8 1218.9,730.9 1219.7,724.5 1220.5,731.3 1221.3,727.2 1222.1,731.0 1222.9,724.2 1223.7,731.0 1224.5,723.3 1225.3,734.0 1226.1,726.4 1226.9,731.2 1227.7,726.9 1228.2,727.3 1228.5,725.9 1229.3,736.4 1230.1,725.2 1230.9,735.8 1231.7,736.2 1232.5,724.1 1233.3,739.1 1234.1,726.2 1234.9,728.3 1235.7,727.3 1236.5,736.1 1237.3,728.4 1238.1,724.4 1238.9,735.1 1239.7,726.7 1240.5,731.7 1241.3,727.8 1242.1,733.8 1242.9,728.4 1243.7,733.9 1244.5,734.1 1245.3,733.1 1246.1,726.4 1246.9,734.9 1247.7,734.3 1248.5,731.4 1249.3,736.1 1250.1,739.2 1250.9,729.2 1251.0,730.6 1251.7,736.4 1252.5,730.4 1253.3,729.7 1254.1,735.6 1254.9,727.0 1255.7,740.8 1256.5,730.2 1257.3,735.6 1258.1,729.4 1258.9,740.0 1259.7,728.2 1260.5,736.6 1261.3,730.4 1262.1,730.2 1262.9,730.5 1263.7,738.5 1264.5,729.6 1265.3,738.7 1266.1,733.6 1266.9,729.7 1267.7,738.6 1268.5,734.1 1269.3,738.5 1270.1,732.2 1270.9,741.4 1271.7,733.1 1272.5,740.0 1273.3,730.2 1273.7,740.5 1274.1,730.6 1274.9,739.8 1275.7,740.0 1276.5,729.6 1277.3,739.2 1278.1,740.7 1278.9,733.9 1279.7,740.8 1280.5,732.4 1281.3,742.3 1282.1,740.5 1282.9,733.8 1283.7,740.6 1284.5,733.2 1285.3,741.9 1286.1,732.6 1286.9,732.9 1287.7,740.2 1288.5,734.8 1289.3,740.6 1290.1,733.5 1290.9,740.7 1291.7,731.4 1292.5,735.3 1293.3,733.5 1294.1,743.4 1294.9,730.2 1295.7,740.4 1296.4,733.4 1296.5,743.1 1297.3,733.6 1298.1,743.1 1298.9,739.5 1299.7,731.6 1300.5,740.8 1301.3,732.9 1302.1,743.1 1302.9,735.1 1303.7,744.7 1304.5,733.7 1305.3,740.8 1306.1,731.5 1306.9,733.0 1307.7,730.6 1308.5,734.2 1309.3,739.6 1310.1,733.7 1310.9,738.8 1311.7,733.1 1312.5,742.0 1313.3,738.4 1314.1,734.8 1314.9,740.4 1315.7,737.7 1316.5,736.3 1317.3,740.6 1318.1,734.7 1318.9,740.5 1319.2,732.9 1319.7,731.3 1320.5,743.1 1321.3,736.4 1322.1,742.2 1322.9,735.1 1323.7,740.9 1324.5,735.6 1325.3,744.5 1326.1,736.6 1326.9,743.9 1327.7,735.7 1328.5,740.9 1329.3,735.9 1330.1,744.0 1330.9,742.5 1331.7,736.5 1332.5,736.0 1333.3,737.3 1334.1,735.4 1334.9,744.3 1335.7,734.1 1336.5,732.9 1337.3,744.0 1338.1,739.4 1338.9,743.6 1339.7,738.2 1340.5,742.4 1341.3,741.9 1341.9,743.9 1342.1,736.2 1342.9,742.5 1343.7,743.4 1344.5,738.9 1345.3,741.9 1346.1,735.6 1346.9,746.5 1347.7,742.7 1348.5,734.7 1349.3,743.5 1350.1,745.8 1350.9,739.0 1351.7,744.5 1352.5,735.4 1353.3,739.2 1354.1,744.3 1354.9,739.0 1355.7,743.9 1356.5,745.1 1357.3,738.2 1358.1,743.6 1358.9,737.6 1359.7,743.6 1360.5,738.6 1361.3,739.3 1362.1,737.9 1362.9,743.9 1363.7,739.9 1364.5,743.8 1364.7,740.4 1365.3,745.9 1366.1,737.0 1366.9,745.0 1367.7,740.4 1368.5,742.8 1369.3,739.2 1370.1,744.6 1370.9,738.5 1371.7,745.1 1372.5,736.3 1373.3,744.0 1374.1,735.5 1374.9,743.7 1375.7,744.8 1376.5,745.0 1377.3,739.8 1378.1,741.9 1378.9,749.7 1379.7,733.2 1380.5,747.0 1381.3,741.3 1382.1,745.3 1382.9,738.9 1383.7,736.7 1384.5,745.5 1385.3,738.8 1386.1,744.0 1386.9,737.9 1387.4,744.7 1387.7,745.7 1388.5,746.1 1389.3,738.9 1390.1,739.2 1390.9,739.8 1391.7,746.0 1392.5,744.2 1393.3,743.1 1394.1,746.3 1394.9,739.1 1395.7,746.2 1396.5,741.6 1397.3,747.3 1398.1,742.3 1398.9,742.5 1399.7,741.8 1400.5,748.0 1401.3,741.5 1402.1,750.1 1402.9,747.8 1403.7,744.2 1404.5,747.1 1405.3,743.3 1406.1,748.6 1406.9,744.5 1407.7,750.1 1408.5,742.2 1409.3,744.3 1410.1,751.5 1410.9,749.6 1411.7,744.8 1412.5,749.2 1413.3,744.6 1414.1,742.1 1414.9,749.3 1415.7,742.0 1416.5,751.0 1417.3,740.2 1418.1,751.3 1418.9,744.4 1419.7,750.1 1420.5,746.1 1421.3,742.9 1422.1,740.7 1422.9,749.5 1423.7,744.5 1424.5,753.9 1425.3,741.8 1426.1,753.7 1426.9,744.9 1427.7,753.5 1428.5,751.7 1429.3,750.2 1430.1,744.6 1430.9,752.5 1431.7,743.1 1432.5,751.1 1432.9,746.7 1433.3,744.9 1434.1,752.9 1434.9,742.9 1435.7,752.5 1436.5,746.1 1437.3,752.0 1438.1,741.1 1438.9,749.2 1439.7,751.9 1440.5,742.9 1441.3,753.2 1442.1,750.7 1442.9,746.3 1443.7,744.3 1444.5,746.8 1445.3,752.3 1446.1,745.4 1446.9,752.9 1447.7,744.3 1448.5,753.2 1449.3,745.1 1450.1,753.0 1450.9,751.9 1451.7,746.8 1452.5,751.8 1453.3,744.6 1454.1,753.3 1454.9,742.8 1455.6,751.4 1455.7,746.9 1456.5,750.6 1457.3,752.4 1458.1,748.6 1458.9,750.2 1459.7,745.5 1460.5,752.8 1461.3,748.3 1462.1,753.5 1462.9,746.1 1463.7,745.2 1464.5,754.3 1465.3,746.7 1466.1,753.0 1466.9,753.7 1467.7,754.2 1468.5,746.0 1469.3,751.1 1470.1,754.9 1470.9,746.3 1471.7,752.6 1472.5,747.2 1473.3,752.9 1474.1,746.9 1474.9,745.7 1475.7,753.6 1476.5,747.2 1477.3,746.0 1478.1,754.0 1478.4,746.5 1478.9,753.2 1479.7,748.2 1480.5,755.4 1481.3,746.2 1482.1,752.7 1482.9,748.2 1483.7,756.3 1484.5,747.6 1485.3,753.4 1486.1,755.1 1486.9,749.0 1487.7,756.5 1488.5,749.5 1489.3,749.9 1490.1,755.0 1490.9,746.3 1491.7,748.6 1492.5,753.7 1493.3,747.6 1494.1,754.7 1494.9,750.3 1495.7,759.3 1496.5,748.1 1497.3,754.4 1498.1,747.7 1498.9,753.9 1499.7,747.3 1500.5,757.3 1501.1,748.0 1501.3,756.7 1502.1,757.0 1502.9,746.2 1503.7,760.4 1504.5,752.4 1505.3,756.6 1506.1,749.3 1506.9,758.2 1507.7,749.0 1508.5,756.6 1509.3,749.8 1510.1,757.5 1510.9,748.3 1511.7,749.2 1512.5,758.5 1513.3,758.9 1514.1,748.8 1514.9,756.0 1515.7,750.5 1516.5,759.3 1517.3,758.5 1518.1,749.2 1518.9,750.8 1519.7,755.3 1520.5,751.0 1521.3,758.6 1522.1,750.5 1522.9,754.1 1523.7,751.5 1523.8,754.5 1524.5,755.9 1525.3,755.8 1526.1,758.6 1526.9,751.5 1527.7,751.8 1528.5,756.9 1529.3,747.6 1530.1,756.1 1530.9,748.9 1531.7,748.3 1532.5,754.3 1533.3,756.6 1534.1,750.9 1534.9,757.6 1535.7,757.4 1536.5,750.6 1537.3,756.2 1538.1,750.4 1538.9,760.0 1539.7,750.2 1540.5,756.9 1541.3,757.1 1542.1,748.2 1542.9,757.4 1543.7,751.8 1544.5,757.2 1545.3,751.5 1546.1,759.4 1546.9,757.4 1547.7,756.1 1548.5,752.0 1549.3,757.9 1550.1,755.8 1550.9,752.4 1551.7,756.9 1552.5,755.8 1553.3,750.8 1554.1,757.5 1554.9,759.5 1555.7,748.8 1556.5,758.9 1557.3,751.8 1558.0,757.9 1558.1,752.2 1558.9,751.6 1559.7,756.4 1560.5,752.6 1561.3,754.5 1562.1,749.8 1562.9,757.3 1563.7,752.2 1564.5,750.7 1565.3,756.9 1566.1,750.1 1566.9,756.8 1567.7,750.5 1568.5,754.5 1569.3,760.1 1570.1,750.2 1570.9,756.6 1571.7,753.0 1572.5,752.3 1573.3,756.8 1574.1,752.4 1574.9,757.1 1575.7,751.9 1576.5,751.4 1577.3,755.0 1578.1,754.1 1578.9,750.4 1579.7,757.6 1580.5,749.9 1581.3,756.0 1582.1,752.2 1582.9,753.4 1583.7,761.4 1584.5,754.3 1585.3,756.3 1586.1,751.2 1586.9,750.3 1587.7,755.0 1588.5,749.3 1589.3,754.7 1590.1,759.1 1590.9,751.1 1591.7,750.4 1592.5,756.4 1593.3,752.1 1594.1,757.8 1594.9,751.7 1595.7,756.6 1596.5,759.7 1597.3,753.5 1598.1,757.4 1598.9,752.5 1599.7,759.4 1600.5,752.3 1601.3,761.8 1602.1,760.0 1602.9,753.0 1603.7,759.7 1604.5,753.8 1605.3,756.6 1606.1,749.9 1606.9,762.6 1607.7,750.0 1608.5,758.3 1609.3,757.8 1610.1,750.9 1610.9,760.8 1611.7,751.5 1612.5,756.3 1613.3,753.8 1614.1,757.5 1614.9,754.4 1615.7,760.1 1616.5,752.9 1617.3,759.6 1618.1,752.4 1618.9,756.4 1619.7,753.5 1620.5,757.3 1621.3,751.5 1622.1,759.4 1622.9,753.6 1623.7,760.8 1624.5,749.4 1625.3,757.6 1626.1,755.5 1626.9,759.3 1627.7,752.3 1628.5,756.5 1629.3,754.8 1630.1,754.3 1630.9,752.2 1631.7,759.5 1632.5,757.3 1633.3,757.8 1634.1,754.8 1634.9,759.2 1635.7,762.1 1636.5,751.2 1637.3,752.0 1638.1,757.7 1638.9,760.8 1639.7,758.3 1640.5,754.4 1641.3,760.9 1642.1,753.7 1642.9,760.5 1643.2,760.2 1643.7,754.3 1644.5,763.4 1645.3,752.6 1646.1,759.4 1646.9,755.1 1647.7,761.3 1648.5,754.3 1649.3,758.5 1650.1,754.3 1650.9,752.3 1651.7,759.9 1652.5,751.1 1653.3,757.6 1654.1,759.1 1654.9,759.9 1655.7,754.1 1656.5,757.7 1657.3,755.2 1658.1,759.0 1658.9,754.5 1659.7,759.5 1660.5,754.3 1661.3,758.4 1662.1,756.2 1662.9,761.7 1663.7,751.9 1664.5,759.9 1665.3,752.5 1666.1,761.2 1666.9,752.8 1667.7,759.1 1668.5,753.9 1669.3,759.4 1670.1,757.9 1670.9,755.9 1671.7,760.4 1672.5,760.1 1673.3,753.5 1674.1,760.2 1674.9,754.0 1675.7,760.6 1676.5,755.7 1677.3,759.2 1678.1,751.2 1678.9,760.8 1679.7,752.6 1680.5,759.6 1681.3,754.2 1682.1,762.2 1682.9,753.9 1683.7,761.1 1684.5,761.6 1685.3,760.4 1686.1,756.2 1686.9,758.7 1687.7,756.3 1688.5,758.5 1689.3,757.4 1690.1,758.9 1690.9,755.6 1691.7,762.9 1692.5,759.4 1693.3,754.5 1694.1,760.4 1694.9,754.9 1695.7,759.0 1696.5,761.4 1697.3,755.5 1698.1,762.3 1698.9,754.4 1699.7,758.9 1700.5,753.7 1701.3,759.1 1702.1,758.5 1702.9,752.1 1703.7,754.1 1704.5,762.3 1705.3,755.4 1706.1,760.4 1706.9,756.3 1707.7,760.3 1708.5,755.9 1709.3,758.9 1710.1,753.3 1710.9,759.7 1711.7,753.9 1712.5,756.7 1713.3,761.2 1714.1,756.5 1714.9,760.5 1715.7,755.5 1716.5,756.0 1717.3,761.0 1718.1,760.8 1718.9,756.6 1719.7,764.7 1720.5,755.3 1721.3,750.7 1722.1,760.9 1722.9,757.1 1723.7,760.4 1724.5,755.6 1725.3,761.0 1726.1,762.4 1726.9,753.4 1727.7,755.0 1728.5,754.9 1729.3,762.3 1730.1,755.9 1730.9,761.7 1731.7,754.5 1732.5,762.5 1733.3,759.5 1734.1,755.9 1734.9,761.3 1735.7,762.0 1736.5,753.6 1737.3,753.7 1738.1,760.7 1738.9,753.7 1739.7,761.1 1740.5,754.4 1741.3,762.3 1742.1,755.7 1742.9,760.8 1743.7,754.4 1744.5,762.8 1745.3,757.8 1746.1,763.7 1746.9,761.7 1747.7,755.1 1748.5,760.8 1749.3,755.9 1750.1,761.7 1750.9,758.0 1751.7,753.9 1752.5,762.7 1753.3,756.1 1754.1,764.4 1754.9,754.0 1755.7,763.7 1756.5,757.4 1757.3,767.3 1758.1,762.6 1758.9,753.8 1759.7,760.9 1760.5,761.9 1761.3,757.1 1762.1,761.3 1762.9,757.2 1763.7,754.6 1764.5,763.2 1765.3,756.3 1766.1,765.4 1766.9,759.5 1767.7,756.0 1768.5,760.5 1769.3,754.9 1770.1,761.6 1770.9,762.7 1771.7,761.6 1772.5,757.4 1773.3,760.4 1774.1,755.1 1774.9,756.2 1775.7,760.6 1776.5,756.1 1777.3,763.5 1778.1,762.3 1778.9,755.3 1779.7,756.9 1780.5,759.6 1781.3,758.2 1782.1,761.7 1782.9,756.1 1783.7,763.4 1784.5,753.9 1785.3,762.2 1786.1,756.3 1786.9,763.3 1787.7,752.3 1788.5,761.8 1789.3,756.4 1790.1,764.4 1790.9,756.6 1791.7,758.7 1792.5,764.3 1793.3,756.7 1794.1,764.0 1794.9,757.3 1795.7,759.3 1796.5,757.4 1797.3,758.6 1798.1,756.4 1798.9,762.6 1799.7,761.8 1800.5,754.4 1801.3,760.9 1802.1,758.4 1802.9,762.6 1803.7,755.8 1804.5,762.6 1805.3,761.4 1806.1,755.5 1806.9,759.7 1807.7,758.4 1808.5,757.2 1809.3,760.0 1810.1,756.9 1810.9,765.8 1811.7,762.2 1812.5,756.8 1813.3,763.2 1814.1,756.7 1814.9,762.6 1815.7,759.4 1816.5,762.2 1817.3,758.2 1818.1,761.6 1818.9,759.2 1819.7,761.1 1820.5,757.5 1821.3,764.3 1822.1,758.6 1822.9,760.3 1823.7,757.0 1824.5,768.3 1825.3,756.0 1826.1,762.2 1826.9,756.6 1827.7,761.7 1828.5,756.8 1829.3,762.3 1829.7,754.5 1830.1,758.2 1830.9,763.4 1831.7,763.3 1832.5,757.3 1833.3,763.0 1834.1,754.1 1834.9,761.0 1835.7,756.8 1836.5,755.9 1837.3,761.6 1838.1,758.8 1838.9,760.6 1839.7,765.3 1840.5,756.5 1841.3,762.0 1842.1,757.9 1842.9,762.5 1843.7,756.8 1844.5,761.8 1845.3,763.8 1846.1,756.3 1846.9,764.8 1847.7,756.6 1848.5,756.3 1849.3,763.6 1850.1,755.8 1850.9,763.8 1851.7,757.6 1852.5,758.1 1853.3,758.1 1854.1,757.2 1854.9,762.0 1855.7,757.4 1856.5,762.1 1857.3,757.3 1858.1,763.0 1858.9,757.1 1859.7,764.6 1860.5,757.3 1861.3,760.9 1862.1,764.0 1862.9,757.3 1863.7,763.5 1864.5,763.0 1865.3,758.4 1866.1,759.3 1866.9,756.9 1867.7,764.2 1868.5,759.7 1869.3,762.5 1870.1,760.1 1870.9,763.5 1871.7,756.4 1872.5,763.0 1873.3,755.7 1874.1,759.6 1874.9,763.4 1875.7,756.3 1876.5,764.5 1877.3,765.8 1878.1,757.1 1878.9,763.9 1879.7,757.1 1880.5,764.3 1881.3,757.3 1882.1,763.3 1882.9,757.9 1883.7,764.3 1884.5,758.3 1885.3,762.3 1886.1,756.5 1886.9,758.1 1887.7,758.2 1888.5,763.8 1889.3,766.4 1890.1,762.3 1890.9,764.7 1891.7,766.2 1892.5,759.0 1893.3,758.1 1894.1,764.2 1894.9,756.3 1895.7,764.5 1896.5,756.9 1897.3,763.0 1898.1,757.6 1898.9,767.2 1899.7,762.1 1900.5,756.7 1901.3,763.9 1902.1,758.7 1902.9,764.4 1903.7,757.3 1904.5,758.7 1905.3,763.4 1906.1,764.8 1906.9,758.2 1907.7,762.3 1908.5,759.8 1909.3,756.9 1910.1,761.7 1910.9,759.8 1911.7,762.4 1912.5,755.3 1913.3,761.8 1914.1,758.6 1914.9,762.8 1915.7,764.8 1916.5,759.0 1917.3,756.5 1918.1,758.1 1918.9,765.5 1919.7,757.7 1920.5,763.7 1921.3,759.7 1922.1,763.1 1922.9,763.6 1923.0,763.4 1923.7,757.4 1924.5,763.8 1925.3,757.1 1926.1,763.6 1926.9,758.6 1927.7,764.9 1928.5,757.8 1929.3,764.9 1930.1,757.7 1930.9,758.8 1931.7,764.1 1932.5,757.6 1933.3,764.0 1934.1,756.3 1934.9,761.2 1935.7,757.9 1936.5,764.0 1937.3,756.9 1938.1,763.2 1938.9,764.2 1939.7,763.0 1940.5,760.1 1941.3,762.5 1942.1,756.5 1942.9,762.0 1943.7,757.7 1944.5,762.0 1945.3,764.7 1946.1,757.4 1946.9,764.0 1947.7,755.2 1948.5,763.8 1949.3,757.8 1950.1,763.3 1950.9,757.5 1951.7,757.3 1952.5,763.8 1953.3,758.4 1954.1,763.2 1954.9,759.4" stroke="#FF8FFF" stroke-width="8.5" fill="none" stroke-linejoin="round" stroke-linecap="round"/>
<polyline points="317.3,705.1 318.1,710.1 318.9,704.2 319.7,710.1 320.5,705.1 321.3,709.4 322.1,705.7 322.9,709.2 323.7,704.8 324.5,707.0 325.3,704.1 326.1,708.8 326.9,702.9 327.7,704.1 328.5,707.3 329.3,706.8 330.1,708.2 330.9,701.9 331.7,707.1 332.5,702.7 333.3,708.0 334.1,706.3 334.9,707.3 335.7,707.4 336.5,702.3 337.3,706.4 338.0,703.0 338.1,701.9 338.9,706.0 339.7,701.5 340.5,706.4 341.3,701.7 342.1,706.8 342.9,702.4 343.7,704.7 344.5,701.4 345.3,705.0 346.1,701.6 346.9,705.4 347.7,700.3 348.5,704.7 349.3,701.1 350.1,700.3 350.9,704.0 351.7,699.3 352.5,704.2 353.3,699.2 354.1,699.4 354.9,701.9 355.7,698.4 356.5,698.7 357.3,702.4 358.1,698.0 358.9,698.7 359.7,702.5 360.0,697.5 360.5,702.3 361.3,699.0 362.1,697.7 362.9,697.4 363.7,701.4 364.5,697.1 365.3,701.3 366.1,697.6 366.9,703.2 367.7,697.5 368.5,699.8 369.3,695.9 370.1,701.3 370.9,695.3 371.7,701.0 372.5,698.7 373.3,699.1 374.1,701.2 374.9,694.8 375.7,699.3 376.5,699.9 377.3,696.1 378.1,698.7 378.9,699.3 379.7,702.3 380.5,693.8 381.0,697.0 381.3,694.1 382.1,699.4 382.9,694.3 383.7,699.1 384.5,693.7 385.3,698.3 386.1,695.4 386.9,698.4 387.7,694.2 388.5,696.2 389.3,693.9 390.1,697.6 390.9,697.1 391.7,692.6 392.5,696.7 393.3,691.5 394.1,698.4 394.9,691.4 395.7,695.6 396.5,691.8 397.3,696.3 398.1,692.1 398.9,695.0 399.7,691.0 400.5,689.3 401.3,690.4 402.1,693.4 402.9,691.3 403.0,689.4 403.7,693.0 404.5,691.8 405.3,692.7 406.1,693.8 406.9,689.1 407.7,692.1 408.5,689.4 409.3,696.2 410.1,688.3 410.9,691.8 411.7,687.6 412.5,692.1 413.3,686.5 414.1,691.5 414.9,686.9 415.7,692.4 416.5,686.8 417.3,690.8 418.1,686.9 418.9,690.8 419.7,687.8 420.5,689.1 421.3,685.5 422.1,690.1 422.9,683.5 423.7,681.3 424.0,684.5 424.5,685.5 425.3,687.3 426.1,689.8 426.9,686.3 427.7,682.9 428.5,687.6 429.3,683.5 430.1,688.9 430.9,683.1 431.7,688.4 432.5,683.9 433.3,687.8 434.1,685.2 434.9,686.5 435.7,684.1 436.5,687.6 437.3,687.7 438.1,684.4 438.9,682.0 439.7,687.3 440.5,682.9 441.3,686.5 442.1,681.2 442.9,681.9 443.7,682.1 444.5,685.7 445.3,681.9 446.0,687.6 446.1,683.0 446.9,685.3 447.7,680.9 448.5,685.9 449.3,680.0 450.1,684.4 450.9,680.2 451.7,680.2 452.5,682.8 453.3,678.1 454.1,684.6 454.9,679.3 455.7,683.3 456.5,679.5 457.3,683.1 458.1,678.2 458.9,677.9 459.7,680.8 460.5,680.4 461.3,677.7 462.1,681.4 462.9,680.0 463.7,676.1 464.5,679.7 465.3,676.8 466.1,674.4 466.9,679.3 467.0,675.9 467.7,678.4 468.5,675.1 469.3,678.1 470.1,674.9 470.9,677.2 471.7,673.3 472.5,678.0 473.3,672.7 474.1,676.0 474.9,671.4 475.7,670.8 476.5,674.9 477.3,668.4 478.1,670.9 478.9,675.6 479.7,672.8 480.5,670.4 481.3,673.4 482.1,671.5 482.9,672.8 483.7,667.8 484.5,667.0 485.3,670.6 486.1,670.5 486.9,666.8 487.7,667.4 488.0,663.7 488.5,663.2 489.3,667.9 490.1,663.2 490.9,665.5 491.7,662.0 492.5,662.1 493.3,665.4 494.1,665.5 494.9,660.7 495.7,659.0 496.5,662.8 497.3,658.9 498.1,661.3 498.9,662.5 499.7,659.0 500.5,660.2 501.3,655.7 502.1,659.2 502.9,657.7 503.7,659.6 504.5,652.9 505.3,658.6 506.1,653.8 506.9,656.5 507.7,651.9 508.5,656.8 509.3,651.1 510.0,654.8 510.1,650.1 510.9,654.7 511.7,648.5 512.5,653.2 513.3,647.6 514.1,648.2 514.9,646.7 515.7,651.1 516.5,650.4 517.3,649.6 518.1,645.6 518.9,648.2 519.7,644.4 520.5,648.9 521.3,644.8 522.1,646.2 522.9,641.6 523.7,648.3 524.5,642.7 525.3,644.8 526.1,640.2 526.9,645.1 527.7,639.3 528.5,640.3 529.3,643.8 530.1,639.1 530.9,641.8 531.0,638.1 531.7,640.0 532.5,640.6 533.3,635.4 534.1,635.4 534.9,633.4 535.7,637.4 536.5,632.2 537.3,636.5 538.1,634.0 538.9,630.3 539.7,631.4 540.5,627.2 541.3,630.6 542.1,626.5 542.9,630.3 543.7,627.3 544.5,623.8 545.3,623.3 546.1,624.5 546.9,624.0 547.7,620.2 548.5,623.1 549.3,618.5 550.1,618.2 550.9,619.3 551.7,618.8 552.5,614.1 553.0,616.9 553.3,616.4 554.1,612.8 554.9,616.2 555.7,611.7 556.5,614.2 557.3,611.6 558.1,608.0 558.9,611.1 559.7,607.0 560.5,608.5 561.3,604.0 562.1,607.9 562.9,606.2 563.7,599.4 564.5,603.3 565.3,599.4 566.1,602.2 566.9,601.2 567.7,596.2 568.5,598.8 569.3,593.6 570.1,597.2 570.9,596.7 571.7,591.7 572.5,594.4 573.3,588.5 574.0,591.3 574.1,588.3 574.9,589.1 575.7,584.7 576.5,583.9 577.3,580.9 578.1,583.7 578.9,576.5 579.7,580.6 580.5,573.3 581.3,577.7 582.1,574.2 582.9,567.5 583.7,566.4 584.5,571.2 585.3,564.4 586.1,566.5 586.9,559.9 587.7,561.9 588.5,556.8 589.3,560.9 590.0,553.3 590.1,556.9 590.9,552.0 591.7,551.4 592.5,546.0 593.3,550.3 594.1,546.4 594.9,541.9 595.7,541.6 596.5,535.2 597.3,534.4 598.1,530.4 598.9,533.5 599.0,528.4 599.7,530.5 600.5,530.1 601.3,526.5 602.1,521.1 602.9,525.7 603.7,527.2 604.5,516.3 605.3,514.7 606.1,513.4 606.9,514.8 607.6,513.0 607.7,507.5 608.5,510.0 609.3,506.5 610.1,507.6 610.9,499.8 611.7,504.2 612.5,495.3 613.3,499.4 614.1,494.9 614.9,495.3 615.7,487.0 616.4,492.6 616.5,484.4 617.3,484.4 618.1,475.8 618.9,474.3 619.7,461.7 620.5,462.8 621.3,453.8 621.7,458.9 622.1,447.3 622.9,445.2 623.7,437.1 624.5,423.5 625.2,424.5 625.3,423.1 626.1,410.7 626.9,410.0 627.7,399.4 628.5,399.1 629.3,393.7 630.1,380.5 630.5,383.7 630.9,380.0 631.7,364.3 632.5,360.9 633.3,345.5 634.1,341.8 634.9,316.9 635.7,306.2 636.2,292.0 636.5,301.6 637.3,313.7 638.1,318.5 638.9,335.5 639.3,337.1 639.7,344.7 640.5,362.6 641.1,368.2 641.3,371.2 642.1,394.4 642.9,405.9 643.7,419.2 644.5,419.5 645.3,427.9 646.1,440.4 646.4,439.8 646.9,444.8 647.7,444.3 648.5,447.0 649.3,454.4 650.1,454.4 650.9,459.7 651.7,464.3 652.5,459.9 653.3,462.1 654.1,471.0 654.9,467.3 655.7,476.2 656.1,469.4 656.5,474.6 657.3,473.3 658.1,468.0 658.9,467.2 659.7,473.0 660.5,464.5 661.3,469.5 662.1,460.8 662.2,465.2 662.9,461.8 663.7,466.2 664.5,456.9 665.3,455.4 666.1,458.9 666.9,457.2 667.5,451.9 667.7,454.5 668.5,442.9 669.3,439.5 670.1,431.4 670.9,425.2 671.1,429.6 671.7,420.1 672.5,419.5 673.3,412.0 674.1,406.8 674.9,398.0 675.7,398.6 676.3,389.2 676.5,392.4 677.3,382.3 678.1,383.6 678.9,370.6 679.7,364.6 680.0,370.3 680.5,355.6 681.3,354.8 682.1,340.1 682.5,342.7 682.9,338.6 683.7,321.1 684.0,316.6 684.5,316.0 685.3,304.2 686.0,301.1 686.1,298.9 686.9,316.3 687.5,318.0 687.7,314.2 688.5,308.9 689.0,305.9 689.3,308.4 690.1,327.5 690.5,332.1 690.9,327.9 691.7,322.2 692.5,315.3 693.3,315.5 694.1,323.7 694.5,335.2 694.9,320.9 695.7,317.7 696.5,304.4 697.3,305.6 698.1,318.0 698.5,319.2 698.9,306.0 699.7,296.4 700.3,287.8 700.5,278.5 701.3,281.1 702.1,265.4 702.2,271.9 702.9,283.2 703.7,295.1 703.8,304.6 704.5,320.9 705.3,336.2 706.1,358.3 706.9,363.1 707.2,374.1 707.7,379.8 708.5,404.3 709.3,413.5 709.8,433.0 710.1,426.5 710.9,448.8 711.7,454.3 712.5,477.2 713.3,483.8 714.1,500.2 714.9,504.2 715.7,518.6 716.5,525.9 716.9,535.3 717.3,532.0 718.1,540.3 718.9,537.2 719.7,552.5 720.5,545.9 721.3,549.9 722.1,560.4 722.2,563.8 722.9,559.7 723.7,562.2 724.5,560.7 725.3,570.2 726.1,562.7 726.9,571.7 727.7,566.1 728.5,574.8 729.3,574.6 730.1,578.8 730.9,575.5 731.0,569.6 731.7,580.7 732.5,576.6 733.3,584.2 734.1,573.0 734.9,584.0 735.7,578.4 736.5,576.2 737.3,587.2 738.1,587.4 738.9,578.9 739.7,580.2 739.8,590.2 740.5,589.0 741.3,583.6 742.1,589.3 742.9,585.3 743.7,588.3 744.5,582.9 745.3,592.6 746.1,585.1 746.9,594.4 747.7,586.7 748.5,594.7 748.6,589.0 749.3,595.7 750.1,589.0 750.9,596.2 751.7,586.9 752.5,599.7 753.3,587.5 754.1,596.9 754.9,591.3 755.7,594.8 756.5,590.4 757.3,596.6 757.4,591.1 758.1,597.2 758.9,589.2 759.7,592.8 760.5,598.5 761.3,586.1 762.1,587.3 762.9,590.5 763.7,595.9 764.5,587.2 765.3,594.1 766.1,588.5 766.9,592.9 767.7,584.5 768.5,591.9 769.3,586.3 770.1,593.4 770.9,586.3 771.7,586.8 772.5,593.4 773.3,584.4 774.1,588.0 774.9,587.7 775.7,595.1 776.5,588.8 777.3,592.5 778.1,589.7 778.9,599.7 779.7,588.9 780.5,598.7 781.3,590.3 782.1,601.2 782.9,593.3 783.7,589.7 783.8,600.7 784.5,600.5 785.3,592.3 786.1,602.5 786.9,590.6 787.7,598.6 788.5,599.4 789.3,596.4 790.1,590.3 790.9,596.1 791.7,597.9 792.5,586.8 792.9,599.2 793.3,590.3 794.1,597.6 794.9,587.1 795.7,594.9 796.5,586.7 797.3,596.8 798.1,587.2 798.9,593.1 799.7,586.9 800.5,597.8 801.3,589.2 802.1,594.9 802.9,588.7 803.7,588.2 804.5,591.4 805.3,586.7 806.1,593.4 806.9,584.9 807.7,595.6 808.5,586.4 809.3,592.0 810.1,585.5 810.9,596.6 811.7,583.9 812.5,595.7 813.3,587.8 814.1,591.8 814.9,585.1 815.7,583.6 816.5,589.8 817.3,585.6 818.1,592.8 818.9,585.4 819.7,587.3 820.5,592.7 821.3,582.3 822.1,592.6 822.9,582.3 823.7,588.2 824.5,584.3 825.3,590.1 826.1,586.6 826.9,590.0 827.7,577.5 828.5,589.6 829.3,591.0 830.1,587.8 830.9,584.5 831.7,589.3 832.5,587.7 833.3,580.8 834.1,579.1 834.9,588.7 835.7,590.2 836.5,582.4 837.3,588.1 838.1,593.1 838.9,586.0 839.7,591.8 840.5,588.2 841.3,595.6 842.1,590.2 842.9,596.5 843.7,590.1 844.5,598.8 845.3,588.2 846.1,592.6 846.9,599.1 847.7,589.5 848.5,600.1 849.3,592.9 850.0,600.8 850.1,590.5 850.9,604.0 851.7,594.0 852.5,605.4 853.3,602.2 854.1,598.9 854.9,604.5 855.7,598.7 856.5,608.9 857.3,598.0 858.1,609.1 858.9,595.4 859.7,603.5 860.5,607.3 861.3,599.6 862.1,599.3 862.9,607.4 863.7,605.4 864.5,601.6 865.3,609.0 866.1,605.0 866.9,603.6 867.7,609.7 868.5,603.2 869.3,610.5 870.1,603.2 870.9,611.3 871.7,606.5 872.5,611.6 872.9,606.2 873.3,612.9 874.1,603.3 874.9,619.4 875.7,608.0 876.5,618.6 877.3,609.1 878.1,617.6 878.9,614.1 879.7,617.5 880.5,608.4 881.3,620.6 882.1,620.3 882.9,615.9 883.7,616.6 884.5,614.4 885.3,621.6 886.1,613.6 886.9,622.0 887.7,614.3 888.5,622.2 889.3,617.0 890.1,624.4 890.9,616.5 891.7,624.6 892.5,618.6 893.3,626.6 894.1,617.1 894.9,618.9 895.7,624.0 896.5,616.2 897.3,626.4 898.1,627.0 898.9,621.9 899.7,619.6 900.5,631.3 901.3,621.7 902.1,628.9 902.9,621.3 903.7,627.7 904.5,624.7 905.3,629.1 906.1,623.2 906.9,618.6 907.7,630.7 908.5,622.8 909.3,631.7 910.1,623.0 910.9,632.2 911.7,622.3 912.5,633.2 913.3,621.4 914.1,630.5 914.9,632.3 915.7,627.9 916.5,626.0 917.3,631.6 918.1,624.2 918.6,630.0 918.9,626.1 919.7,632.9 920.5,626.3 921.3,633.6 922.1,625.7 922.9,638.1 923.7,627.1 924.5,633.3 925.3,626.6 926.1,633.0 926.9,624.6 927.7,633.8 928.5,634.0 929.3,624.8 930.1,629.6 930.9,636.8 931.7,634.1 932.5,626.7 933.3,635.7 934.1,627.4 934.9,636.2 935.7,629.6 936.5,632.5 937.3,634.6 938.1,630.0 938.9,633.4 939.7,629.9 940.5,636.6 941.3,625.6 941.4,629.9 942.1,628.0 942.9,628.1 943.7,641.9 944.5,635.8 945.3,630.2 946.1,637.3 946.9,629.2 947.7,637.7 948.5,632.4 949.3,640.8 950.1,631.1 950.9,643.3 951.7,631.0 952.5,639.1 953.3,630.1 954.1,632.8 954.9,635.0 955.7,630.5 956.5,641.8 957.3,633.3 958.1,634.3 958.9,644.3 959.7,635.6 960.5,635.2 961.3,645.6 962.1,645.1 962.9,641.7 963.7,637.3 964.3,646.4 964.5,638.6 965.3,634.5 966.1,646.5 966.9,638.8 967.7,649.7 968.5,643.1 969.3,638.3 970.1,646.3 970.9,638.7 971.7,645.9 972.5,649.9 973.3,642.4 974.1,647.1 974.9,638.1 975.7,642.9 976.5,653.8 977.3,641.5 978.1,652.8 978.9,643.0 979.7,653.3 980.5,644.6 981.3,641.6 982.1,650.7 982.9,646.7 983.7,654.8 984.5,647.0 985.3,652.3 986.1,646.2 986.9,647.6 987.1,654.7 987.7,646.2 988.5,655.7 989.3,656.1 990.1,646.0 990.9,655.6 991.7,653.3 992.5,648.6 993.3,656.7 994.1,647.3 994.9,648.3 995.7,656.0 996.5,647.4 997.3,658.3 998.1,648.2 998.9,654.4 999.7,648.3 1000.5,657.7 1001.3,644.1 1002.1,659.2 1002.9,645.5 1003.7,655.5 1004.5,653.5 1005.3,647.1 1006.1,657.3 1006.9,646.0 1007.7,656.7 1008.5,645.0 1009.3,657.9 1010.0,645.9 1010.1,657.3 1010.9,650.3 1011.7,657.2 1012.5,646.2 1013.3,656.6 1014.1,648.8 1014.9,659.2 1015.7,646.1 1016.5,649.4 1017.3,651.8 1018.1,646.8 1018.9,655.6 1019.7,644.4 1020.5,657.5 1021.3,653.1 1022.1,646.8 1022.9,646.9 1023.7,655.8 1024.5,647.0 1025.3,654.6 1026.1,647.2 1026.9,652.4 1027.7,644.2 1028.5,654.5 1029.3,644.7 1030.1,643.1 1030.9,650.1 1031.7,645.0 1032.5,653.1 1032.9,643.7 1033.3,648.2 1034.1,644.2 1034.9,649.9 1035.7,643.7 1036.5,651.7 1037.3,643.7 1038.1,650.6 1038.9,642.5 1039.7,655.3 1040.5,642.2 1041.3,651.1 1042.1,643.8 1042.9,642.7 1043.7,650.5 1044.5,643.6 1045.3,648.6 1046.1,641.9 1046.9,642.7 1047.7,649.4 1048.5,643.3 1049.3,639.0 1050.1,648.3 1050.9,642.0 1051.7,650.2 1052.5,648.0 1053.3,640.4 1054.1,645.6 1054.9,648.8 1055.7,641.3 1056.5,640.0 1057.3,647.8 1058.1,645.8 1058.9,649.9 1059.7,644.5 1060.5,645.3 1061.3,644.6 1062.1,649.6 1062.9,643.3 1063.7,649.5 1064.5,646.6 1065.3,649.2 1066.1,643.8 1066.9,652.7 1067.7,650.4 1068.5,643.2 1069.3,651.6 1070.1,643.7 1070.9,650.6 1071.7,643.8 1072.5,650.8 1073.3,646.1 1074.1,642.5 1074.9,651.0 1075.7,643.7 1076.5,648.4 1077.3,642.8 1078.1,653.6 1078.6,644.3 1078.9,654.9 1079.7,645.1 1080.5,652.8 1081.3,644.6 1082.1,653.2 1082.9,644.0 1083.7,653.1 1084.5,646.8 1085.3,654.2 1086.1,644.8 1086.9,653.1 1087.7,657.1 1088.5,647.7 1089.3,653.1 1090.1,646.4 1090.9,655.3 1091.7,647.3 1092.5,654.4 1093.3,647.7 1094.1,655.0 1094.9,647.2 1095.7,648.8 1096.5,658.3 1097.3,648.3 1098.1,656.1 1098.9,650.9 1099.7,658.0 1100.5,646.6 1101.3,658.3 1101.4,648.0 1102.1,657.7 1102.9,648.1 1103.7,656.1 1104.5,646.1 1105.3,656.3 1106.1,651.5 1106.9,656.2 1107.7,651.6 1108.5,658.1 1109.3,659.4 1110.1,651.9 1110.9,652.7 1111.7,660.2 1112.5,656.6 1113.3,656.6 1114.1,648.3 1114.9,658.6 1115.7,656.6 1116.5,650.7 1117.3,658.2 1118.1,652.1 1118.9,657.8 1119.7,646.6 1120.5,649.3 1121.3,658.7 1122.1,658.7 1122.9,652.4 1123.7,659.1 1124.3,653.4 1124.5,659.4 1125.3,658.4 1126.1,652.8 1126.9,658.2 1127.7,656.0 1128.5,652.1 1129.3,659.4 1130.1,650.1 1130.9,659.6 1131.7,652.6 1132.5,660.4 1133.3,649.9 1134.1,650.0 1134.9,655.3 1135.7,661.4 1136.5,652.6 1137.3,658.9 1138.1,651.8 1138.9,653.5 1139.7,661.0 1140.5,650.1 1141.3,662.7 1142.1,652.7 1142.9,653.6 1143.7,659.0 1144.5,651.7 1145.3,661.7 1146.1,647.9 1146.9,659.0 1147.1,651.1 1147.7,658.2 1148.5,651.6 1149.3,652.5 1150.1,659.9 1150.9,652.9 1151.7,658.5 1152.5,653.5 1153.3,652.2 1154.1,659.2 1154.9,651.8 1155.7,654.8 1156.5,660.3 1157.3,650.4 1158.1,660.9 1158.9,653.8 1159.7,661.1 1160.5,650.1 1161.3,661.8 1162.1,651.3 1162.9,663.9 1163.7,652.7 1164.5,660.7 1165.3,662.0 1166.1,653.5 1166.9,661.6 1167.7,653.5 1168.5,663.4 1169.3,655.2 1170.0,661.8 1170.1,653.8 1170.9,661.8 1171.7,651.0 1172.5,651.8 1173.3,653.7 1174.1,652.2 1174.9,662.3 1175.7,655.2 1176.5,660.7 1177.3,652.5 1178.1,659.3 1178.9,655.7 1179.7,662.2 1180.5,662.7 1181.3,660.3 1182.1,660.2 1182.9,653.4 1183.7,658.1 1184.5,655.5 1185.3,660.3 1186.1,651.1 1186.9,651.6 1187.7,658.5 1188.0,650.7 1188.5,660.1 1189.3,650.4 1190.1,652.6 1190.9,661.0 1191.7,654.0 1192.5,661.3 1193.3,656.5 1194.1,656.7 1194.9,666.7 1195.7,654.8 1196.5,666.3 1197.3,658.0 1198.1,669.8 1198.9,661.6 1199.7,668.7 1200.5,659.7 1201.3,670.0 1202.1,671.4 1202.9,661.0 1203.7,670.1 1204.5,666.5 1205.3,676.3 1205.5,664.6 1206.1,675.0 1206.9,663.8 1207.7,675.2 1208.5,665.1 1209.3,672.4 1210.1,666.2 1210.9,671.8 1211.7,673.4 1212.5,659.4 1213.3,674.0 1214.1,666.0 1214.9,667.5 1215.7,675.8 1216.5,667.8 1217.3,678.9 1218.1,670.7 1218.9,678.4 1219.7,669.6 1220.5,677.1 1221.3,669.8 1222.1,680.4 1222.9,669.4 1223.7,668.4 1224.5,679.4 1225.3,681.0 1226.1,669.8 1226.9,678.4 1227.7,672.7 1228.2,679.5 1228.5,672.0 1229.3,682.9 1230.1,672.2 1230.9,681.0 1231.7,670.6 1232.5,679.4 1233.3,672.2 1234.1,679.7 1234.9,672.7 1235.7,674.5 1236.5,677.9 1237.3,674.9 1238.1,681.8 1238.9,673.2 1239.7,677.5 1240.5,677.6 1241.3,673.9 1242.1,683.2 1242.9,677.2 1243.7,684.4 1244.5,672.3 1245.3,684.3 1246.1,675.9 1246.9,685.4 1247.7,678.8 1248.5,684.0 1249.3,685.8 1250.1,674.8 1250.9,684.8 1251.0,677.7 1251.7,685.9 1252.5,677.5 1253.3,685.3 1254.1,680.2 1254.9,685.2 1255.7,685.4 1256.5,678.1 1257.3,684.3 1258.1,676.6 1258.9,688.2 1259.7,687.2 1260.5,679.3 1261.3,683.7 1262.1,678.2 1262.9,686.4 1263.7,685.2 1264.5,687.5 1265.3,681.9 1266.1,676.4 1266.9,685.5 1267.7,679.3 1268.5,690.5 1269.3,679.4 1270.1,688.0 1270.9,678.4 1271.7,682.8 1272.5,686.5 1273.3,681.8 1273.7,682.6 1274.1,688.4 1274.9,681.5 1275.7,683.2 1276.5,688.4 1277.3,680.5 1278.1,693.1 1278.9,679.9 1279.7,689.0 1280.5,680.6 1281.3,683.4 1282.1,685.9 1282.9,691.5 1283.7,683.2 1284.5,690.7 1285.3,683.0 1286.1,688.4 1286.9,682.7 1287.7,692.9 1288.5,683.2 1289.3,690.3 1290.1,686.4 1290.9,684.4 1291.7,690.7 1292.5,684.4 1293.3,684.8 1294.1,691.1 1294.9,684.6 1295.7,690.1 1296.4,687.6 1296.5,691.1 1297.3,686.6 1298.1,692.8 1298.9,683.1 1299.7,684.1 1300.5,691.7 1301.3,685.7 1302.1,684.3 1302.9,693.3 1303.7,684.0 1304.5,691.1 1305.3,684.3 1306.1,681.8 1306.9,683.4 1307.7,694.2 1308.5,685.5 1309.3,692.3 1310.1,685.1 1310.9,691.6 1311.7,687.2 1312.5,684.8 1313.3,688.7 1314.1,693.2 1314.9,694.8 1315.7,687.3 1316.5,686.0 1317.3,691.9 1318.1,683.0 1318.9,693.2 1319.2,684.7 1319.7,692.0 1320.5,693.4 1321.3,687.9 1322.1,692.6 1322.9,685.1 1323.7,688.5 1324.5,694.6 1325.3,694.6 1326.1,693.7 1326.9,686.6 1327.7,694.4 1328.5,686.3 1329.3,691.5 1330.1,686.0 1330.9,688.5 1331.7,694.4 1332.5,696.6 1333.3,693.9 1334.1,697.8 1334.9,688.4 1335.7,693.4 1336.5,685.6 1337.3,693.5 1338.1,687.3 1338.9,692.8 1339.7,687.1 1340.5,690.2 1341.3,693.8 1341.9,684.6 1342.1,693.3 1342.9,688.0 1343.7,697.6 1344.5,688.2 1345.3,695.8 1346.1,692.9 1346.9,695.1 1347.7,686.2 1348.5,692.9 1349.3,690.1 1350.1,698.0 1350.9,687.1 1351.7,694.8 1352.5,688.9 1353.3,695.2 1354.1,688.5 1354.9,688.9 1355.7,697.2 1356.5,689.0 1357.3,696.6 1358.1,687.3 1358.9,697.0 1359.7,694.2 1360.5,690.8 1361.3,695.6 1362.1,698.8 1362.9,690.9 1363.7,696.4 1364.5,692.3 1364.7,695.3 1365.3,689.1 1366.1,698.7 1366.9,688.2 1367.7,695.8 1368.5,686.8 1369.3,696.9 1370.1,688.5 1370.9,696.8 1371.7,688.2 1372.5,698.7 1373.3,697.6 1374.1,698.7 1374.9,693.1 1375.7,698.9 1376.5,696.9 1377.3,698.0 1378.1,689.2 1378.9,698.5 1379.7,693.1 1380.5,697.0 1381.3,691.7 1382.1,697.1 1382.9,697.8 1383.7,691.7 1384.5,699.1 1385.3,690.5 1386.1,700.4 1386.9,691.0 1387.4,699.5 1387.7,699.0 1388.5,701.8 1389.3,690.6 1390.1,701.1 1390.9,691.7 1391.7,702.1 1392.5,692.0 1393.3,701.7 1394.1,692.4 1394.9,700.0 1395.7,694.6 1396.5,701.9 1397.3,703.8 1398.1,702.6 1398.9,694.0 1399.7,699.4 1400.5,702.3 1401.3,700.0 1402.1,692.6 1402.9,699.7 1403.7,693.2 1404.5,703.0 1405.3,694.1 1406.1,705.3 1406.9,698.1 1407.7,703.6 1408.5,694.8 1409.3,701.6 1410.1,694.8 1410.9,701.7 1411.7,702.1 1412.5,697.0 1413.3,700.9 1414.1,692.7 1414.9,693.0 1415.7,702.1 1416.5,695.1 1417.3,700.0 1418.1,693.7 1418.9,701.1 1419.7,695.8 1420.5,705.1 1421.3,696.6 1422.1,704.0 1422.9,697.1 1423.7,695.4 1424.5,702.9 1425.3,694.6 1426.1,704.0 1426.9,703.2 1427.7,696.4 1428.5,704.0 1429.3,704.1 1430.1,699.5 1430.9,704.4 1431.7,698.9 1432.5,704.2 1432.9,696.7 1433.3,702.6 1434.1,695.9 1434.9,702.5 1435.7,697.0 1436.5,696.6 1437.3,701.5 1438.1,696.4 1438.9,705.3 1439.7,697.0 1440.5,696.8 1441.3,696.2 1442.1,707.6 1442.9,697.5 1443.7,704.2 1444.5,694.4 1445.3,697.8 1446.1,697.7 1446.9,702.6 1447.7,704.3 1448.5,695.6 1449.3,707.1 1450.1,698.5 1450.9,703.0 1451.7,698.5 1452.5,704.1 1453.3,696.3 1454.1,702.9 1454.9,704.6 1455.6,704.3 1455.7,703.3 1456.5,704.4 1457.3,705.3 1458.1,697.2 1458.9,704.6 1459.7,697.8 1460.5,702.4 1461.3,700.4 1462.1,705.4 1462.9,698.4 1463.7,706.0 1464.5,697.6 1465.3,704.1 1466.1,697.9 1466.9,703.3 1467.7,699.8 1468.5,705.2 1469.3,706.5 1470.1,701.7 1470.9,707.0 1471.7,701.6 1472.5,705.3 1473.3,705.8 1474.1,695.4 1474.9,704.8 1475.7,699.1 1476.5,708.0 1477.3,699.8 1478.1,704.8 1478.4,700.2 1478.9,710.4 1479.7,700.1 1480.5,707.7 1481.3,705.0 1482.1,703.8 1482.9,709.0 1483.7,703.9 1484.5,700.6 1485.3,707.9 1486.1,701.6 1486.9,702.2 1487.7,702.0 1488.5,701.7 1489.3,707.2 1490.1,702.1 1490.9,699.9 1491.7,708.2 1492.5,700.5 1493.3,709.5 1494.1,700.7 1494.9,709.9 1495.7,700.6 1496.5,710.4 1497.3,703.5 1498.1,703.0 1498.9,712.3 1499.7,704.0 1500.5,712.3 1501.1,710.1 1501.3,710.3 1502.1,700.3 1502.9,702.6 1503.7,704.0 1504.5,707.2 1505.3,702.5 1506.1,710.0 1506.9,701.4 1507.7,709.0 1508.5,703.5 1509.3,699.9 1510.1,711.1 1510.9,706.5 1511.7,711.2 1512.5,702.6 1513.3,704.4 1514.1,710.1 1514.9,705.1 1515.7,710.4 1516.5,701.8 1517.3,708.9 1518.1,702.5 1518.9,709.5 1519.7,702.7 1520.5,709.4 1521.3,701.3 1522.1,707.6 1522.9,710.8 1523.7,701.2 1523.8,704.9 1524.5,708.0 1525.3,700.1 1526.1,710.4 1526.9,703.9 1527.7,711.8 1528.5,703.4 1529.3,711.4 1530.1,703.8 1530.9,709.9 1531.7,703.1 1532.5,704.4 1533.3,701.7 1534.1,710.6 1534.9,704.5 1535.7,709.3 1536.5,706.3 1537.3,711.5 1538.1,704.6 1538.9,710.5 1539.7,710.7 1540.5,712.1 1541.3,704.0 1542.1,709.5 1542.9,705.2 1543.7,710.6 1544.5,705.5 1545.3,712.5 1546.1,705.3 1546.9,709.4 1547.7,710.4 1548.5,703.9 1549.3,711.8 1550.1,706.4 1550.9,702.2 1551.7,712.1 1552.5,704.7 1553.3,711.3 1554.1,704.0 1554.9,708.3 1555.7,712.6 1556.5,704.3 1557.3,710.7 1558.0,704.4 1558.1,714.0 1558.9,704.2 1559.7,710.7 1560.5,705.0 1561.3,710.2 1562.1,703.1 1562.9,709.9 1563.7,704.1 1564.5,710.5 1565.3,706.7 1566.1,710.9 1566.9,711.2 1567.7,703.7 1568.5,703.3 1569.3,709.6 1570.1,707.3 1570.9,704.5 1571.7,710.8 1572.5,705.6 1573.3,711.2 1574.1,705.5 1574.9,704.1 1575.7,711.0 1576.5,704.8 1577.3,713.2 1578.1,705.5 1578.9,711.7 1579.7,704.3 1580.5,710.0 1581.3,704.9 1582.1,706.2 1582.9,709.3 1583.7,707.1 1584.5,712.9 1585.3,706.2 1586.1,705.0 1586.9,704.2 1587.7,704.3 1588.5,708.8 1589.3,705.4 1590.1,711.9 1590.9,712.9 1591.7,704.4 1592.5,709.3 1593.3,706.5 1594.1,709.6 1594.9,713.1 1595.7,703.5 1596.5,711.0 1597.3,705.0 1598.1,710.2 1598.9,709.2 1599.7,703.3 1600.5,706.2 1601.3,714.6 1602.1,703.4 1602.9,711.0 1603.7,705.3 1604.5,711.0 1605.3,704.7 1606.1,712.4 1606.9,705.9 1607.7,712.5 1608.5,705.8 1609.3,718.3 1610.1,706.8 1610.9,711.1 1611.7,712.9 1612.5,707.6 1613.3,705.6 1614.1,712.5 1614.9,712.8 1615.7,704.2 1616.5,711.6 1617.3,707.0 1618.1,704.0 1618.9,713.9 1619.7,705.9 1620.5,712.0 1621.3,707.2 1622.1,712.7 1622.9,712.7 1623.7,713.0 1624.5,705.2 1625.3,710.2 1626.1,705.4 1626.9,714.6 1627.7,705.7 1628.5,707.4 1629.3,704.9 1630.1,709.7 1630.9,705.3 1631.7,714.2 1632.5,707.1 1633.3,706.9 1634.1,713.4 1634.9,708.1 1635.7,713.6 1636.5,711.3 1637.3,704.8 1638.1,709.2 1638.9,712.5 1639.7,706.4 1640.5,713.8 1641.3,705.5 1642.1,706.3 1642.9,711.3 1643.2,705.7 1643.7,711.7 1644.5,706.1 1645.3,711.0 1646.1,712.5 1646.9,705.7 1647.7,715.0 1648.5,707.0 1649.3,711.9 1650.1,707.0 1650.9,713.6 1651.7,704.2 1652.5,707.1 1653.3,711.0 1654.1,712.4 1654.9,708.0 1655.7,708.8 1656.5,715.6 1657.3,707.1 1658.1,715.0 1658.9,715.2 1659.7,707.9 1660.5,706.9 1661.3,714.2 1662.1,704.1 1662.9,712.8 1663.7,707.0 1664.5,707.2 1665.3,714.3 1666.1,711.6 1666.9,706.7 1667.7,703.1 1668.5,713.2 1669.3,707.4 1670.1,716.7 1670.9,706.1 1671.7,710.4 1672.5,715.2 1673.3,705.5 1674.1,714.6 1674.9,707.0 1675.7,713.9 1676.5,707.5 1677.3,713.5 1678.1,706.5 1678.9,716.1 1679.7,705.9 1680.5,715.8 1681.3,708.4 1682.1,713.6 1682.9,708.3 1683.7,714.8 1684.5,708.1 1685.3,714.9 1686.1,709.7 1686.9,715.2 1687.7,709.3 1688.5,714.3 1689.3,707.9 1690.1,715.6 1690.9,714.3 1691.7,714.9 1692.5,707.2 1693.3,715.1 1694.1,709.8 1694.9,716.1 1695.7,711.3 1696.5,714.1 1697.3,706.8 1698.1,716.8 1698.9,710.3 1699.7,708.3 1700.5,712.7 1701.3,705.8 1702.1,714.3 1702.9,710.2 1703.7,714.1 1704.5,708.6 1705.3,710.6 1706.1,716.8 1706.9,708.2 1707.7,714.0 1708.5,707.0 1709.3,709.9 1710.1,714.1 1710.9,710.4 1711.7,707.9 1712.5,708.7 1713.3,715.0 1714.1,715.2 1714.9,715.8 1715.7,707.7 1716.5,716.1 1717.3,710.8 1718.1,706.3 1718.9,705.1 1719.7,716.4 1720.5,709.1 1721.3,716.4 1722.1,711.1 1722.9,714.6 1723.7,710.4 1724.5,716.1 1725.3,707.4 1726.1,714.9 1726.9,708.0 1727.7,718.8 1728.5,711.4 1729.3,707.8 1730.1,715.4 1730.9,709.4 1731.7,714.3 1732.5,710.5 1733.3,716.0 1734.1,710.2 1734.9,716.9 1735.7,711.0 1736.5,717.1 1737.3,712.1 1738.1,709.5 1738.9,709.7 1739.7,709.4 1740.5,716.9 1741.3,709.3 1742.1,715.6 1742.9,711.3 1743.7,715.8 1744.5,712.3 1745.3,718.3 1746.1,712.1 1746.9,717.4 1747.7,712.7 1748.5,714.5 1749.3,711.4 1750.1,716.8 1750.9,709.5 1751.7,716.6 1752.5,714.7 1753.3,710.7 1754.1,717.1 1754.9,711.1 1755.7,717.3 1756.5,716.2 1757.3,711.9 1758.1,717.5 1758.9,716.7 1759.7,712.0 1760.5,718.0 1761.3,708.1 1762.1,715.7 1762.9,713.7 1763.7,716.2 1764.5,717.6 1765.3,715.5 1766.1,710.4 1766.9,717.4 1767.7,709.2 1768.5,717.2 1769.3,715.0 1770.1,710.4 1770.9,714.1 1771.7,712.3 1772.5,717.4 1773.3,711.6 1774.1,716.5 1774.9,717.3 1775.7,712.3 1776.5,717.4 1777.3,717.6 1778.1,710.3 1778.9,716.9 1779.7,713.4 1780.5,709.7 1781.3,717.2 1782.1,713.1 1782.9,717.8 1783.7,711.5 1784.5,717.5 1785.3,712.9 1786.1,712.7 1786.9,716.1 1787.7,710.9 1788.5,716.1 1789.3,712.8 1790.1,716.6 1790.9,711.4 1791.7,716.5 1792.5,711.1 1793.3,717.5 1794.1,710.3 1794.9,716.7 1795.7,712.3 1796.5,716.7 1797.3,710.9 1798.1,721.6 1798.9,717.9 1799.7,717.2 1800.5,709.2 1801.3,710.6 1802.1,712.5 1802.9,712.9 1803.7,717.8 1804.5,713.6 1805.3,716.0 1806.1,710.7 1806.9,712.5 1807.7,719.2 1808.5,714.6 1809.3,718.1 1810.1,720.4 1810.9,710.7 1811.7,719.6 1812.5,710.6 1813.3,717.9 1814.1,710.0 1814.9,712.7 1815.7,722.1 1816.5,713.6 1817.3,715.9 1818.1,712.3 1818.9,718.1 1819.7,712.1 1820.5,712.9 1821.3,712.9 1822.1,715.5 1822.9,711.1 1823.7,720.6 1824.5,712.9 1825.3,716.0 1826.1,713.3 1826.9,719.8 1827.7,712.7 1828.5,715.5 1829.3,718.6 1829.7,713.8 1830.1,718.7 1830.9,712.9 1831.7,717.9 1832.5,719.5 1833.3,718.1 1834.1,716.9 1834.9,718.1 1835.7,711.0 1836.5,718.4 1837.3,713.9 1838.1,717.0 1838.9,714.2 1839.7,718.1 1840.5,719.5 1841.3,714.9 1842.1,712.7 1842.9,720.4 1843.7,714.6 1844.5,718.9 1845.3,711.2 1846.1,719.5 1846.9,714.5 1847.7,718.7 1848.5,710.4 1849.3,714.1 1850.1,716.5 1850.9,714.1 1851.7,722.6 1852.5,718.5 1853.3,713.2 1854.1,721.2 1854.9,711.6 1855.7,721.7 1856.5,720.1 1857.3,714.4 1858.1,718.8 1858.9,715.4 1859.7,720.9 1860.5,714.7 1861.3,713.0 1862.1,720.2 1862.9,712.4 1863.7,719.6 1864.5,713.4 1865.3,721.3 1866.1,710.9 1866.9,713.6 1867.7,720.7 1868.5,714.0 1869.3,718.3 1870.1,713.1 1870.9,721.4 1871.7,718.9 1872.5,712.9 1873.3,716.2 1874.1,720.4 1874.9,715.3 1875.7,714.0 1876.5,718.7 1877.3,711.3 1878.1,719.7 1878.9,712.9 1879.7,722.3 1880.5,719.8 1881.3,714.8 1882.1,721.7 1882.9,720.1 1883.7,715.1 1884.5,718.7 1885.3,719.7 1886.1,715.8 1886.9,721.2 1887.7,714.3 1888.5,719.4 1889.3,715.7 1890.1,715.5 1890.9,714.9 1891.7,720.2 1892.5,716.2 1893.3,721.5 1894.1,714.5 1894.9,720.8 1895.7,720.0 1896.5,715.4 1897.3,714.8 1898.1,720.4 1898.9,716.5 1899.7,717.7 1900.5,721.4 1901.3,714.1 1902.1,724.9 1902.9,715.3 1903.7,721.5 1904.5,715.5 1905.3,720.3 1906.1,717.7 1906.9,714.9 1907.7,715.7 1908.5,716.0 1909.3,723.0 1910.1,712.9 1910.9,720.4 1911.7,715.1 1912.5,722.4 1913.3,713.9 1914.1,720.7 1914.9,716.4 1915.7,720.9 1916.5,716.2 1917.3,723.4 1918.1,718.2 1918.9,719.9 1919.7,713.4 1920.5,721.4 1921.3,717.4 1922.1,723.1 1922.9,716.0 1923.0,721.4 1923.7,722.0 1924.5,715.6 1925.3,721.8 1926.1,716.2 1926.9,716.6 1927.7,719.8 1928.5,715.5 1929.3,714.9 1930.1,721.9 1930.9,716.3 1931.7,726.0 1932.5,717.7 1933.3,722.4 1934.1,717.9 1934.9,721.9 1935.7,716.1 1936.5,719.9 1937.3,720.3 1938.1,718.7 1938.9,721.2 1939.7,715.9 1940.5,718.9 1941.3,722.5 1942.1,723.8 1942.9,716.4 1943.7,724.6 1944.5,717.0 1945.3,722.5 1946.1,717.1 1946.9,723.7 1947.7,718.0 1948.5,723.5 1949.3,716.1 1950.1,723.3 1950.9,721.5 1951.7,716.0 1952.5,726.7 1953.3,715.4 1954.1,722.4 1954.9,717.9" stroke="#FF22CC" stroke-width="8.5" fill="none" stroke-linejoin="round" stroke-linecap="round"/>
<polyline points="317.3,2196.3 318.1,2196.7 318.9,2190.2 319.7,2197.0 320.5,2191.9 321.3,2197.2 322.1,2190.9 322.9,2197.1 323.7,2187.5 324.5,2196.2 325.3,2198.9 326.1,2188.3 326.9,2187.1 327.7,2198.5 328.5,2188.9 329.3,2196.5 330.1,2190.2 330.9,2196.7 331.7,2186.0 332.5,2194.8 333.3,2186.9 334.1,2194.9 334.9,2187.3 335.7,2196.4 336.5,2183.9 337.3,2194.8 337.5,2189.9 338.1,2192.9 338.9,2186.2 339.7,2195.2 340.5,2187.6 341.3,2193.9 342.1,2189.4 342.9,2192.1 343.7,2193.3 344.5,2188.4 345.3,2194.7 346.1,2191.9 346.9,2186.7 347.7,2192.3 348.5,2189.3 349.3,2189.2 350.1,2192.0 350.9,2187.1 351.7,2194.8 352.5,2186.5 353.3,2193.9 354.1,2185.7 354.9,2193.1 355.7,2185.9 356.5,2193.4 357.3,2189.3 357.9,2186.9 358.1,2191.7 358.9,2188.3 359.7,2192.5 360.5,2190.4 361.3,2192.7 362.1,2192.3 362.9,2188.9 363.7,2192.7 364.5,2186.0 365.3,2191.7 366.1,2189.5 366.9,2186.0 367.7,2186.0 368.5,2184.6 369.3,2191.5 370.1,2184.5 370.9,2186.3 371.7,2193.5 372.5,2182.9 373.3,2190.5 374.1,2191.2 374.9,2183.1 375.7,2188.2 376.5,2183.8 377.3,2185.8 378.1,2189.6 378.4,2182.0 378.9,2185.0 379.7,2190.1 380.5,2183.4 381.3,2184.0 382.1,2189.7 382.9,2183.7 383.7,2183.3 384.5,2191.2 385.3,2182.7 386.1,2190.3 386.9,2184.1 387.7,2189.8 388.5,2182.0 389.3,2187.5 390.1,2181.6 390.9,2187.5 391.7,2181.5 392.5,2186.7 393.3,2178.7 394.1,2187.3 394.9,2183.6 395.7,2181.1 396.5,2186.4 397.3,2178.4 398.1,2187.6 398.9,2179.1 399.7,2185.3 400.5,2177.5 401.3,2177.1 402.1,2188.0 402.9,2177.5 403.7,2185.0 404.5,2179.6 405.3,2176.8 406.1,2183.6 406.9,2184.1 407.7,2176.8 408.5,2177.8 409.3,2182.0 410.0,2177.4 410.1,2180.4 410.9,2173.7 411.7,2177.7 412.5,2170.0 413.3,2175.6 414.0,2165.5 414.1,2172.2 414.9,2165.1 415.7,2173.4 416.5,2166.5 417.3,2166.6 418.1,2173.6 418.9,2170.2 419.7,2167.5 420.0,2176.1 420.5,2167.1 421.3,2176.0 422.1,2167.8 422.9,2173.1 423.7,2167.4 424.5,2176.0 425.3,2171.3 426.1,2175.3 426.9,2170.3 427.7,2176.5 428.5,2178.2 429.3,2174.5 429.6,2179.5 430.1,2166.2 430.9,2176.7 431.7,2168.3 432.5,2172.1 433.3,2175.3 434.1,2169.6 434.9,2175.2 435.7,2169.4 436.5,2165.3 437.3,2176.0 438.1,2168.6 438.9,2175.3 439.7,2168.4 440.5,2174.8 441.3,2168.7 442.1,2173.4 442.9,2174.8 443.7,2165.9 444.5,2172.0 445.3,2173.7 446.1,2167.7 446.9,2172.3 447.7,2169.6 448.5,2173.0 449.3,2164.9 450.0,2164.9 450.1,2175.2 450.9,2163.4 451.7,2174.4 452.5,2161.9 453.3,2170.7 454.1,2162.6 454.9,2169.2 455.7,2161.9 456.5,2168.4 457.3,2166.0 458.1,2170.9 458.9,2163.2 459.7,2161.6 460.5,2160.6 461.3,2168.9 462.1,2167.6 462.9,2158.5 463.7,2165.0 464.5,2162.6 465.3,2167.7 466.1,2160.3 466.9,2158.7 467.7,2166.3 468.5,2158.5 469.3,2158.0 470.1,2158.5 470.5,2157.5 470.9,2163.1 471.7,2158.1 472.5,2164.7 473.3,2167.4 474.1,2163.6 474.9,2160.3 475.7,2152.7 476.5,2152.8 477.3,2153.5 478.1,2158.8 478.9,2152.2 479.7,2159.6 480.5,2149.2 481.3,2150.2 482.1,2154.7 482.9,2147.2 483.7,2155.6 484.5,2148.1 485.3,2155.7 486.1,2145.6 486.9,2153.0 487.7,2145.6 488.5,2154.0 489.3,2145.6 490.1,2145.4 490.9,2149.1 491.0,2141.9 491.7,2148.0 492.5,2141.6 493.3,2146.8 494.1,2144.9 494.9,2138.0 495.7,2139.5 496.5,2137.7 497.3,2142.9 498.1,2137.6 498.2,2134.7 498.9,2142.1 499.7,2134.1 500.5,2137.9 501.3,2131.9 502.1,2137.9 502.9,2130.8 503.7,2137.7 504.5,2131.1 505.3,2139.3 506.1,2129.4 506.9,2137.9 507.7,2128.3 508.5,2135.6 509.3,2127.1 510.1,2134.7 510.9,2127.9 511.7,2128.2 512.5,2133.5 513.3,2131.1 514.1,2132.7 514.9,2125.7 515.7,2132.6 516.4,2122.4 516.5,2134.1 517.3,2128.5 518.1,2122.6 518.9,2127.5 519.7,2122.4 520.5,2127.4 521.3,2119.3 522.1,2122.7 522.9,2115.6 523.7,2123.4 524.5,2124.1 525.3,2122.7 526.1,2123.2 526.9,2120.9 527.7,2114.6 528.5,2117.8 529.3,2111.2 530.1,2113.0 530.9,2119.4 531.7,2111.6 532.5,2116.1 533.3,2114.8 534.1,2108.5 534.6,2116.6 534.9,2106.3 535.7,2114.2 536.5,2107.1 537.3,2102.1 538.1,2100.4 538.9,2111.1 539.7,2102.8 540.5,2107.0 541.3,2108.0 542.1,2108.6 542.9,2096.1 543.7,2104.4 544.5,2100.8 545.3,2104.1 546.1,2097.5 546.9,2097.4 547.7,2101.9 548.5,2094.7 549.3,2100.6 550.1,2091.4 550.9,2098.7 551.7,2093.3 552.5,2091.5 552.8,2094.6 553.3,2088.8 554.1,2088.2 554.9,2093.2 555.7,2085.2 556.5,2090.8 557.3,2084.4 558.1,2090.5 558.9,2082.8 559.7,2084.9 560.5,2077.6 561.3,2083.0 562.1,2077.9 562.9,2074.1 563.7,2083.7 564.5,2074.3 565.3,2079.0 566.1,2070.3 566.9,2079.0 567.7,2070.1 568.5,2077.2 569.3,2065.4 570.1,2074.7 570.9,2062.8 571.0,2074.1 571.7,2060.9 572.5,2068.6 573.3,2069.8 574.1,2058.8 574.9,2061.4 575.7,2063.9 576.5,2055.4 577.3,2053.4 578.1,2060.0 578.9,2052.3 579.7,2056.5 580.5,2049.8 581.3,2054.9 582.1,2046.0 582.9,2052.1 583.7,2043.0 584.5,2048.0 585.3,2039.2 586.1,2047.8 586.9,2037.4 587.7,2044.6 588.5,2029.6 589.2,2041.7 589.3,2032.1 590.1,2038.7 590.9,2027.4 591.7,2036.7 592.5,2024.5 593.3,2031.4 594.1,2021.2 594.9,2027.9 595.7,2026.6 596.5,2017.0 597.3,2023.2 598.1,2012.5 598.9,2017.5 599.7,2009.0 600.5,2016.9 601.3,2007.8 602.1,2014.4 602.8,2003.9 602.9,2010.2 603.7,2000.6 604.5,2005.6 605.3,1995.2 606.1,2001.4 606.9,1993.2 607.7,2000.5 608.5,1986.9 609.3,1994.0 610.1,1983.2 610.9,1988.5 611.7,1979.6 612.0,1979.7 612.5,1983.9 613.3,1973.0 614.1,1973.7 614.9,1959.9 615.7,1962.7 616.5,1954.6 617.3,1948.1 618.1,1950.7 618.3,1942.1 618.9,1939.3 619.7,1912.1 620.5,1903.8 620.6,1897.6 621.3,1885.2 622.1,1887.5 622.9,1871.1 623.7,1875.2 624.5,1867.0 625.3,1881.7 626.1,1877.0 626.9,1888.9 627.7,1881.5 628.0,1893.5 628.5,1884.2 629.3,1886.8 630.1,1878.7 630.9,1873.4 631.7,1862.8 632.5,1865.4 633.0,1853.7 633.3,1856.1 634.1,1834.4 634.9,1836.0 635.7,1816.7 636.5,1810.4 637.3,1794.2 638.1,1791.5 638.9,1780.3 639.3,1770.0 639.7,1789.9 640.5,1805.0 641.3,1833.7 641.4,1848.2 642.1,1846.0 642.9,1872.0 643.7,1885.6 644.3,1883.0 644.5,1898.3 645.3,1907.3 646.1,1913.7 646.9,1926.5 647.1,1921.1 647.7,1929.1 648.5,1925.3 649.3,1935.0 650.1,1932.0 650.9,1941.6 651.7,1931.1 652.5,1934.2 652.9,1935.8 653.3,1942.7 654.1,1943.9 654.9,1932.8 655.7,1942.5 656.5,1932.6 657.3,1935.7 658.1,1933.9 658.6,1945.9 658.9,1931.4 659.7,1933.4 660.5,1935.8 661.3,1925.3 662.1,1917.0 662.9,1916.5 663.7,1917.8 664.5,1906.5 665.3,1913.7 665.7,1907.6 666.1,1902.8 666.9,1909.1 667.7,1890.1 668.5,1893.9 669.3,1884.7 670.1,1892.2 670.9,1874.2 671.7,1881.2 672.5,1867.8 672.9,1876.7 673.3,1859.7 674.1,1864.8 674.9,1851.3 675.7,1846.2 676.5,1850.7 677.3,1834.9 678.1,1827.5 678.9,1833.8 679.7,1819.4 680.0,1827.7 680.5,1809.3 681.3,1811.9 682.1,1798.7 682.9,1795.9 683.7,1774.0 684.3,1778.2 684.5,1766.2 685.3,1771.4 686.1,1746.0 686.9,1741.8 687.7,1733.6 688.5,1735.1 689.3,1715.2 690.1,1734.9 690.9,1731.5 691.7,1747.1 692.5,1745.4 692.9,1760.5 693.3,1755.5 694.1,1756.9 694.9,1777.9 695.7,1772.5 696.5,1782.4 697.3,1782.5 698.1,1785.6 698.6,1799.6 698.9,1787.2 699.7,1795.7 700.5,1785.2 701.3,1784.3 702.1,1794.0 702.9,1784.5 703.7,1789.3 704.5,1810.9 705.3,1826.1 705.7,1817.6 706.1,1835.6 706.9,1840.1 707.7,1867.7 708.5,1871.0 708.6,1885.8 709.3,1888.1 710.1,1918.8 710.9,1933.2 711.4,1933.9 711.7,1940.1 712.5,1966.5 713.3,1971.7 714.1,1993.8 714.3,2004.2 714.9,1994.5 715.7,1998.7 716.5,2019.3 717.3,2028.9 718.1,2022.6 718.6,2036.3 718.9,2028.7 719.7,2040.8 720.5,2034.0 721.3,2039.6 722.1,2048.1 722.9,2036.4 723.7,2055.2 724.5,2044.4 725.3,2056.8 725.7,2046.6 726.1,2059.8 726.9,2048.6 727.7,2060.0 728.5,2056.3 729.3,2063.4 730.1,2055.1 730.9,2067.3 731.7,2069.9 732.5,2058.3 732.9,2066.4 733.3,2054.9 734.1,2073.1 734.9,2071.1 735.7,2080.9 736.5,2060.0 737.3,2062.7 738.1,2073.5 738.9,2063.1 739.7,2069.2 740.5,2078.6 741.3,2074.5 742.1,2062.3 742.9,2073.6 743.7,2061.7 744.5,2065.8 745.3,2076.5 746.1,2075.6 746.9,2069.0 747.1,2066.7 747.7,2072.9 748.5,2064.4 749.3,2083.1 750.1,2078.3 750.9,2064.0 751.7,2065.3 752.5,2072.6 753.3,2067.8 754.1,2068.7 754.9,2073.3 755.7,2077.2 756.5,2067.7 757.3,2069.3 758.1,2079.2 758.9,2069.4 759.7,2085.6 760.5,2069.8 761.3,2083.3 761.4,2068.0 762.1,2079.9 762.9,2064.0 763.7,2066.1 764.5,2077.6 765.3,2066.0 766.1,2082.4 766.9,2065.4 767.7,2076.8 768.5,2067.0 769.3,2082.2 770.1,2067.9 770.9,2077.2 771.7,2065.8 772.5,2071.7 773.3,2076.1 774.1,2067.0 774.9,2077.3 775.7,2081.7 776.5,2065.2 777.3,2079.4 778.1,2064.6 778.9,2076.7 779.7,2065.9 780.5,2069.7 781.3,2082.7 782.1,2070.0 782.9,2081.2 783.7,2066.9 784.5,2079.3 785.3,2082.9 786.1,2066.1 786.9,2080.3 787.7,2070.0 788.5,2087.2 789.3,2070.0 790.1,2081.1 790.9,2068.8 791.7,2069.9 792.5,2084.7 792.9,2071.2 793.3,2084.5 794.1,2080.0 794.9,2083.4 795.7,2069.9 796.5,2070.6 797.3,2082.0 798.1,2068.9 798.9,2069.4 799.7,2082.0 800.5,2066.0 801.3,2068.9 802.1,2081.0 802.9,2067.6 803.7,2084.8 804.5,2067.2 805.3,2082.1 806.1,2075.0 806.9,2083.8 807.7,2082.5 808.5,2082.7 809.3,2070.1 810.1,2078.8 810.9,2066.1 811.1,2081.5 811.7,2063.1 812.5,2077.1 813.3,2066.8 814.1,2079.5 814.9,2068.6 815.7,2081.1 816.5,2064.3 817.3,2064.6 818.1,2079.3 818.9,2061.6 819.7,2073.6 820.5,2063.6 821.3,2078.9 822.1,2059.5 822.9,2070.2 823.7,2064.8 824.5,2076.6 825.3,2077.2 826.1,2060.2 826.9,2071.6 827.7,2063.0 828.5,2055.6 829.3,2064.3 830.1,2066.7 830.9,2056.5 831.7,2067.0 832.5,2056.9 833.3,2078.7 834.1,2059.0 834.9,2072.2 835.7,2058.5 836.5,2073.1 837.3,2069.7 838.1,2062.0 838.9,2076.6 839.7,2067.4 840.5,2074.5 841.3,2078.5 842.1,2066.7 842.9,2065.3 843.7,2085.1 844.5,2066.8 845.3,2078.1 846.1,2066.9 846.9,2084.0 847.7,2085.3 848.5,2067.5 849.3,2083.3 850.0,2072.9 850.1,2089.5 850.9,2077.8 851.7,2086.7 852.5,2077.4 853.3,2077.4 854.1,2089.4 854.9,2073.3 855.7,2090.0 856.5,2081.2 857.3,2091.9 858.1,2077.7 858.9,2090.4 859.7,2080.1 860.5,2093.9 861.3,2099.9 862.1,2082.2 862.9,2097.6 863.7,2080.3 864.5,2093.2 865.3,2093.8 866.1,2087.6 866.9,2100.6 867.7,2098.7 868.5,2084.1 869.3,2100.6 870.1,2087.9 870.9,2085.5 871.7,2104.5 872.5,2090.7 872.9,2102.1 873.3,2089.6 874.1,2104.7 874.9,2100.1 875.7,2103.5 876.5,2090.9 877.3,2100.5 878.1,2104.1 878.9,2091.8 879.7,2111.5 880.5,2093.7 881.3,2111.1 882.1,2092.9 882.9,2107.5 883.7,2092.4 884.5,2097.7 885.3,2106.0 886.1,2096.5 886.9,2111.3 887.7,2099.7 888.5,2110.0 889.3,2108.1 890.1,2096.8 890.9,2110.5 891.7,2096.2 892.5,2108.8 893.3,2112.9 894.1,2098.3 894.9,2110.5 895.7,2107.7 896.5,2100.4 897.3,2115.1 898.1,2099.6 898.9,2112.5 899.7,2101.7 900.5,2113.5 901.3,2110.9 902.1,2114.7 902.9,2099.0 903.7,2102.7 904.5,2118.9 905.3,2116.6 906.1,2115.6 906.9,2107.5 907.7,2115.6 908.5,2103.8 909.3,2116.9 910.1,2109.6 910.9,2122.1 911.7,2101.2 912.5,2120.3 913.3,2103.6 914.1,2104.6 914.9,2104.8 915.7,2117.7 916.5,2105.2 917.3,2111.4 918.1,2122.6 918.6,2105.8 918.9,2111.3 919.7,2104.8 920.5,2122.7 921.3,2114.2 922.1,2120.6 922.9,2112.3 923.7,2117.5 924.5,2113.0 925.3,2111.2 926.1,2120.2 926.9,2106.4 927.7,2111.1 928.5,2118.6 929.3,2114.4 930.1,2119.0 930.9,2108.5 931.7,2123.3 932.5,2108.1 933.3,2106.2 934.1,2122.2 934.9,2111.4 935.7,2111.4 936.5,2123.4 937.3,2109.4 938.1,2121.3 938.9,2110.2 939.7,2125.0 940.5,2110.4 941.3,2124.6 941.4,2111.4 942.1,2124.8 942.9,2110.6 943.7,2119.4 944.5,2127.4 945.3,2112.7 946.1,2128.1 946.9,2108.1 947.7,2126.4 948.5,2113.3 949.3,2117.9 950.1,2126.0 950.9,2128.2 951.7,2123.1 952.5,2120.3 953.3,2131.6 954.1,2117.0 954.9,2129.7 955.7,2122.3 956.5,2128.9 957.3,2131.3 958.1,2119.5 958.9,2118.4 959.7,2129.9 960.5,2119.4 961.3,2115.7 962.1,2125.9 962.9,2126.1 963.7,2119.3 964.3,2137.2 964.5,2118.9 965.3,2133.1 966.1,2124.6 966.9,2133.0 967.7,2131.4 968.5,2126.6 969.3,2131.5 970.1,2124.9 970.9,2125.8 971.7,2133.6 972.5,2123.8 973.3,2134.2 974.1,2122.2 974.9,2137.8 975.7,2139.6 976.5,2137.9 977.3,2132.9 978.1,2120.3 978.9,2137.1 979.7,2124.1 980.5,2138.9 981.3,2126.5 982.1,2138.4 982.9,2128.3 983.7,2139.0 984.5,2121.8 985.3,2138.0 986.1,2128.7 986.9,2121.6 987.1,2141.0 987.7,2126.8 988.5,2137.5 989.3,2125.6 990.1,2140.3 990.9,2127.2 991.7,2142.8 992.5,2125.1 993.3,2142.1 994.1,2129.5 994.9,2136.5 995.7,2126.3 996.5,2138.8 997.3,2125.2 998.1,2130.1 998.9,2139.6 999.7,2128.2 1000.5,2138.2 1001.3,2124.3 1002.1,2138.0 1002.9,2128.2 1003.7,2139.2 1004.5,2141.3 1005.3,2127.1 1006.1,2126.5 1006.9,2134.9 1007.7,2142.0 1008.5,2127.3 1009.3,2136.9 1010.0,2127.3 1010.1,2132.3 1010.9,2142.5 1011.7,2127.4 1012.5,2140.4 1013.3,2129.1 1014.1,2142.2 1014.9,2127.2 1015.7,2141.8 1016.5,2136.6 1017.3,2129.6 1018.1,2140.7 1018.9,2130.5 1019.7,2135.1 1020.5,2125.1 1021.3,2137.2 1022.1,2139.4 1022.9,2129.2 1023.7,2129.0 1024.5,2137.0 1025.3,2140.9 1026.1,2141.2 1026.9,2128.1 1027.7,2134.9 1028.5,2123.7 1029.3,2137.0 1030.1,2127.5 1030.9,2134.6 1031.7,2126.3 1032.5,2121.4 1032.9,2139.6 1033.3,2136.0 1034.1,2127.8 1034.9,2137.1 1035.7,2123.6 1036.5,2136.7 1037.3,2139.8 1038.1,2121.1 1038.9,2135.3 1039.7,2124.8 1040.5,2136.7 1041.3,2128.2 1042.1,2126.0 1042.9,2133.4 1043.7,2126.3 1044.5,2132.7 1045.3,2127.6 1046.1,2138.7 1046.9,2139.1 1047.7,2118.5 1048.5,2138.4 1049.3,2123.3 1050.1,2141.4 1050.9,2125.1 1051.7,2134.9 1052.5,2123.0 1053.3,2136.3 1054.1,2123.4 1054.9,2136.3 1055.7,2118.9 1056.5,2134.3 1057.3,2125.3 1058.1,2137.7 1058.9,2123.8 1059.7,2133.7 1060.5,2119.2 1061.3,2137.1 1062.1,2125.2 1062.9,2137.6 1063.7,2124.0 1064.5,2134.2 1065.3,2124.9 1066.1,2132.0 1066.9,2128.2 1067.7,2141.7 1068.5,2129.1 1069.3,2136.4 1070.1,2141.9 1070.9,2119.4 1071.7,2138.5 1072.5,2126.9 1073.3,2137.4 1074.1,2123.9 1074.9,2139.2 1075.7,2129.8 1076.5,2132.8 1077.3,2127.3 1078.1,2130.5 1078.6,2142.9 1078.9,2137.6 1079.7,2124.2 1080.5,2138.9 1081.3,2127.8 1082.1,2139.7 1082.9,2136.9 1083.7,2133.6 1084.5,2140.6 1085.3,2126.7 1086.1,2143.6 1086.9,2140.9 1087.7,2138.5 1088.5,2122.6 1089.3,2137.1 1090.1,2131.2 1090.9,2144.2 1091.7,2131.7 1092.5,2140.5 1093.3,2131.8 1094.1,2141.0 1094.9,2133.9 1095.7,2143.0 1096.5,2127.5 1097.3,2127.5 1098.1,2131.2 1098.9,2148.2 1099.7,2130.3 1100.5,2141.9 1101.3,2133.3 1101.4,2142.2 1102.1,2131.8 1102.9,2139.7 1103.7,2134.6 1104.5,2143.9 1105.3,2129.5 1106.1,2145.0 1106.9,2131.5 1107.7,2143.6 1108.5,2128.4 1109.3,2128.7 1110.1,2144.1 1110.9,2131.7 1111.7,2130.6 1112.5,2124.1 1113.3,2142.8 1114.1,2145.1 1114.9,2132.6 1115.7,2142.3 1116.5,2131.9 1117.3,2143.5 1118.1,2145.5 1118.9,2134.5 1119.7,2145.6 1120.5,2132.6 1121.3,2148.3 1122.1,2132.7 1122.9,2143.4 1123.7,2134.1 1124.3,2143.7 1124.5,2133.6 1125.3,2143.2 1126.1,2146.7 1126.9,2143.0 1127.7,2146.4 1128.5,2132.9 1129.3,2130.5 1130.1,2145.7 1130.9,2132.2 1131.7,2142.6 1132.5,2131.4 1133.3,2141.2 1134.1,2132.2 1134.9,2143.9 1135.7,2128.6 1136.5,2142.6 1137.3,2147.3 1138.1,2150.1 1138.9,2153.0 1139.7,2131.5 1140.5,2148.0 1141.3,2130.8 1142.1,2143.2 1142.9,2146.8 1143.7,2132.7 1144.5,2133.2 1145.3,2144.8 1146.1,2135.6 1146.9,2145.6 1147.1,2133.5 1147.7,2149.7 1148.5,2135.6 1149.3,2131.3 1150.1,2146.5 1150.9,2130.5 1151.7,2144.3 1152.5,2133.6 1153.3,2150.0 1154.1,2133.4 1154.9,2150.1 1155.7,2132.1 1156.5,2149.2 1157.3,2131.6 1158.1,2149.4 1158.9,2125.1 1159.7,2142.0 1160.5,2139.5 1161.3,2148.0 1162.1,2129.4 1162.9,2147.9 1163.7,2135.0 1164.5,2146.7 1165.3,2146.1 1166.1,2130.1 1166.9,2132.5 1167.7,2152.9 1168.5,2130.7 1169.3,2133.1 1170.0,2147.6 1170.1,2148.0 1170.9,2134.6 1171.7,2146.1 1172.5,2135.5 1173.3,2149.4 1174.1,2138.2 1174.9,2147.1 1175.7,2147.9 1176.5,2133.8 1177.3,2145.0 1178.1,2137.2 1178.9,2130.9 1179.7,2131.3 1180.5,2149.3 1181.3,2138.7 1182.1,2141.4 1182.9,2136.3 1183.7,2152.4 1184.5,2149.0 1185.3,2132.8 1186.1,2149.4 1186.9,2141.5 1187.7,2141.6 1188.5,2133.0 1189.3,2153.9 1190.0,2137.3 1190.1,2144.9 1190.9,2136.2 1191.7,2143.7 1192.5,2140.3 1193.3,2154.7 1194.1,2136.1 1194.9,2152.4 1195.7,2148.2 1196.5,2138.3 1197.3,2151.3 1198.1,2143.4 1198.9,2139.5 1199.7,2159.6 1200.5,2146.7 1201.3,2159.0 1202.1,2140.8 1202.9,2155.3 1203.7,2158.6 1204.5,2148.2 1205.3,2158.0 1205.5,2146.1 1206.1,2156.1 1206.9,2147.7 1207.7,2163.4 1208.5,2146.3 1209.3,2146.1 1210.1,2164.5 1210.9,2150.9 1211.7,2163.8 1212.5,2143.3 1213.3,2164.2 1214.1,2152.4 1214.9,2164.0 1215.7,2164.0 1216.5,2149.3 1217.3,2160.3 1218.1,2155.9 1218.9,2151.3 1219.7,2167.0 1220.5,2152.6 1221.3,2162.7 1222.1,2151.7 1222.9,2168.7 1223.7,2152.6 1224.5,2166.2 1225.3,2152.4 1226.1,2167.7 1226.9,2156.0 1227.7,2154.1 1228.2,2166.9 1228.5,2154.2 1229.3,2159.3 1230.1,2167.2 1230.9,2158.0 1231.7,2154.0 1232.5,2163.9 1233.3,2158.2 1234.1,2168.3 1234.9,2169.3 1235.7,2167.7 1236.5,2152.0 1237.3,2171.2 1238.1,2153.4 1238.9,2169.0 1239.7,2155.3 1240.5,2170.5 1241.3,2157.8 1242.1,2158.9 1242.9,2170.9 1243.7,2161.9 1244.5,2167.9 1245.3,2155.1 1246.1,2172.5 1246.9,2153.7 1247.7,2169.4 1248.5,2158.6 1249.3,2154.0 1250.1,2168.8 1250.9,2156.9 1251.0,2172.9 1251.7,2155.6 1252.5,2169.2 1253.3,2157.9 1254.1,2154.1 1254.9,2175.2 1255.7,2157.6 1256.5,2170.3 1257.3,2160.2 1258.1,2169.2 1258.9,2160.8 1259.7,2163.0 1260.5,2170.2 1261.3,2159.1 1262.1,2175.8 1262.9,2162.2 1263.7,2175.4 1264.5,2160.0 1265.3,2173.0 1266.1,2160.4 1266.9,2158.8 1267.7,2175.2 1268.5,2161.1 1269.3,2174.8 1270.1,2163.8 1270.9,2171.4 1271.7,2162.4 1272.5,2175.1 1273.3,2177.4 1273.7,2167.5 1274.1,2171.0 1274.9,2159.6 1275.7,2177.0 1276.5,2158.0 1277.3,2176.0 1278.1,2160.7 1278.9,2180.6 1279.7,2158.0 1280.5,2176.4 1281.3,2167.1 1282.1,2174.9 1282.9,2162.6 1283.7,2182.1 1284.5,2165.2 1285.3,2174.5 1286.1,2165.8 1286.9,2174.8 1287.7,2177.6 1288.5,2163.1 1289.3,2178.1 1290.1,2162.8 1290.9,2175.9 1291.7,2167.2 1292.5,2173.1 1293.3,2172.2 1294.1,2166.2 1294.9,2172.8 1295.7,2170.9 1296.4,2178.8 1296.5,2175.2 1297.3,2173.3 1298.1,2165.1 1298.9,2180.0 1299.7,2162.1 1300.5,2178.6 1301.3,2178.5 1302.1,2167.9 1302.9,2164.6 1303.7,2179.3 1304.5,2163.8 1305.3,2181.0 1306.1,2167.1 1306.9,2177.3 1307.7,2176.2 1308.5,2166.3 1309.3,2182.6 1310.1,2170.6 1310.9,2175.8 1311.7,2163.7 1312.5,2178.6 1313.3,2164.8 1314.1,2165.0 1314.9,2179.6 1315.7,2178.2 1316.5,2179.1 1317.3,2166.2 1318.1,2164.1 1318.9,2179.6 1319.2,2173.2 1319.7,2171.4 1320.5,2179.7 1321.3,2164.2 1322.1,2176.1 1322.9,2164.5 1323.7,2169.6 1324.5,2167.7 1325.3,2179.2 1326.1,2167.9 1326.9,2179.3 1327.7,2165.4 1328.5,2176.8 1329.3,2184.8 1330.1,2168.6 1330.9,2178.7 1331.7,2169.8 1332.5,2177.5 1333.3,2168.7 1334.1,2180.6 1334.9,2163.6 1335.7,2176.2 1336.5,2168.4 1337.3,2178.3 1338.1,2183.1 1338.9,2161.8 1339.7,2164.8 1340.5,2180.9 1341.3,2173.3 1341.9,2181.3 1342.1,2167.7 1342.9,2179.8 1343.7,2180.1 1344.5,2169.1 1345.3,2184.7 1346.1,2175.5 1346.9,2169.3 1347.7,2168.2 1348.5,2180.9 1349.3,2168.4 1350.1,2169.3 1350.9,2183.2 1351.7,2182.9 1352.5,2171.8 1353.3,2178.7 1354.1,2180.5 1354.9,2185.7 1355.7,2170.7 1356.5,2174.7 1357.3,2169.4 1358.1,2183.1 1358.9,2167.8 1359.7,2182.5 1360.5,2166.7 1361.3,2165.7 1362.1,2176.7 1362.9,2165.5 1363.7,2167.7 1364.5,2181.3 1364.7,2168.6 1365.3,2180.8 1366.1,2167.0 1366.9,2177.5 1367.7,2168.2 1368.5,2183.5 1369.3,2169.9 1370.1,2182.3 1370.9,2168.5 1371.7,2171.1 1372.5,2183.0 1373.3,2171.0 1374.1,2180.0 1374.9,2169.6 1375.7,2186.8 1376.5,2168.9 1377.3,2182.5 1378.1,2171.4 1378.9,2181.5 1379.7,2172.3 1380.5,2181.5 1381.3,2179.8 1382.1,2170.6 1382.9,2183.3 1383.7,2170.7 1384.5,2184.4 1385.3,2172.3 1386.1,2184.5 1386.9,2185.1 1387.4,2172.3 1387.7,2185.2 1388.5,2171.9 1389.3,2190.0 1390.1,2171.4 1390.9,2171.0 1391.7,2170.8 1392.5,2176.7 1393.3,2186.1 1394.1,2181.7 1394.9,2183.2 1395.7,2186.0 1396.5,2177.5 1397.3,2170.6 1398.1,2183.5 1398.9,2174.9 1399.7,2175.6 1400.5,2181.8 1401.3,2171.0 1402.1,2186.9 1402.9,2175.3 1403.7,2186.4 1404.5,2177.1 1405.3,2174.3 1406.1,2186.8 1406.9,2186.8 1407.7,2174.9 1408.5,2171.6 1409.3,2189.9 1410.1,2185.1 1410.9,2183.5 1411.7,2175.3 1412.5,2186.6 1413.3,2177.7 1414.1,2183.1 1414.9,2173.1 1415.7,2179.9 1416.5,2190.0 1417.3,2187.9 1418.1,2171.9 1418.9,2185.3 1419.7,2171.4 1420.5,2185.1 1421.3,2176.9 1422.1,2187.8 1422.9,2177.4 1423.7,2183.4 1424.5,2188.8 1425.3,2179.2 1426.1,2187.3 1426.9,2171.0 1427.7,2182.0 1428.5,2188.6 1429.3,2174.0 1430.1,2184.7 1430.9,2176.9 1431.7,2177.8 1432.5,2185.6 1432.9,2175.6 1433.3,2185.2 1434.1,2174.5 1434.9,2175.4 1435.7,2190.2 1436.5,2186.5 1437.3,2178.1 1438.1,2188.3 1438.9,2177.7 1439.7,2189.2 1440.5,2177.7 1441.3,2187.0 1442.1,2179.0 1442.9,2180.1 1443.7,2187.3 1444.5,2175.5 1445.3,2189.9 1446.1,2177.5 1446.9,2190.1 1447.7,2189.2 1448.5,2175.5 1449.3,2178.6 1450.1,2191.1 1450.9,2188.1 1451.7,2186.3 1452.5,2177.9 1453.3,2187.9 1454.1,2180.5 1454.9,2186.4 1455.6,2179.0 1455.7,2177.4 1456.5,2191.2 1457.3,2181.6 1458.1,2179.7 1458.9,2187.5 1459.7,2178.0 1460.5,2190.9 1461.3,2175.7 1462.1,2192.6 1462.9,2177.7 1463.7,2189.5 1464.5,2179.3 1465.3,2191.8 1466.1,2179.1 1466.9,2187.7 1467.7,2191.5 1468.5,2179.8 1469.3,2187.2 1470.1,2176.5 1470.9,2195.7 1471.7,2176.1 1472.5,2191.0 1473.3,2188.9 1474.1,2180.7 1474.9,2192.2 1475.7,2177.7 1476.5,2194.2 1477.3,2189.1 1478.1,2192.1 1478.4,2181.0 1478.9,2191.7 1479.7,2178.0 1480.5,2193.2 1481.3,2176.0 1482.1,2191.3 1482.9,2186.5 1483.7,2193.3 1484.5,2191.6 1485.3,2180.3 1486.1,2190.7 1486.9,2177.4 1487.7,2190.3 1488.5,2187.8 1489.3,2179.7 1490.1,2196.2 1490.9,2183.4 1491.7,2191.2 1492.5,2193.1 1493.3,2193.6 1494.1,2196.7 1494.9,2181.7 1495.7,2192.9 1496.5,2180.5 1497.3,2196.6 1498.1,2191.4 1498.9,2181.3 1499.7,2193.9 1500.5,2179.4 1501.1,2183.0 1501.3,2189.6 1502.1,2183.5 1502.9,2197.8 1503.7,2179.9 1504.5,2181.4 1505.3,2191.4 1506.1,2185.1 1506.9,2192.1 1507.7,2176.5 1508.5,2190.0 1509.3,2192.3 1510.1,2182.6 1510.9,2192.6 1511.7,2188.5 1512.5,2181.8 1513.3,2192.2 1514.1,2181.2 1514.9,2189.8 1515.7,2183.7 1516.5,2192.7 1517.3,2181.9 1518.1,2193.8 1518.9,2182.1 1519.7,2192.0 1520.5,2186.1 1521.3,2191.3 1522.1,2182.8 1522.9,2195.7 1523.7,2185.2 1523.8,2194.9 1524.5,2192.1 1525.3,2185.8 1526.1,2193.3 1526.9,2182.5 1527.7,2196.2 1528.5,2192.0 1529.3,2185.1 1530.1,2183.5 1530.9,2194.2 1531.7,2184.9 1532.5,2195.5 1533.3,2195.5 1534.1,2184.8 1534.9,2177.1 1535.7,2196.1 1536.5,2182.8 1537.3,2196.6 1538.1,2185.3 1538.9,2184.6 1539.7,2192.9 1540.5,2184.2 1541.3,2193.0 1542.1,2186.4 1542.9,2193.4 1543.7,2194.8 1544.5,2184.2 1545.3,2196.4 1546.1,2183.5 1546.9,2197.1 1547.7,2185.1 1548.5,2195.8 1549.3,2197.7 1550.1,2185.4 1550.9,2196.1 1551.7,2182.7 1552.5,2197.0 1553.3,2185.0 1554.1,2185.4 1554.9,2193.3 1555.7,2181.0 1556.5,2197.3 1557.3,2184.3 1558.0,2194.8 1558.1,2182.7 1558.9,2194.8 1559.7,2189.0 1560.5,2192.0 1561.3,2180.7 1562.1,2195.7 1562.9,2185.0 1563.7,2197.6 1564.5,2187.7 1565.3,2195.6 1566.1,2185.1 1566.9,2187.3 1567.7,2195.5 1568.5,2187.3 1569.3,2185.2 1570.1,2196.5 1570.9,2186.4 1571.7,2185.9 1572.5,2192.4 1573.3,2185.7 1574.1,2198.9 1574.9,2186.7 1575.7,2196.4 1576.5,2199.2 1577.3,2186.5 1578.1,2195.2 1578.9,2195.7 1579.7,2182.2 1580.5,2197.4 1581.3,2188.1 1582.1,2198.4 1582.9,2186.4 1583.7,2197.1 1584.5,2182.8 1585.3,2195.1 1586.1,2189.1 1586.9,2197.6 1587.7,2183.2 1588.5,2196.3 1589.3,2187.3 1590.1,2186.2 1590.9,2197.6 1591.7,2184.5 1592.5,2197.3 1593.3,2184.8 1594.1,2194.8 1594.9,2201.1 1595.7,2185.8 1596.5,2202.5 1597.3,2185.7 1598.1,2193.2 1598.9,2184.4 1599.7,2197.5 1600.5,2188.4 1601.3,2189.2 1602.1,2187.9 1602.9,2187.0 1603.7,2197.4 1604.5,2187.6 1605.3,2192.7 1606.1,2184.7 1606.9,2186.4 1607.7,2196.7 1608.5,2198.5 1609.3,2189.9 1610.1,2197.1 1610.9,2186.1 1611.7,2198.0 1612.5,2186.9 1613.3,2198.2 1614.1,2186.0 1614.9,2201.3 1615.7,2192.5 1616.5,2196.2 1617.3,2185.7 1618.1,2194.8 1618.9,2186.6 1619.7,2198.6 1620.5,2189.4 1621.3,2198.2 1622.1,2188.3 1622.9,2201.5 1623.7,2189.5 1624.5,2196.6 1625.3,2189.7 1626.1,2199.1 1626.9,2188.9 1627.7,2196.1 1628.5,2198.2 1629.3,2191.1 1630.1,2199.0 1630.9,2190.0 1631.7,2196.8 1632.5,2187.6 1633.3,2197.9 1634.1,2188.8 1634.9,2194.7 1635.7,2191.5 1636.5,2195.0 1637.3,2198.4 1638.1,2188.2 1638.9,2200.8 1639.7,2185.6 1640.5,2200.9 1641.3,2189.6 1642.1,2196.2 1642.9,2191.4 1643.2,2202.0 1643.7,2186.6 1644.5,2198.0 1645.3,2200.5 1646.1,2185.5 1646.9,2198.3 1647.7,2198.2 1648.5,2190.2 1649.3,2199.4 1650.1,2200.5 1650.9,2191.0 1651.7,2201.2 1652.5,2188.3 1653.3,2203.7 1654.1,2193.4 1654.9,2186.4 1655.7,2189.0 1656.5,2189.6 1657.3,2199.1 1658.1,2188.7 1658.9,2191.9 1659.7,2192.3 1660.5,2199.0 1661.3,2185.3 1662.1,2186.3 1662.9,2184.8 1663.7,2200.5 1664.5,2188.5 1665.3,2197.7 1666.1,2192.8 1666.9,2200.8 1667.7,2188.5 1668.5,2198.8 1669.3,2190.1 1670.1,2197.4 1670.9,2193.6 1671.7,2193.7 1672.5,2204.1 1673.3,2192.4 1674.1,2189.4 1674.9,2198.3 1675.7,2199.3 1676.5,2199.5 1677.3,2188.3 1678.1,2201.9 1678.9,2190.9 1679.7,2198.2 1680.5,2189.3 1681.3,2200.6 1682.1,2203.0 1682.9,2189.4 1683.7,2196.5 1684.5,2190.6 1685.3,2199.4 1686.1,2191.4 1686.9,2200.1 1687.7,2192.6 1688.5,2203.8 1689.3,2192.7 1690.1,2198.2 1690.9,2186.4 1691.7,2199.7 1692.5,2193.4 1693.3,2197.0 1694.1,2201.9 1694.9,2199.4 1695.7,2189.2 1696.5,2201.4 1697.3,2193.1 1698.1,2202.5 1698.9,2193.4 1699.7,2198.6 1700.5,2201.1 1701.3,2191.9 1702.1,2203.7 1702.9,2189.4 1703.7,2202.9 1704.5,2193.1 1705.3,2200.5 1706.1,2187.3 1706.9,2200.9 1707.7,2194.6 1708.5,2197.5 1709.3,2194.3 1710.1,2191.4 1710.9,2202.3 1711.7,2191.6 1712.5,2205.6 1713.3,2190.3 1714.1,2199.8 1714.9,2195.7 1715.7,2192.5 1716.5,2201.4 1717.3,2192.1 1718.1,2203.3 1718.9,2192.7 1719.7,2201.5 1720.5,2189.0 1721.3,2200.9 1722.1,2192.3 1722.9,2201.5 1723.7,2192.8 1724.5,2204.4 1725.3,2187.6 1726.1,2203.4 1726.9,2195.9 1727.7,2201.8 1728.5,2189.6 1729.3,2201.5 1730.1,2204.0 1730.9,2193.0 1731.7,2201.4 1732.5,2199.0 1733.3,2191.8 1734.1,2193.6 1734.9,2201.5 1735.7,2197.1 1736.5,2204.0 1737.3,2200.7 1738.1,2191.4 1738.9,2203.2 1739.7,2197.5 1740.5,2201.6 1741.3,2190.4 1742.1,2208.2 1742.9,2193.0 1743.7,2202.8 1744.5,2193.5 1745.3,2207.3 1746.1,2194.3 1746.9,2203.2 1747.7,2192.5 1748.5,2202.3 1749.3,2191.3 1750.1,2202.6 1750.9,2193.0 1751.7,2206.2 1752.5,2190.4 1753.3,2203.3 1754.1,2194.7 1754.9,2201.7 1755.7,2194.2 1756.5,2203.2 1757.3,2194.2 1758.1,2203.5 1758.9,2191.7 1759.7,2203.1 1760.5,2193.1 1761.3,2201.9 1762.1,2194.4 1762.9,2202.0 1763.7,2189.7 1764.5,2202.0 1765.3,2197.1 1766.1,2195.6 1766.9,2204.8 1767.7,2193.4 1768.5,2202.6 1769.3,2204.3 1770.1,2196.9 1770.9,2194.2 1771.7,2190.4 1772.5,2206.5 1773.3,2194.5 1774.1,2205.2 1774.9,2194.0 1775.7,2205.8 1776.5,2198.8 1777.3,2204.3 1778.1,2194.1 1778.9,2203.7 1779.7,2197.8 1780.5,2202.5 1781.3,2195.5 1782.1,2195.4 1782.9,2209.4 1783.7,2202.2 1784.5,2193.6 1785.3,2205.2 1786.1,2203.8 1786.9,2195.5 1787.7,2193.5 1788.5,2203.1 1789.3,2194.3 1790.1,2193.0 1790.9,2202.8 1791.7,2189.3 1792.5,2195.3 1793.3,2196.5 1794.1,2200.8 1794.9,2194.5 1795.7,2204.6 1796.5,2194.1 1797.3,2204.2 1798.1,2193.0 1798.9,2205.9 1799.7,2197.8 1800.5,2204.9 1801.3,2195.9 1802.1,2206.8 1802.9,2197.1 1803.7,2187.7 1804.5,2205.3 1805.3,2194.0 1806.1,2204.6 1806.9,2194.9 1807.7,2206.1 1808.5,2207.4 1809.3,2197.0 1810.1,2204.4 1810.9,2192.4 1811.7,2206.4 1812.5,2195.4 1813.3,2202.2 1814.1,2198.5 1814.9,2204.9 1815.7,2197.7 1816.5,2193.2 1817.3,2205.3 1818.1,2196.9 1818.9,2201.7 1819.7,2193.6 1820.5,2206.6 1821.3,2194.2 1822.1,2202.2 1822.9,2206.0 1823.7,2204.7 1824.5,2206.8 1825.3,2197.1 1826.1,2204.5 1826.9,2197.4 1827.7,2211.2 1828.5,2195.5 1829.3,2206.4 1829.7,2195.3 1830.1,2201.6 1830.9,2190.3 1831.7,2195.2 1832.5,2207.5 1833.3,2193.5 1834.1,2206.5 1834.9,2196.5 1835.7,2205.6 1836.5,2192.9 1837.3,2206.6 1838.1,2194.0 1838.9,2206.6 1839.7,2208.0 1840.5,2196.0 1841.3,2201.4 1842.1,2195.4 1842.9,2204.3 1843.7,2209.2 1844.5,2193.8 1845.3,2206.1 1846.1,2192.7 1846.9,2193.6 1847.7,2205.8 1848.5,2197.2 1849.3,2204.9 1850.1,2195.1 1850.9,2206.9 1851.7,2198.7 1852.5,2208.3 1853.3,2196.6 1854.1,2205.4 1854.9,2201.1 1855.7,2197.7 1856.5,2203.5 1857.3,2193.4 1858.1,2206.9 1858.9,2197.1 1859.7,2205.7 1860.5,2192.6 1861.3,2195.7 1862.1,2207.7 1862.9,2196.5 1863.7,2202.5 1864.5,2195.9 1865.3,2208.1 1866.1,2200.9 1866.9,2208.8 1867.7,2196.7 1868.5,2206.4 1869.3,2206.6 1870.1,2204.6 1870.9,2198.8 1871.7,2207.9 1872.5,2196.5 1873.3,2207.7 1874.1,2205.3 1874.9,2205.4 1875.7,2199.3 1876.5,2206.2 1877.3,2203.6 1878.1,2195.9 1878.9,2207.4 1879.7,2206.2 1880.5,2201.0 1881.3,2208.6 1882.1,2205.1 1882.9,2195.2 1883.7,2206.7 1884.5,2196.1 1885.3,2207.0 1886.1,2195.1 1886.9,2206.7 1887.7,2197.4 1888.5,2203.8 1889.3,2199.8 1890.1,2198.4 1890.9,2208.0 1891.7,2198.0 1892.5,2197.7 1893.3,2209.7 1894.1,2197.6 1894.9,2202.7 1895.7,2198.5 1896.5,2211.2 1897.3,2203.7 1898.1,2198.0 1898.9,2199.2 1899.7,2206.7 1900.5,2196.6 1901.3,2207.7 1902.1,2195.2 1902.9,2208.1 1903.7,2193.7 1904.5,2205.5 1905.3,2206.7 1906.1,2209.4 1906.9,2200.2 1907.7,2204.9 1908.5,2199.6 1909.3,2207.4 1910.1,2207.5 1910.9,2200.6 1911.7,2207.2 1912.5,2195.7 1913.3,2194.5 1914.1,2198.1 1914.9,2196.5 1915.7,2205.8 1916.5,2197.8 1917.3,2194.7 1918.1,2204.8 1918.9,2197.6 1919.7,2205.2 1920.5,2198.8 1921.3,2194.8 1922.1,2197.2 1922.9,2205.9 1923.0,2198.0 1923.7,2206.4 1924.5,2205.1 1925.3,2198.7 1926.1,2198.3 1926.9,2209.7 1927.7,2196.0 1928.5,2207.8 1929.3,2200.1 1930.1,2198.8 1930.9,2208.3 1931.7,2204.7 1932.5,2199.4 1933.3,2207.5 1934.1,2195.9 1934.9,2209.0 1935.7,2201.8 1936.5,2204.9 1937.3,2198.3 1938.1,2207.7 1938.9,2197.0 1939.7,2209.0 1940.5,2196.2 1941.3,2197.6 1942.1,2212.3 1942.9,2196.1 1943.7,2210.0 1944.5,2193.8 1945.3,2196.9 1946.1,2209.3 1946.9,2197.3 1947.7,2207.1 1948.5,2197.8 1949.3,2198.9 1950.1,2211.6 1950.9,2209.5 1951.7,2201.7 1952.5,2208.6 1953.3,2208.4 1954.1,2197.6 1954.9,2207.9" stroke="#0468BE" stroke-width="8.5" fill="none" stroke-linejoin="round" stroke-linecap="round"/>
<polyline points="317.3,2159.9 318.1,2164.5 318.9,2158.6 319.7,2159.0 320.5,2165.8 321.3,2163.2 322.1,2158.0 322.9,2165.7 323.7,2163.9 324.5,2163.5 325.3,2159.2 326.1,2165.7 326.9,2155.3 327.7,2165.0 328.5,2157.6 329.3,2164.6 330.1,2155.5 330.9,2164.3 331.7,2157.2 332.5,2164.7 333.3,2163.8 334.1,2160.3 334.9,2163.5 335.7,2157.1 336.5,2159.2 337.3,2165.5 338.1,2156.7 338.9,2164.4 339.7,2157.3 340.5,2157.1 341.3,2162.6 342.1,2157.7 342.9,2162.8 343.7,2156.9 344.5,2165.3 345.3,2159.7 346.1,2162.1 346.9,2154.7 347.7,2169.4 348.5,2158.6 349.3,2162.8 350.1,2156.0 350.9,2155.9 351.7,2161.1 352.5,2157.6 353.3,2156.5 354.1,2156.8 354.9,2162.1 355.7,2152.8 356.5,2160.2 357.3,2156.1 358.0,2165.4 358.1,2156.5 358.9,2163.4 359.7,2156.4 360.5,2162.5 361.3,2154.8 362.1,2155.1 362.9,2164.5 363.7,2160.5 364.5,2153.6 365.3,2159.9 366.1,2151.7 366.9,2161.8 367.7,2157.7 368.5,2162.1 369.3,2155.9 370.1,2160.5 370.9,2153.0 371.7,2156.1 372.5,2161.3 373.3,2155.3 374.1,2160.9 374.9,2151.7 375.7,2161.2 376.5,2154.3 377.3,2152.7 378.1,2160.3 378.9,2154.4 379.7,2159.2 380.5,2154.2 381.3,2152.4 382.1,2155.4 382.9,2151.9 383.7,2161.5 384.5,2152.2 385.3,2158.4 386.1,2152.7 386.9,2158.1 387.7,2151.2 388.5,2157.8 389.3,2154.0 390.1,2160.7 390.9,2151.9 391.7,2156.4 392.5,2157.4 393.3,2153.0 394.1,2160.0 394.9,2159.6 395.7,2150.8 396.5,2157.8 397.3,2152.9 398.1,2152.4 398.9,2158.8 399.7,2150.4 400.5,2157.5 401.3,2150.6 402.1,2148.9 402.9,2157.2 403.7,2148.5 404.5,2154.6 405.3,2152.0 406.1,2155.2 406.9,2147.9 407.7,2158.1 408.5,2151.5 409.3,2154.1 410.1,2149.0 410.9,2156.4 411.7,2147.1 412.5,2155.1 413.3,2146.0 414.1,2153.2 414.9,2147.7 415.7,2154.9 416.5,2145.5 417.3,2153.0 418.1,2147.2 418.9,2156.4 419.7,2146.5 420.5,2152.7 421.3,2146.6 422.1,2153.6 422.9,2144.5 423.7,2153.2 424.5,2156.6 425.3,2145.5 426.1,2143.6 426.9,2150.5 427.7,2146.5 428.5,2152.7 429.3,2144.6 430.1,2150.3 430.9,2140.8 431.7,2150.5 432.5,2149.8 433.3,2140.8 434.1,2142.7 434.9,2151.1 435.7,2142.6 436.5,2141.9 437.3,2147.2 438.1,2144.5 438.9,2143.7 439.7,2150.8 439.9,2140.3 440.5,2149.2 441.3,2148.3 442.1,2142.3 442.9,2149.1 443.7,2140.3 444.5,2150.7 445.3,2143.8 446.1,2140.0 446.9,2148.6 447.7,2149.0 448.5,2140.9 449.3,2134.6 450.1,2145.6 450.9,2140.1 451.7,2151.3 452.5,2138.2 453.3,2147.2 454.1,2143.4 454.9,2139.9 455.7,2143.6 456.5,2146.3 457.3,2137.8 458.1,2145.3 458.9,2144.4 459.7,2140.2 460.5,2136.9 461.3,2146.6 462.1,2139.6 462.9,2143.5 463.7,2137.2 464.5,2142.4 465.3,2134.6 466.1,2144.9 466.9,2137.1 467.7,2141.4 468.5,2135.6 469.3,2135.6 470.1,2142.7 470.9,2135.6 471.7,2140.1 472.5,2136.0 473.3,2141.3 474.1,2143.0 474.9,2134.8 475.7,2141.8 476.5,2133.4 477.3,2139.2 478.1,2134.0 478.9,2139.4 479.7,2131.5 480.5,2141.9 481.3,2133.4 482.1,2139.9 482.9,2139.8 483.7,2132.5 484.5,2132.7 485.3,2138.6 485.7,2130.0 486.1,2129.4 486.9,2129.2 487.7,2138.9 488.5,2135.9 489.3,2131.8 490.1,2135.8 490.9,2135.0 491.7,2129.9 492.5,2139.2 493.3,2129.1 494.1,2133.8 494.9,2127.7 495.7,2134.1 496.5,2134.8 497.3,2132.7 498.1,2124.8 498.9,2123.9 499.7,2130.3 500.5,2125.8 501.3,2130.9 502.1,2129.1 502.9,2122.8 503.7,2131.8 504.5,2128.6 505.3,2122.5 506.1,2130.1 506.9,2122.6 507.7,2127.8 508.5,2123.1 508.6,2126.6 509.3,2128.6 510.1,2119.7 510.9,2117.8 511.7,2125.6 512.5,2118.6 513.3,2119.3 514.1,2124.3 514.9,2115.1 515.7,2123.2 516.5,2125.5 517.3,2118.0 518.1,2121.6 518.9,2122.4 519.7,2115.5 520.5,2113.6 521.3,2119.9 522.1,2113.1 522.9,2119.3 523.7,2118.7 524.5,2117.6 525.3,2111.5 526.1,2115.4 526.9,2111.0 527.7,2120.8 528.5,2111.4 529.3,2114.7 530.1,2110.8 530.9,2115.8 531.4,2106.7 531.7,2111.1 532.5,2113.8 533.3,2106.7 534.1,2116.6 534.9,2107.3 535.7,2105.3 536.5,2113.7 537.3,2102.8 538.1,2109.1 538.9,2109.6 539.7,2101.1 540.5,2105.1 541.3,2101.4 542.1,2109.1 542.9,2106.8 543.7,2100.3 544.5,2109.7 545.3,2106.4 546.1,2093.2 546.9,2102.8 547.7,2096.8 548.5,2102.8 549.3,2095.1 550.1,2099.9 550.9,2093.1 551.7,2098.0 552.5,2089.7 553.3,2097.7 554.1,2092.9 554.3,2095.8 554.9,2087.6 555.7,2095.5 556.5,2092.2 557.3,2088.2 558.1,2091.6 558.9,2085.4 559.7,2090.4 560.5,2084.4 561.3,2090.3 562.1,2091.0 562.9,2078.8 563.7,2083.9 564.5,2076.9 565.3,2085.6 566.1,2083.5 566.9,2075.3 567.7,2082.4 568.5,2075.3 569.3,2080.2 570.1,2070.1 570.9,2080.7 571.7,2075.9 572.5,2072.4 573.3,2078.4 574.1,2076.4 574.9,2075.2 575.7,2064.3 576.5,2067.6 577.1,2065.2 577.3,2065.6 578.1,2063.5 578.9,2071.1 579.7,2069.7 580.5,2060.0 581.3,2062.1 582.1,2069.0 582.9,2057.8 583.7,2063.3 584.5,2057.8 585.3,2063.5 586.1,2053.3 586.9,2053.5 587.7,2053.5 588.5,2059.4 589.3,2050.7 590.1,2048.1 590.9,2055.6 591.7,2046.0 592.5,2056.5 593.3,2053.6 594.1,2042.3 594.9,2050.2 595.7,2041.4 596.5,2046.7 597.3,2038.8 598.1,2042.6 598.9,2037.7 599.7,2046.1 600.0,2041.6 600.5,2041.2 601.3,2031.3 602.1,2032.6 602.9,2036.0 603.7,2037.8 604.5,2034.8 605.3,2028.2 606.1,2036.2 606.9,2033.7 607.7,2022.5 608.5,2028.8 609.3,2019.2 610.1,2026.8 610.9,2019.9 611.4,2025.3 611.7,2013.8 612.5,2018.8 613.3,2010.0 614.1,2006.8 614.9,2010.9 615.7,2001.7 616.5,2000.1 617.3,2005.6 618.1,1992.8 618.9,1997.3 619.7,1986.7 620.5,1989.1 621.3,1991.5 622.1,1981.7 622.2,1987.2 622.9,1986.8 623.7,1975.7 624.5,1986.1 625.3,1976.8 626.1,1980.6 626.9,1968.9 627.7,1982.7 628.5,1982.6 629.3,1968.4 630.1,1978.3 630.7,1967.6 630.9,1977.8 631.7,1973.6 632.5,1965.2 633.3,1971.5 634.1,1955.8 634.9,1965.0 635.7,1954.5 636.5,1957.4 637.3,1949.6 638.1,1958.8 638.9,1951.4 639.7,1941.6 640.4,1946.8 640.5,1939.4 641.3,1948.4 642.1,1946.4 642.9,1948.9 643.7,1963.7 644.5,1959.0 645.3,1972.2 646.1,1970.2 646.9,1981.5 647.7,1975.7 648.5,1984.0 649.3,1996.0 650.1,1985.9 650.9,2002.1 651.7,2006.8 652.2,1999.3 652.5,2009.8 653.3,1996.1 654.1,1999.8 654.9,1992.3 655.7,1993.6 656.5,1986.4 657.3,1995.7 658.1,1983.3 658.9,1988.8 659.7,1981.8 660.5,1983.1 661.3,1974.8 662.1,1980.8 662.9,1968.6 663.7,1964.5 664.5,1972.1 665.3,1960.5 666.1,1969.9 666.9,1964.3 667.7,1960.5 668.5,1957.9 669.3,1945.9 670.1,1952.4 670.9,1939.8 671.7,1947.0 672.5,1935.3 673.3,1944.1 674.1,1930.2 674.9,1927.4 675.7,1936.1 676.5,1923.2 677.3,1925.3 678.1,1911.5 678.9,1922.5 679.7,1904.0 680.5,1908.7 681.3,1899.5 682.1,1902.0 682.9,1899.7 683.7,1895.0 684.3,1884.2 684.5,1894.8 685.3,1878.5 686.1,1878.6 686.9,1878.1 687.7,1861.4 688.5,1868.1 689.3,1848.3 689.7,1859.3 690.1,1852.2 690.9,1861.5 691.7,1880.1 692.5,1872.9 693.3,1890.4 694.1,1886.9 694.9,1892.0 695.0,1902.6 695.7,1898.0 696.5,1912.6 697.3,1917.8 698.1,1911.1 698.9,1927.5 699.7,1921.5 700.5,1937.6 701.3,1934.8 702.1,1948.2 702.9,1942.7 703.6,1956.5 703.7,1943.6 704.5,1959.7 705.3,1960.9 706.1,1980.1 706.9,1974.6 707.7,1990.8 708.5,1989.4 709.3,2009.0 710.0,2000.9 710.1,2013.1 710.9,2019.8 711.7,2013.3 712.5,2022.2 713.3,2022.3 714.1,2011.7 714.9,2027.1 715.7,2023.7 716.5,2035.5 717.3,2038.7 718.1,2041.3 718.6,2031.1 718.9,2027.8 719.7,2047.3 720.5,2033.3 721.3,2043.8 722.1,2030.0 722.9,2042.7 723.7,2035.5 724.5,2042.2 725.3,2029.9 726.1,2045.6 726.9,2037.4 727.7,2036.4 728.5,2043.8 729.3,2034.1 730.1,2046.3 730.9,2034.8 731.7,2045.4 732.5,2039.8 733.3,2051.8 734.1,2034.6 734.9,2043.4 735.7,2041.1 736.5,2037.5 737.3,2049.3 738.1,2037.5 738.9,2049.5 739.7,2049.5 740.1,2052.2 740.5,2040.3 741.3,2052.2 742.1,2049.4 742.9,2037.8 743.7,2050.0 744.5,2036.4 745.3,2053.4 746.1,2039.4 746.9,2036.6 747.7,2038.3 748.5,2050.8 749.3,2033.2 750.1,2047.8 750.9,2036.5 751.7,2048.0 752.5,2035.5 753.3,2044.7 754.1,2034.3 754.9,2054.0 755.7,2035.6 756.5,2043.6 757.3,2035.1 758.1,2048.9 758.9,2035.3 759.7,2049.4 760.5,2035.4 761.3,2053.2 762.1,2031.9 762.9,2043.0 763.7,2045.3 764.5,2039.4 765.3,2040.0 766.1,2049.5 766.9,2046.7 767.7,2033.0 768.5,2030.5 769.3,2041.1 770.0,2046.6 770.1,2031.2 770.9,2045.2 771.7,2034.4 772.5,2034.5 773.3,2043.1 774.1,2036.0 774.9,2049.4 775.7,2033.4 776.5,2045.7 777.3,2034.4 778.1,2047.4 778.9,2039.9 779.7,2050.7 780.5,2032.4 781.3,2037.9 782.1,2049.0 782.9,2037.7 783.7,2048.6 784.5,2030.4 785.3,2049.3 786.1,2036.9 786.9,2046.3 787.7,2041.8 788.5,2049.8 789.3,2051.1 790.1,2033.9 790.9,2050.6 791.7,2042.6 792.5,2034.5 792.7,2051.0 793.3,2037.1 794.1,2051.3 794.9,2034.0 795.7,2050.6 796.5,2034.6 797.3,2045.7 798.1,2034.8 798.9,2047.9 799.7,2036.3 800.5,2045.6 801.3,2040.8 802.1,2051.0 802.9,2032.6 803.7,2046.3 804.5,2035.5 805.3,2047.7 806.1,2033.3 806.9,2045.3 807.7,2032.2 808.5,2049.4 809.3,2033.9 810.1,2035.5 810.9,2045.0 811.7,2034.1 812.5,2032.2 813.3,2046.8 814.1,2036.3 814.9,2044.4 815.5,2026.2 815.7,2044.6 816.5,2034.5 817.3,2037.4 818.1,2041.9 818.9,2030.6 819.7,2035.9 820.5,2025.0 821.3,2043.1 822.1,2027.4 822.9,2038.5 823.7,2034.2 824.5,2020.8 825.3,2029.9 826.1,2018.4 826.9,2030.5 827.7,2021.6 828.5,2030.5 829.3,2016.5 830.1,2018.9 830.9,2020.7 831.4,2032.1 831.7,2014.5 832.5,2029.8 833.3,2020.6 834.1,2019.4 834.9,2028.9 835.7,2021.8 836.5,2031.3 837.3,2024.2 838.1,2038.1 838.9,2021.7 839.7,2033.2 840.5,2024.3 841.3,2037.1 842.1,2031.7 842.9,2029.2 843.7,2042.1 844.5,2029.6 845.3,2040.9 846.1,2032.1 846.9,2043.2 847.7,2043.9 848.5,2029.7 849.3,2047.5 849.6,2035.8 850.1,2042.9 850.9,2049.2 851.7,2036.0 852.5,2046.2 853.3,2045.3 854.1,2035.1 854.9,2043.7 855.7,2035.6 856.5,2035.7 857.3,2049.0 858.1,2039.3 858.9,2047.3 859.7,2033.8 860.5,2049.4 861.3,2036.1 862.1,2055.7 862.9,2039.2 863.7,2056.0 864.5,2036.0 865.3,2053.4 866.1,2042.3 866.9,2052.4 867.7,2051.4 868.5,2042.4 869.3,2055.3 870.1,2043.6 870.9,2056.0 871.7,2054.5 872.3,2057.9 872.5,2041.6 873.3,2052.8 874.1,2044.4 874.9,2044.9 875.7,2046.2 876.5,2055.8 877.3,2046.1 878.1,2045.9 878.9,2058.3 879.7,2048.4 880.5,2063.6 881.3,2044.1 882.1,2059.3 882.9,2042.8 883.7,2062.6 884.5,2059.7 885.3,2053.1 886.1,2058.1 886.9,2050.8 887.7,2058.9 888.5,2050.7 889.3,2061.7 890.1,2048.7 890.9,2063.7 891.7,2048.6 892.5,2048.7 893.3,2048.7 894.1,2059.8 894.9,2049.2 895.1,2044.6 895.7,2064.3 896.5,2053.2 897.3,2065.3 898.1,2050.9 898.9,2055.2 899.7,2066.1 900.5,2052.6 901.3,2050.9 902.1,2060.6 902.9,2053.4 903.7,2055.9 904.5,2061.1 905.3,2055.5 906.1,2064.4 906.9,2055.0 907.7,2061.4 908.5,2056.1 909.3,2067.0 910.1,2054.6 910.9,2070.4 911.7,2052.5 912.5,2066.1 913.3,2054.9 914.1,2066.8 914.9,2056.9 915.7,2070.5 916.5,2056.0 917.3,2052.5 917.8,2064.9 918.1,2068.2 918.9,2056.0 919.7,2071.6 920.5,2053.0 921.3,2068.9 922.1,2070.6 922.9,2057.0 923.7,2065.9 924.5,2054.9 925.3,2064.0 926.1,2057.1 926.9,2075.1 927.7,2054.8 928.5,2056.1 929.3,2071.5 930.1,2056.0 930.9,2071.6 931.7,2071.5 932.5,2056.7 933.3,2069.5 934.1,2075.9 934.9,2062.3 935.7,2068.6 936.5,2059.3 937.3,2072.5 938.1,2053.4 938.9,2073.2 939.7,2060.4 940.5,2067.7 940.6,2059.5 941.3,2075.0 942.1,2060.7 942.9,2075.2 943.7,2060.4 944.5,2074.7 945.3,2061.4 946.1,2074.0 946.9,2073.3 947.7,2076.6 948.5,2061.3 949.3,2073.7 950.1,2058.1 950.9,2079.1 951.7,2061.4 952.5,2076.9 953.3,2064.7 954.1,2080.1 954.9,2068.1 955.7,2067.4 956.5,2066.7 957.3,2082.2 958.1,2066.5 958.9,2078.3 959.7,2067.2 960.5,2077.3 961.3,2071.2 962.1,2083.2 962.9,2066.0 963.3,2079.9 963.7,2081.0 964.5,2074.4 965.3,2084.6 966.1,2074.1 966.9,2081.7 967.7,2067.1 968.5,2079.1 969.3,2080.7 970.1,2067.2 970.9,2082.4 971.7,2070.1 972.5,2080.0 973.3,2068.6 974.1,2085.6 974.9,2071.8 975.7,2085.2 976.5,2076.6 977.3,2076.0 978.1,2065.6 978.9,2068.4 979.7,2085.6 980.5,2084.3 981.3,2087.5 982.1,2073.1 982.9,2085.9 983.7,2071.4 984.5,2083.3 985.3,2076.2 986.0,2074.6 986.1,2088.9 986.9,2085.7 987.7,2072.9 988.5,2074.8 989.3,2079.4 990.1,2087.3 990.9,2070.2 991.7,2072.8 992.5,2088.0 993.3,2070.8 994.1,2072.9 994.9,2076.7 995.7,2087.5 996.5,2071.9 997.3,2085.4 998.1,2074.9 998.9,2084.5 999.7,2070.6 1000.5,2086.5 1001.3,2075.0 1002.1,2087.8 1002.9,2070.7 1003.7,2083.5 1004.5,2070.5 1005.3,2081.9 1006.1,2074.7 1006.9,2071.9 1007.7,2087.8 1008.5,2079.0 1008.8,2074.4 1009.3,2081.1 1010.1,2065.3 1010.9,2083.1 1011.7,2071.0 1012.5,2086.0 1013.3,2069.4 1014.1,2069.5 1014.9,2084.9 1015.7,2074.1 1016.5,2067.3 1017.3,2083.9 1018.1,2068.0 1018.9,2084.8 1019.7,2065.0 1020.5,2077.7 1021.3,2071.1 1022.1,2080.3 1022.9,2069.6 1023.7,2075.6 1024.5,2071.6 1025.3,2083.5 1026.1,2082.4 1026.9,2076.0 1027.7,2072.3 1028.5,2069.0 1029.3,2068.3 1030.1,2081.4 1030.9,2067.1 1031.5,2077.4 1031.7,2078.7 1032.5,2070.7 1033.3,2081.4 1034.1,2065.4 1034.9,2064.5 1035.7,2064.1 1036.5,2083.8 1037.3,2071.3 1038.1,2079.7 1038.9,2076.5 1039.7,2066.4 1040.5,2066.4 1041.3,2076.3 1042.1,2066.8 1042.9,2079.5 1043.7,2067.9 1044.5,2083.6 1045.3,2063.9 1046.1,2075.5 1046.9,2060.1 1047.7,2075.6 1048.5,2078.0 1049.3,2076.0 1050.1,2062.6 1050.9,2064.1 1051.7,2065.0 1052.5,2076.5 1053.3,2065.9 1054.1,2072.0 1054.3,2069.0 1054.9,2076.3 1055.7,2064.3 1056.5,2077.4 1057.3,2067.3 1058.1,2080.6 1058.9,2063.5 1059.7,2075.7 1060.5,2068.4 1061.3,2077.9 1062.1,2062.8 1062.9,2064.4 1063.7,2078.8 1064.5,2070.9 1065.3,2078.1 1066.1,2065.6 1066.9,2078.4 1067.7,2063.8 1068.5,2077.5 1069.3,2061.2 1070.1,2066.9 1070.9,2080.6 1071.7,2061.9 1072.5,2073.2 1073.3,2064.1 1074.1,2076.6 1074.9,2065.2 1075.7,2081.6 1076.5,2079.1 1077.0,2064.6 1077.3,2067.0 1078.1,2078.3 1078.9,2067.4 1079.7,2081.8 1080.5,2072.9 1081.3,2080.8 1082.1,2064.4 1082.9,2074.3 1083.7,2060.4 1084.5,2073.7 1085.3,2068.0 1086.1,2080.7 1086.9,2082.6 1087.7,2067.9 1088.5,2081.3 1089.3,2078.9 1090.1,2071.9 1090.9,2079.4 1091.7,2072.9 1092.5,2083.0 1093.3,2081.0 1094.1,2071.2 1094.9,2082.7 1095.7,2065.9 1096.5,2083.4 1097.3,2080.4 1098.1,2069.0 1098.9,2083.0 1099.7,2071.1 1100.5,2078.4 1101.3,2066.6 1102.1,2085.3 1102.9,2068.6 1103.7,2079.5 1104.5,2069.6 1105.3,2068.9 1106.1,2080.7 1106.9,2067.5 1107.7,2085.1 1108.5,2064.4 1109.3,2085.5 1110.1,2067.7 1110.9,2069.5 1111.7,2081.6 1112.5,2071.7 1113.3,2080.9 1114.1,2073.1 1114.9,2084.2 1115.7,2071.7 1116.5,2082.7 1117.3,2070.7 1118.1,2081.0 1118.9,2072.0 1119.7,2083.4 1120.5,2071.8 1121.3,2071.7 1122.1,2069.8 1122.5,2088.2 1122.9,2067.3 1123.7,2091.4 1124.5,2072.4 1125.3,2085.9 1126.1,2068.5 1126.9,2079.6 1127.7,2074.3 1128.5,2083.0 1129.3,2073.1 1130.1,2082.2 1130.9,2071.9 1131.7,2073.5 1132.5,2080.5 1133.3,2071.5 1134.1,2083.9 1134.9,2073.3 1135.7,2084.0 1136.5,2068.2 1137.3,2080.8 1138.1,2071.4 1138.9,2082.1 1139.7,2069.6 1140.5,2086.5 1141.3,2070.7 1142.1,2084.2 1142.9,2072.3 1143.7,2066.6 1144.5,2077.7 1145.2,2084.1 1145.3,2076.0 1146.1,2085.5 1146.9,2071.9 1147.7,2084.2 1148.5,2072.2 1149.3,2087.0 1150.1,2067.8 1150.9,2084.0 1151.7,2075.6 1152.5,2081.3 1153.3,2071.7 1154.1,2082.8 1154.9,2070.8 1155.7,2092.8 1156.5,2087.9 1157.3,2069.1 1158.1,2086.7 1158.9,2074.1 1159.7,2085.8 1160.5,2073.0 1161.3,2084.9 1162.1,2085.9 1162.9,2084.9 1163.7,2088.3 1164.5,2072.8 1165.3,2087.9 1166.1,2082.6 1166.9,2081.3 1167.7,2075.7 1168.0,2088.3 1168.5,2075.8 1169.3,2084.4 1170.1,2086.0 1170.9,2072.8 1171.7,2084.2 1172.5,2088.6 1173.3,2071.5 1174.1,2073.0 1174.9,2089.6 1175.7,2075.3 1176.5,2073.3 1177.3,2076.5 1178.1,2090.9 1178.9,2078.9 1179.7,2091.7 1180.5,2078.5 1181.3,2085.5 1182.1,2077.4 1182.9,2089.1 1183.7,2074.5 1184.5,2086.2 1185.0,2075.7 1185.3,2088.3 1186.1,2076.2 1186.9,2087.8 1187.7,2072.4 1188.5,2077.4 1189.3,2078.3 1190.1,2081.0 1190.9,2092.7 1191.7,2081.0 1192.5,2090.1 1193.3,2079.8 1194.1,2091.7 1194.9,2081.4 1195.7,2093.2 1196.5,2086.1 1197.3,2096.4 1198.1,2083.9 1198.9,2099.8 1199.7,2083.7 1200.5,2095.7 1201.3,2085.6 1202.1,2087.5 1202.9,2102.1 1203.7,2086.5 1204.5,2092.5 1205.3,2103.5 1205.5,2088.6 1206.1,2103.5 1206.9,2089.0 1207.7,2088.2 1208.5,2105.9 1209.3,2090.9 1210.1,2108.0 1210.9,2087.9 1211.7,2097.1 1212.5,2106.8 1213.3,2088.9 1214.1,2099.6 1214.9,2107.5 1215.7,2097.5 1216.5,2107.1 1217.3,2094.6 1218.1,2090.6 1218.9,2106.1 1219.7,2091.6 1220.5,2095.4 1221.3,2107.2 1222.1,2096.0 1222.9,2094.0 1223.7,2106.8 1224.5,2093.9 1225.3,2105.8 1226.1,2099.1 1226.9,2108.5 1227.7,2095.1 1228.2,2111.8 1228.5,2093.2 1229.3,2110.5 1230.1,2098.3 1230.9,2108.6 1231.7,2097.6 1232.5,2096.9 1233.3,2098.2 1234.1,2108.4 1234.9,2103.6 1235.7,2115.0 1236.5,2112.5 1237.3,2101.2 1238.1,2108.8 1238.9,2114.7 1239.7,2102.6 1240.5,2112.4 1241.3,2112.0 1242.1,2098.1 1242.9,2111.4 1243.7,2102.3 1244.5,2117.7 1245.3,2098.8 1246.1,2116.6 1246.9,2098.0 1247.7,2100.6 1248.5,2094.3 1249.3,2111.0 1250.1,2114.3 1250.9,2100.4 1251.0,2111.8 1251.7,2098.7 1252.5,2111.6 1253.3,2102.9 1254.1,2111.0 1254.9,2103.6 1255.7,2111.4 1256.5,2102.0 1257.3,2103.5 1258.1,2115.0 1258.9,2103.7 1259.7,2114.5 1260.5,2101.9 1261.3,2107.0 1262.1,2114.3 1262.9,2104.2 1263.7,2113.3 1264.5,2102.5 1265.3,2112.5 1266.1,2118.8 1266.9,2120.3 1267.7,2105.5 1268.5,2112.5 1269.3,2108.5 1270.1,2101.5 1270.9,2117.7 1271.7,2105.1 1272.5,2104.0 1273.3,2121.1 1273.7,2102.6 1274.1,2117.5 1274.9,2106.2 1275.7,2117.6 1276.5,2103.2 1277.3,2120.3 1278.1,2105.5 1278.9,2117.8 1279.7,2103.6 1280.5,2124.1 1281.3,2104.7 1282.1,2119.1 1282.9,2117.5 1283.7,2106.9 1284.5,2117.5 1285.3,2106.4 1286.1,2118.7 1286.9,2104.9 1287.7,2122.3 1288.5,2107.0 1289.3,2120.3 1290.1,2107.2 1290.9,2115.8 1291.7,2106.7 1292.5,2122.8 1293.3,2123.1 1294.1,2106.9 1294.9,2122.0 1295.7,2110.9 1296.4,2118.5 1296.5,2123.7 1297.3,2111.4 1298.1,2117.4 1298.9,2111.0 1299.7,2122.4 1300.5,2103.3 1301.3,2121.7 1302.1,2108.0 1302.9,2120.9 1303.7,2108.6 1304.5,2115.5 1305.3,2109.8 1306.1,2108.3 1306.9,2119.4 1307.7,2107.2 1308.5,2105.8 1309.3,2108.4 1310.1,2119.8 1310.9,2105.2 1311.7,2120.9 1312.5,2107.2 1313.3,2121.5 1314.1,2120.9 1314.9,2117.2 1315.7,2119.5 1316.5,2103.5 1317.3,2121.7 1318.1,2115.2 1318.9,2112.0 1319.2,2115.4 1319.7,2122.6 1320.5,2107.5 1321.3,2118.3 1322.1,2103.9 1322.9,2105.5 1323.7,2115.8 1324.5,2113.8 1325.3,2124.3 1326.1,2119.6 1326.9,2107.1 1327.7,2115.7 1328.5,2120.6 1329.3,2104.7 1330.1,2117.4 1330.9,2111.6 1331.7,2118.6 1332.5,2108.4 1333.3,2116.4 1334.1,2124.9 1334.9,2124.0 1335.7,2113.9 1336.5,2124.5 1337.3,2118.2 1338.1,2111.3 1338.9,2125.3 1339.7,2109.3 1340.5,2123.6 1341.3,2109.7 1341.9,2106.1 1342.1,2121.8 1342.9,2104.5 1343.7,2126.0 1344.5,2110.0 1345.3,2122.2 1346.1,2109.8 1346.9,2119.1 1347.7,2123.5 1348.5,2108.6 1349.3,2122.5 1350.1,2110.4 1350.9,2120.2 1351.7,2104.6 1352.5,2123.6 1353.3,2107.6 1354.1,2123.5 1354.9,2119.9 1355.7,2113.0 1356.5,2113.6 1357.3,2122.0 1358.1,2125.3 1358.9,2111.1 1359.7,2122.4 1360.5,2113.6 1361.3,2115.6 1362.1,2124.1 1362.9,2107.5 1363.7,2123.6 1364.5,2108.1 1364.7,2123.1 1365.3,2111.6 1366.1,2125.8 1366.9,2111.5 1367.7,2118.2 1368.5,2112.2 1369.3,2127.5 1370.1,2121.8 1370.9,2114.3 1371.7,2125.0 1372.5,2123.6 1373.3,2113.3 1374.1,2125.3 1374.9,2108.9 1375.7,2119.9 1376.5,2113.1 1377.3,2122.4 1378.1,2114.2 1378.9,2122.1 1379.7,2105.5 1380.5,2123.9 1381.3,2108.2 1382.1,2129.5 1382.9,2106.7 1383.7,2125.8 1384.5,2109.8 1385.3,2119.1 1386.1,2113.6 1386.9,2124.4 1387.4,2111.4 1387.7,2109.7 1388.5,2128.1 1389.3,2109.4 1390.1,2111.4 1390.9,2126.2 1391.7,2121.3 1392.5,2115.2 1393.3,2123.4 1394.1,2117.6 1394.9,2125.0 1395.7,2114.9 1396.5,2123.1 1397.3,2111.1 1398.1,2128.2 1398.9,2116.1 1399.7,2121.1 1400.5,2114.8 1401.3,2114.6 1402.1,2125.8 1402.9,2125.7 1403.7,2117.6 1404.5,2128.6 1405.3,2126.3 1406.1,2115.4 1406.9,2128.8 1407.7,2122.0 1408.5,2118.7 1409.3,2126.9 1410.1,2114.1 1410.9,2125.7 1411.7,2113.8 1412.5,2119.2 1413.3,2127.2 1414.1,2115.2 1414.9,2124.2 1415.7,2114.6 1416.5,2117.0 1417.3,2128.7 1418.1,2118.2 1418.9,2126.9 1419.7,2114.4 1420.5,2126.4 1421.3,2118.9 1422.1,2126.6 1422.9,2117.0 1423.7,2126.6 1424.5,2115.9 1425.3,2130.9 1426.1,2125.1 1426.9,2118.0 1427.7,2119.6 1428.5,2125.7 1429.3,2117.4 1430.1,2119.0 1430.9,2128.8 1431.7,2115.5 1432.5,2128.8 1432.9,2127.9 1433.3,2128.1 1434.1,2121.5 1434.9,2128.9 1435.7,2118.7 1436.5,2131.7 1437.3,2131.5 1438.1,2116.8 1438.9,2128.3 1439.7,2119.5 1440.5,2129.9 1441.3,2119.0 1442.1,2126.0 1442.9,2114.0 1443.7,2114.6 1444.5,2119.6 1445.3,2130.9 1446.1,2119.5 1446.9,2129.6 1447.7,2131.4 1448.5,2115.6 1449.3,2130.9 1450.1,2122.6 1450.9,2132.2 1451.7,2119.5 1452.5,2133.5 1453.3,2117.7 1454.1,2128.3 1454.9,2121.9 1455.6,2132.3 1455.7,2123.8 1456.5,2118.0 1457.3,2127.8 1458.1,2119.6 1458.9,2132.8 1459.7,2119.7 1460.5,2127.1 1461.3,2128.5 1462.1,2121.6 1462.9,2132.2 1463.7,2121.5 1464.5,2132.2 1465.3,2122.9 1466.1,2131.0 1466.9,2117.1 1467.7,2127.3 1468.5,2121.1 1469.3,2129.8 1470.1,2119.7 1470.9,2131.2 1471.7,2117.8 1472.5,2126.1 1473.3,2129.3 1474.1,2119.9 1474.9,2131.6 1475.7,2120.2 1476.5,2131.8 1477.3,2124.2 1478.1,2122.5 1478.4,2132.8 1478.9,2121.7 1479.7,2121.0 1480.5,2118.2 1481.3,2132.6 1482.1,2119.0 1482.9,2132.5 1483.7,2124.1 1484.5,2136.2 1485.3,2125.2 1486.1,2131.8 1486.9,2127.1 1487.7,2133.0 1488.5,2120.8 1489.3,2121.8 1490.1,2127.5 1490.9,2136.7 1491.7,2133.8 1492.5,2121.1 1493.3,2134.2 1494.1,2132.7 1494.9,2122.4 1495.7,2132.8 1496.5,2133.9 1497.3,2137.0 1498.1,2126.6 1498.9,2138.6 1499.7,2124.2 1500.5,2135.5 1501.1,2125.4 1501.3,2127.7 1502.1,2133.7 1502.9,2136.0 1503.7,2128.3 1504.5,2126.3 1505.3,2132.4 1506.1,2123.9 1506.9,2119.3 1507.7,2134.7 1508.5,2123.2 1509.3,2136.8 1510.1,2122.9 1510.9,2132.4 1511.7,2133.8 1512.5,2123.6 1513.3,2134.6 1514.1,2125.8 1514.9,2133.0 1515.7,2121.2 1516.5,2134.3 1517.3,2127.5 1518.1,2136.5 1518.9,2126.9 1519.7,2136.6 1520.5,2127.9 1521.3,2134.0 1522.1,2123.0 1522.9,2136.8 1523.7,2124.9 1523.8,2137.2 1524.5,2126.9 1525.3,2134.5 1526.1,2133.1 1526.9,2139.0 1527.7,2123.3 1528.5,2136.8 1529.3,2124.6 1530.1,2125.5 1530.9,2133.9 1531.7,2130.0 1532.5,2137.2 1533.3,2128.8 1534.1,2133.7 1534.9,2136.4 1535.7,2125.9 1536.5,2134.9 1537.3,2126.2 1538.1,2139.9 1538.9,2124.5 1539.7,2141.3 1540.5,2124.7 1541.3,2138.9 1542.1,2130.4 1542.9,2136.6 1543.7,2126.7 1544.5,2137.5 1545.3,2124.8 1546.1,2129.5 1546.9,2142.4 1547.7,2126.7 1548.5,2139.5 1549.3,2130.4 1550.1,2136.2 1550.9,2126.4 1551.7,2135.1 1552.5,2128.6 1553.3,2137.9 1554.1,2126.9 1554.9,2136.5 1555.7,2126.5 1556.5,2137.9 1557.3,2127.4 1558.0,2137.1 1558.1,2128.3 1558.9,2138.9 1559.7,2129.3 1560.5,2142.2 1561.3,2127.1 1562.1,2125.8 1562.9,2132.1 1563.7,2137.3 1564.5,2127.0 1565.3,2136.4 1566.1,2129.8 1566.9,2136.0 1567.7,2137.1 1568.5,2140.6 1569.3,2124.2 1570.1,2139.4 1570.9,2137.0 1571.7,2126.5 1572.5,2134.9 1573.3,2128.1 1574.1,2135.4 1574.9,2127.7 1575.7,2137.5 1576.5,2139.3 1577.3,2126.7 1578.1,2133.0 1578.9,2129.8 1579.7,2128.1 1580.5,2139.1 1581.3,2128.9 1582.1,2125.5 1582.9,2136.6 1583.7,2127.0 1584.5,2126.1 1585.3,2130.6 1586.1,2127.7 1586.9,2128.8 1587.7,2130.2 1588.5,2134.6 1589.3,2136.2 1590.1,2127.9 1590.9,2126.3 1591.7,2138.8 1592.5,2141.6 1593.3,2136.2 1594.1,2131.4 1594.9,2138.5 1595.7,2129.7 1596.5,2143.8 1597.3,2127.1 1598.1,2138.0 1598.9,2139.7 1599.7,2126.6 1600.5,2138.2 1601.3,2127.3 1602.1,2140.1 1602.9,2129.1 1603.7,2126.1 1604.5,2127.5 1605.3,2141.0 1606.1,2141.2 1606.9,2136.2 1607.7,2139.1 1608.5,2138.4 1609.3,2128.3 1610.1,2138.7 1610.9,2138.2 1611.7,2128.6 1612.5,2138.8 1613.3,2128.1 1614.1,2140.6 1614.9,2126.3 1615.7,2140.5 1616.5,2125.6 1617.3,2139.0 1618.1,2127.9 1618.9,2131.1 1619.7,2139.1 1620.5,2129.3 1621.3,2134.7 1622.1,2137.2 1622.9,2130.6 1623.7,2139.2 1624.5,2126.1 1625.3,2139.4 1626.1,2130.1 1626.9,2137.3 1627.7,2130.3 1628.5,2131.3 1629.3,2140.8 1630.1,2135.3 1630.9,2125.0 1631.7,2137.1 1632.5,2132.2 1633.3,2141.0 1634.1,2127.3 1634.9,2142.1 1635.7,2126.7 1636.5,2137.2 1637.3,2131.4 1638.1,2142.1 1638.9,2137.8 1639.7,2128.6 1640.5,2138.5 1641.3,2130.2 1642.1,2138.5 1642.9,2125.8 1643.2,2141.1 1643.7,2126.7 1644.5,2141.8 1645.3,2129.5 1646.1,2130.6 1646.9,2128.7 1647.7,2138.6 1648.5,2140.1 1649.3,2132.2 1650.1,2126.4 1650.9,2130.5 1651.7,2131.7 1652.5,2139.9 1653.3,2130.7 1654.1,2139.1 1654.9,2132.0 1655.7,2138.8 1656.5,2131.6 1657.3,2126.3 1658.1,2139.6 1658.9,2132.3 1659.7,2138.9 1660.5,2129.0 1661.3,2139.7 1662.1,2133.8 1662.9,2136.5 1663.7,2141.5 1664.5,2128.2 1665.3,2127.3 1666.1,2141.5 1666.9,2142.3 1667.7,2132.4 1668.5,2138.9 1669.3,2129.2 1670.1,2141.6 1670.9,2142.6 1671.7,2130.0 1672.5,2132.9 1673.3,2141.2 1674.1,2130.4 1674.9,2140.8 1675.7,2130.5 1676.5,2145.0 1677.3,2129.6 1678.1,2130.4 1678.9,2137.5 1679.7,2141.2 1680.5,2128.1 1681.3,2140.6 1682.1,2128.0 1682.9,2141.1 1683.7,2138.9 1684.5,2141.6 1685.3,2130.1 1686.1,2140.3 1686.9,2128.0 1687.7,2141.6 1688.5,2131.4 1689.3,2137.9 1690.1,2132.6 1690.9,2141.1 1691.7,2128.8 1692.5,2136.7 1693.3,2132.4 1694.1,2142.0 1694.9,2131.2 1695.7,2134.9 1696.5,2141.8 1697.3,2139.4 1698.1,2131.5 1698.9,2142.5 1699.7,2134.5 1700.5,2137.6 1701.3,2128.9 1702.1,2139.7 1702.9,2132.7 1703.7,2139.6 1704.5,2131.7 1705.3,2140.2 1706.1,2132.1 1706.9,2144.3 1707.7,2128.6 1708.5,2145.2 1709.3,2143.1 1710.1,2140.0 1710.9,2128.4 1711.7,2141.7 1712.5,2130.2 1713.3,2142.1 1714.1,2132.7 1714.9,2134.5 1715.7,2139.4 1716.5,2130.2 1717.3,2148.3 1718.1,2132.6 1718.9,2142.0 1719.7,2128.8 1720.5,2132.0 1721.3,2145.0 1722.1,2142.0 1722.9,2130.4 1723.7,2143.2 1724.5,2131.9 1725.3,2132.1 1726.1,2139.1 1726.9,2136.7 1727.7,2145.5 1728.5,2142.8 1729.3,2131.3 1730.1,2145.8 1730.9,2128.7 1731.7,2144.2 1732.5,2129.6 1733.3,2128.1 1734.1,2142.2 1734.9,2134.5 1735.7,2130.3 1736.5,2140.9 1737.3,2135.1 1738.1,2147.3 1738.9,2137.0 1739.7,2141.4 1740.5,2134.4 1741.3,2146.4 1742.1,2136.0 1742.9,2142.4 1743.7,2133.0 1744.5,2140.5 1745.3,2133.0 1746.1,2144.0 1746.9,2131.8 1747.7,2143.2 1748.5,2147.2 1749.3,2135.9 1750.1,2146.8 1750.9,2140.8 1751.7,2132.8 1752.5,2142.2 1753.3,2134.6 1754.1,2134.3 1754.9,2139.2 1755.7,2131.9 1756.5,2143.1 1757.3,2142.4 1758.1,2130.1 1758.9,2135.7 1759.7,2135.5 1760.5,2142.7 1761.3,2131.3 1762.1,2144.6 1762.9,2143.3 1763.7,2137.5 1764.5,2142.7 1765.3,2134.3 1766.1,2144.4 1766.9,2135.0 1767.7,2141.7 1768.5,2134.6 1769.3,2147.0 1770.1,2133.5 1770.9,2147.1 1771.7,2135.1 1772.5,2145.1 1773.3,2145.7 1774.1,2137.1 1774.9,2130.6 1775.7,2148.1 1776.5,2130.1 1777.3,2145.6 1778.1,2134.5 1778.9,2144.9 1779.7,2143.8 1780.5,2137.3 1781.3,2143.9 1782.1,2131.4 1782.9,2146.7 1783.7,2140.4 1784.5,2134.3 1785.3,2143.0 1786.1,2143.6 1786.9,2143.1 1787.7,2143.7 1788.5,2130.7 1789.3,2143.9 1790.1,2134.7 1790.9,2144.8 1791.7,2134.2 1792.5,2143.8 1793.3,2139.3 1794.1,2144.7 1794.9,2134.3 1795.7,2145.7 1796.5,2134.1 1797.3,2134.5 1798.1,2146.5 1798.9,2137.4 1799.7,2141.1 1800.5,2150.0 1801.3,2135.6 1802.1,2144.5 1802.9,2138.3 1803.7,2146.7 1804.5,2144.7 1805.3,2135.6 1806.1,2147.3 1806.9,2136.3 1807.7,2144.5 1808.5,2137.0 1809.3,2148.3 1810.1,2136.3 1810.9,2145.9 1811.7,2136.7 1812.5,2142.1 1813.3,2146.1 1814.1,2135.1 1814.9,2145.3 1815.7,2136.5 1816.5,2138.5 1817.3,2145.1 1818.1,2136.3 1818.9,2148.5 1819.7,2133.5 1820.5,2148.4 1821.3,2138.5 1822.1,2143.4 1822.9,2150.4 1823.7,2135.4 1824.5,2145.8 1825.3,2136.8 1826.1,2148.1 1826.9,2145.8 1827.7,2140.0 1828.5,2144.9 1829.3,2128.4 1829.7,2137.3 1830.1,2135.3 1830.9,2147.7 1831.7,2136.9 1832.5,2134.4 1833.3,2148.4 1834.1,2135.0 1834.9,2149.9 1835.7,2136.5 1836.5,2147.2 1837.3,2146.0 1838.1,2138.8 1838.9,2144.6 1839.7,2138.7 1840.5,2150.5 1841.3,2148.4 1842.1,2135.7 1842.9,2144.1 1843.7,2146.2 1844.5,2136.7 1845.3,2135.9 1846.1,2146.1 1846.9,2145.4 1847.7,2140.4 1848.5,2137.8 1849.3,2147.9 1850.1,2148.9 1850.9,2137.9 1851.7,2147.1 1852.5,2137.9 1853.3,2147.7 1854.1,2137.0 1854.9,2147.0 1855.7,2140.5 1856.5,2135.6 1857.3,2145.7 1858.1,2136.7 1858.9,2146.5 1859.7,2141.0 1860.5,2148.4 1861.3,2135.9 1862.1,2150.0 1862.9,2136.7 1863.7,2143.0 1864.5,2137.8 1865.3,2148.0 1866.1,2134.7 1866.9,2146.7 1867.7,2138.8 1868.5,2144.1 1869.3,2141.9 1870.1,2138.6 1870.9,2136.5 1871.7,2146.3 1872.5,2136.4 1873.3,2148.5 1874.1,2145.7 1874.9,2138.5 1875.7,2148.6 1876.5,2136.6 1877.3,2148.2 1878.1,2148.3 1878.9,2140.8 1879.7,2150.7 1880.5,2146.7 1881.3,2135.9 1882.1,2150.5 1882.9,2139.0 1883.7,2144.8 1884.5,2135.7 1885.3,2148.2 1886.1,2130.8 1886.9,2144.5 1887.7,2146.5 1888.5,2139.2 1889.3,2149.7 1890.1,2137.4 1890.9,2139.1 1891.7,2147.6 1892.5,2149.6 1893.3,2138.3 1894.1,2151.4 1894.9,2138.2 1895.7,2151.7 1896.5,2138.9 1897.3,2144.1 1898.1,2138.7 1898.9,2136.7 1899.7,2145.2 1900.5,2139.9 1901.3,2148.7 1902.1,2151.7 1902.9,2134.8 1903.7,2147.4 1904.5,2140.6 1905.3,2146.7 1906.1,2139.1 1906.9,2139.9 1907.7,2146.6 1908.5,2152.0 1909.3,2148.5 1910.1,2142.0 1910.9,2148.0 1911.7,2136.9 1912.5,2149.1 1913.3,2137.1 1914.1,2153.4 1914.9,2137.9 1915.7,2149.2 1916.5,2137.6 1917.3,2146.1 1918.1,2149.1 1918.9,2136.7 1919.7,2148.0 1920.5,2151.1 1921.3,2151.8 1922.1,2146.6 1922.9,2139.6 1923.0,2144.9 1923.7,2142.6 1924.5,2150.0 1925.3,2142.8 1926.1,2139.0 1926.9,2136.2 1927.7,2148.8 1928.5,2144.9 1929.3,2138.3 1930.1,2149.4 1930.9,2137.6 1931.7,2149.7 1932.5,2143.1 1933.3,2148.2 1934.1,2149.4 1934.9,2137.6 1935.7,2147.9 1936.5,2150.8 1937.3,2138.8 1938.1,2148.6 1938.9,2142.0 1939.7,2147.7 1940.5,2141.2 1941.3,2146.5 1942.1,2137.0 1942.9,2140.7 1943.7,2142.2 1944.5,2136.7 1945.3,2151.0 1946.1,2150.2 1946.9,2142.3 1947.7,2149.5 1948.5,2143.0 1949.3,2148.6 1950.1,2140.8 1950.9,2149.7 1951.7,2149.5 1952.5,2140.5 1953.3,2148.5 1954.1,2142.8 1954.9,2150.3" stroke="#F8C7A5" stroke-width="8.5" fill="none" stroke-linejoin="round" stroke-linecap="round"/>
<polyline points="317.3,2104.5 318.1,2100.5 318.9,2107.2 319.7,2098.8 320.5,2097.3 321.3,2107.1 322.1,2098.8 322.9,2099.6 323.7,2103.0 324.5,2106.4 325.3,2100.5 326.1,2100.7 326.9,2106.4 327.7,2100.8 328.5,2104.0 329.3,2100.6 330.1,2098.9 330.9,2104.8 331.7,2097.6 332.5,2104.6 333.3,2098.9 334.1,2098.7 334.9,2098.0 335.7,2097.7 336.5,2105.4 337.3,2097.9 338.1,2104.1 338.9,2106.9 339.7,2105.6 340.5,2097.7 341.3,2103.8 342.1,2097.2 342.9,2097.7 343.7,2095.2 344.5,2104.0 345.3,2097.0 346.1,2104.5 346.9,2096.4 347.7,2104.1 348.5,2096.1 349.3,2104.0 350.1,2098.0 350.9,2103.7 351.7,2103.3 352.5,2096.7 353.3,2099.8 354.1,2104.5 354.9,2096.7 355.7,2105.1 356.5,2099.0 357.3,2099.2 358.0,2104.3 358.1,2098.0 358.9,2101.5 359.7,2096.2 360.5,2102.9 361.3,2097.4 362.1,2104.3 362.9,2099.1 363.7,2101.5 364.5,2096.5 365.3,2094.8 366.1,2105.4 366.9,2105.3 367.7,2095.0 368.5,2096.3 369.3,2100.7 370.1,2097.7 370.9,2102.6 371.7,2093.4 372.5,2104.7 373.3,2102.5 374.1,2103.3 374.9,2104.2 375.7,2098.2 376.5,2093.9 377.3,2101.1 378.1,2100.6 378.9,2101.3 379.7,2093.0 380.5,2103.7 381.3,2094.6 382.1,2101.6 382.9,2096.6 383.7,2101.6 384.5,2096.1 385.3,2093.8 386.1,2100.3 386.9,2095.9 387.7,2102.6 388.5,2100.2 389.3,2093.3 390.1,2093.5 390.9,2100.8 391.7,2096.6 392.5,2098.9 393.3,2092.8 394.1,2101.2 394.9,2094.4 395.7,2099.2 396.5,2099.4 397.3,2094.8 398.1,2095.1 398.9,2100.4 399.7,2099.6 400.5,2093.8 401.3,2097.2 402.1,2092.9 402.9,2099.8 403.7,2102.4 404.5,2099.7 405.3,2089.2 406.1,2098.2 406.9,2093.0 407.7,2100.6 408.5,2092.5 409.3,2100.6 410.1,2092.7 410.9,2098.3 411.7,2099.3 412.5,2091.5 413.3,2092.2 414.1,2097.6 414.9,2091.8 415.7,2091.6 416.5,2099.3 417.3,2094.5 418.1,2091.0 418.9,2099.4 419.7,2091.0 420.5,2098.1 421.3,2096.5 422.1,2099.3 422.9,2098.2 423.7,2091.6 424.5,2098.0 425.3,2092.9 426.1,2099.2 426.9,2099.0 427.7,2089.5 428.5,2090.0 429.3,2091.4 430.1,2098.3 430.9,2089.4 431.7,2097.8 432.5,2090.1 433.3,2090.7 434.1,2097.1 434.9,2092.1 435.7,2096.4 436.5,2088.2 437.3,2093.9 438.1,2093.3 438.9,2095.7 439.7,2098.1 439.9,2096.3 440.5,2091.6 441.3,2097.1 442.1,2085.6 442.9,2097.0 443.7,2088.6 444.5,2084.6 445.3,2096.4 446.1,2086.9 446.9,2096.5 447.7,2094.0 448.5,2089.2 449.3,2088.3 450.1,2091.7 450.9,2088.9 451.7,2094.1 452.5,2087.6 453.3,2090.1 454.1,2093.1 454.9,2088.6 455.7,2093.6 456.5,2087.7 457.3,2089.7 458.1,2088.6 458.9,2085.1 459.7,2091.3 460.5,2085.7 461.3,2085.3 462.1,2091.8 462.9,2082.8 463.7,2090.9 464.5,2093.4 465.3,2087.0 466.1,2090.9 466.9,2084.9 467.7,2090.8 468.5,2091.6 469.3,2083.8 470.1,2088.7 470.9,2082.6 471.7,2088.4 472.5,2088.3 473.3,2082.3 474.1,2090.9 474.9,2090.1 475.7,2084.0 476.5,2087.2 477.3,2082.9 478.1,2089.2 478.9,2088.2 479.7,2080.4 480.5,2089.1 481.3,2082.8 482.1,2085.6 482.9,2081.1 483.7,2086.1 484.5,2079.4 485.3,2079.7 485.7,2080.2 486.1,2080.4 486.9,2081.8 487.7,2086.0 488.5,2078.8 489.3,2084.8 490.1,2085.3 490.9,2078.9 491.7,2086.0 492.5,2078.2 493.3,2082.2 494.1,2077.6 494.9,2076.3 495.7,2085.3 496.5,2078.3 497.3,2083.1 498.1,2074.1 498.9,2081.9 499.7,2082.4 500.5,2077.0 501.3,2080.8 502.1,2074.2 502.9,2073.3 503.7,2081.0 504.5,2073.1 505.3,2078.0 506.1,2068.1 506.9,2078.5 507.7,2071.5 508.5,2072.5 508.6,2078.7 509.3,2068.2 510.1,2079.6 510.9,2078.5 511.7,2069.6 512.5,2074.5 513.3,2070.2 514.1,2074.4 514.9,2069.8 515.7,2067.1 516.5,2073.6 517.3,2066.4 518.1,2072.2 518.9,2066.6 519.7,2073.1 520.5,2063.8 521.3,2071.3 522.1,2063.1 522.9,2070.4 523.7,2064.3 524.5,2069.2 525.3,2060.2 526.1,2066.4 526.9,2058.2 527.7,2065.7 528.5,2058.9 529.3,2067.0 530.1,2064.0 530.9,2060.8 531.4,2062.6 531.7,2058.1 532.5,2063.3 533.3,2056.8 534.1,2057.4 534.9,2059.0 535.7,2052.7 536.5,2052.7 537.3,2056.2 538.1,2051.5 538.9,2056.4 539.7,2048.5 540.5,2057.8 541.3,2049.4 542.1,2055.2 542.9,2049.2 543.7,2054.5 544.5,2047.3 545.3,2051.0 546.1,2050.7 546.9,2052.4 547.7,2042.0 548.5,2051.6 549.3,2041.5 550.1,2049.4 550.9,2041.2 551.7,2045.0 552.5,2047.6 553.3,2041.6 554.1,2047.3 554.3,2044.5 554.9,2045.7 555.7,2035.6 556.5,2042.3 557.3,2036.1 558.1,2042.9 558.9,2033.3 559.7,2038.9 560.5,2032.1 561.3,2037.0 562.1,2031.4 562.9,2033.7 563.7,2026.2 564.5,2033.1 565.3,2025.1 566.1,2031.3 566.9,2021.6 567.7,2029.7 568.5,2029.6 569.3,2019.3 570.1,2025.1 570.9,2023.9 571.7,2024.3 572.5,2016.3 573.3,2021.7 574.1,2014.4 574.9,2018.7 575.7,2018.6 576.5,2012.6 577.1,2011.7 577.3,2013.9 578.1,2008.4 578.9,2018.1 579.7,2005.1 580.5,2006.9 581.3,2004.2 582.1,2013.0 582.9,2003.9 583.7,2008.7 584.5,2001.6 585.3,2008.3 586.1,1995.8 586.9,2004.0 587.7,1997.2 588.5,2004.6 589.3,2001.0 590.1,1988.7 590.9,2000.2 591.7,1996.2 592.5,1990.6 593.3,1996.8 594.1,1994.3 594.9,1986.4 595.7,1992.8 596.5,1990.6 597.3,1981.1 598.1,1992.9 598.9,1978.6 599.7,1988.2 600.0,1986.3 600.5,1980.3 601.3,1985.4 602.1,1976.2 602.9,1980.8 603.7,1975.9 604.5,1983.3 605.3,1972.5 606.1,1978.8 606.9,1969.9 607.7,1975.5 608.5,1977.0 609.3,1967.3 610.0,1972.0 610.1,1964.0 610.9,1966.2 611.7,1967.3 612.5,1961.1 613.3,1966.3 614.1,1958.3 614.9,1964.4 615.7,1953.7 616.5,1960.4 617.3,1951.4 617.5,1960.5 618.1,1951.8 618.9,1941.0 619.7,1942.5 620.5,1930.8 621.3,1933.9 622.1,1917.3 622.9,1923.0 623.7,1905.6 624.3,1914.0 624.5,1903.1 625.3,1899.5 626.1,1890.0 626.9,1868.6 627.7,1868.2 628.5,1852.6 629.3,1850.6 630.1,1832.2 630.5,1834.7 630.9,1830.1 631.7,1840.4 632.5,1837.1 633.3,1844.4 634.1,1857.3 634.9,1856.0 635.7,1868.6 636.5,1865.5 637.2,1880.2 637.3,1873.5 638.1,1883.4 638.9,1880.8 639.7,1891.0 640.5,1883.8 641.3,1884.9 642.1,1893.2 642.9,1901.3 643.7,1900.6 644.5,1910.4 645.3,1901.3 645.7,1914.0 646.1,1906.9 646.9,1909.1 647.7,1906.5 648.5,1917.8 649.3,1911.5 650.1,1923.1 650.9,1914.6 651.7,1923.4 652.5,1919.1 653.3,1927.2 654.1,1923.1 654.3,1929.0 654.9,1926.7 655.7,1920.2 656.5,1925.7 657.3,1914.2 658.1,1913.0 658.9,1921.7 659.7,1919.4 660.5,1909.9 661.3,1913.9 662.1,1906.0 662.9,1910.8 663.7,1901.2 664.5,1906.7 665.3,1891.5 666.1,1889.2 666.9,1895.1 667.7,1884.7 668.5,1876.6 669.3,1889.3 670.1,1881.5 670.9,1868.1 671.7,1877.7 672.5,1863.3 673.3,1870.2 674.1,1866.3 674.9,1855.5 675.7,1861.9 676.5,1845.2 677.3,1856.1 678.1,1844.7 678.9,1837.8 679.7,1842.7 680.5,1833.1 681.3,1832.4 682.1,1839.8 682.9,1824.9 683.7,1821.3 684.5,1832.2 685.3,1817.1 686.1,1826.5 686.5,1810.1 686.9,1818.4 687.7,1808.1 688.5,1803.8 689.3,1794.5 690.1,1794.1 690.9,1781.5 691.7,1783.5 692.0,1768.0 692.5,1777.8 693.3,1762.8 694.1,1768.0 694.9,1746.5 695.7,1740.2 696.5,1747.7 696.7,1736.7 697.3,1752.2 698.1,1750.1 698.9,1767.9 699.7,1764.2 700.0,1781.9 700.5,1772.8 701.3,1791.1 702.1,1791.5 702.9,1809.0 703.7,1804.3 704.3,1821.3 704.5,1810.0 705.3,1833.6 706.1,1840.4 706.9,1857.5 707.7,1860.4 708.5,1886.0 709.3,1878.5 710.0,1905.5 710.1,1895.7 710.9,1910.6 711.7,1904.0 712.5,1920.1 713.3,1924.1 714.1,1920.3 714.9,1937.1 715.7,1927.4 716.5,1948.7 717.3,1939.7 718.1,1958.0 718.6,1950.0 718.9,1964.3 719.7,1954.2 720.5,1962.6 721.3,1955.2 722.1,1962.6 722.9,1969.5 723.7,1955.5 724.5,1967.6 725.3,1953.0 726.1,1968.1 726.9,1958.8 727.7,1956.4 728.5,1969.5 729.3,1960.6 730.1,1971.8 730.9,1961.4 731.5,1960.6 731.7,1973.4 732.5,1961.2 733.3,1973.3 734.1,1960.9 734.9,1976.4 735.7,1960.1 736.5,1972.7 737.3,1965.3 738.1,1977.5 738.9,1975.0 739.7,1979.4 740.5,1973.0 741.3,1982.7 742.1,1970.9 742.9,1982.8 743.7,1973.1 744.3,1984.6 744.5,1982.1 745.3,1970.5 746.1,1980.5 746.9,1964.9 747.7,1976.5 748.5,1971.6 749.3,1970.5 750.1,1980.0 750.9,1982.5 751.7,1968.5 752.5,1977.3 753.3,1974.3 754.1,1966.5 754.9,1979.1 755.7,1975.8 756.5,1970.5 757.3,1962.1 758.1,1970.1 758.9,1961.9 759.7,1976.6 760.5,1960.4 761.3,1971.9 761.5,1956.7 762.1,1976.8 762.9,1964.7 763.7,1971.9 764.5,1955.0 765.3,1968.9 766.1,1960.1 766.9,1972.4 767.7,1963.1 768.5,1970.1 769.3,1957.8 770.1,1969.0 770.9,1959.8 771.7,1972.0 772.5,1974.5 773.3,1957.6 774.1,1973.9 774.9,1959.1 775.0,1971.5 775.7,1960.0 776.5,1971.1 777.3,1969.1 778.1,1957.7 778.9,1976.5 779.7,1958.9 780.5,1975.6 781.3,1960.8 782.1,1960.1 782.9,1973.0 783.7,1962.3 784.5,1973.8 785.3,1965.2 786.1,1980.4 786.9,1953.3 787.7,1972.0 788.5,1967.4 789.3,1971.8 790.1,1961.2 790.9,1971.5 791.7,1957.8 792.5,1969.0 792.7,1958.6 793.3,1973.0 794.1,1962.2 794.9,1961.9 795.7,1974.1 796.5,1959.7 797.3,1974.4 798.1,1959.8 798.9,1971.1 799.7,1956.1 800.5,1971.0 801.3,1951.9 802.1,1970.5 802.9,1956.3 803.7,1967.2 804.5,1954.9 805.3,1971.8 806.1,1964.0 806.9,1953.7 807.7,1969.0 808.5,1954.4 809.3,1963.8 810.1,1962.5 810.9,1949.6 811.7,1963.2 812.5,1955.6 813.3,1963.7 814.1,1961.5 814.9,1946.0 815.5,1964.8 815.7,1946.9 816.5,1966.0 817.3,1951.2 818.1,1957.4 818.9,1946.5 819.7,1961.2 820.5,1951.6 821.3,1960.1 822.1,1958.3 822.9,1948.4 823.7,1960.6 824.5,1947.0 825.3,1954.2 826.1,1945.1 826.9,1958.6 827.7,1945.3 828.5,1957.1 829.3,1958.2 830.1,1942.2 830.9,1955.3 831.7,1954.3 832.5,1956.2 833.3,1943.0 834.1,1939.5 834.9,1955.1 835.7,1953.9 835.9,1952.8 836.5,1945.3 837.3,1953.2 838.1,1942.1 838.9,1956.3 839.7,1946.5 840.5,1956.8 841.3,1944.3 842.1,1947.0 842.9,1957.0 843.7,1960.8 844.5,1945.1 845.3,1959.6 846.1,1951.4 846.9,1958.3 847.7,1951.6 848.5,1966.4 849.3,1960.1 849.6,1958.9 850.1,1966.1 850.9,1965.2 851.7,1951.8 852.5,1969.4 853.3,1956.0 854.1,1964.5 854.9,1948.7 855.7,1968.7 856.5,1953.1 857.3,1969.8 858.1,1958.4 858.9,1963.0 859.7,1958.8 860.5,1950.2 861.3,1969.7 862.1,1959.2 862.9,1974.0 863.7,1956.2 864.5,1969.2 865.3,1963.4 866.1,1969.2 866.9,1959.2 867.7,1972.2 868.5,1958.0 869.3,1972.4 870.1,1961.4 870.9,1977.0 871.7,1961.8 872.3,1972.3 872.5,1962.0 873.3,1970.9 874.1,1964.1 874.9,1974.0 875.7,1963.5 876.5,1973.0 877.3,1962.3 878.1,1975.2 878.9,1966.5 879.7,1960.6 880.5,1971.3 881.3,1967.9 882.1,1976.0 882.9,1965.1 883.7,1977.9 884.5,1965.7 885.3,1975.3 886.1,1962.8 886.9,1976.1 887.7,1969.9 888.5,1978.4 889.3,1981.0 890.1,1964.0 890.9,1980.7 891.7,1969.9 892.5,1980.3 893.3,1962.8 894.1,1974.0 894.9,1962.5 895.1,1967.7 895.7,1971.9 896.5,1984.2 897.3,1980.6 898.1,1967.5 898.9,1980.2 899.7,1962.0 900.5,1978.2 901.3,1971.7 902.1,1978.9 902.9,1980.8 903.7,1974.7 904.5,1966.6 905.3,1976.3 906.1,1973.2 906.9,1968.6 907.7,1978.9 908.5,1975.6 909.3,1979.9 910.1,1968.1 910.9,1982.1 911.7,1969.4 912.5,1967.1 913.3,1980.7 914.1,1972.3 914.9,1984.5 915.7,1970.1 916.5,1970.5 917.3,1990.1 917.8,1978.7 918.1,1969.9 918.9,1970.4 919.7,1974.4 920.5,1987.5 921.3,1971.2 922.1,1989.7 922.9,1976.9 923.7,1991.6 924.5,1972.1 925.3,1991.9 926.1,1974.8 926.9,1988.2 927.7,1978.6 928.5,1984.4 929.3,1975.5 930.1,1990.3 930.9,1977.4 931.7,1985.1 932.5,1988.5 933.3,1974.2 934.1,1989.7 934.9,1977.2 935.7,1991.6 936.5,1979.8 937.3,1995.6 938.1,1988.3 938.9,1978.6 939.7,1989.9 940.5,1977.8 940.6,1981.6 941.3,1992.5 942.1,1985.7 942.9,1979.4 943.7,1978.8 944.5,1991.9 945.3,1985.3 946.1,1996.3 946.9,1984.1 947.7,1995.7 948.5,1985.8 949.3,2001.7 950.1,1988.4 950.9,1997.4 951.7,1985.0 952.5,1988.3 953.3,1995.6 954.1,1987.1 954.9,1998.8 955.7,1993.8 956.5,2005.9 957.3,2002.8 958.1,1986.4 958.9,2003.3 959.7,1994.2 960.5,1989.1 961.3,2001.6 962.1,1992.9 962.9,2007.5 963.3,1995.9 963.7,2005.9 964.5,1995.9 965.3,2004.6 966.1,1995.4 966.9,2010.1 967.7,1989.5 968.5,2007.7 969.3,1998.1 970.1,2007.0 970.9,1993.0 971.7,2007.4 972.5,1995.7 973.3,2000.1 974.1,2006.8 974.9,2000.2 975.7,2010.5 976.5,2002.1 977.3,2013.0 978.1,2011.6 978.9,1997.0 979.7,2011.7 980.5,2015.0 981.3,2004.7 982.1,2016.9 982.9,1997.4 983.7,2022.3 984.5,2000.3 985.3,2012.4 986.0,2002.5 986.1,2002.9 986.9,2012.7 987.7,2007.8 988.5,2015.7 989.3,2002.0 990.1,2013.6 990.9,2002.5 991.7,2019.5 992.5,2005.2 993.3,2005.5 994.1,2000.8 994.9,2005.2 995.7,2014.0 996.5,2005.0 997.3,2014.0 998.1,2001.4 998.9,2014.9 999.7,2017.8 1000.5,2013.6 1001.3,2004.7 1002.1,2006.7 1002.9,2018.9 1003.7,2015.9 1004.5,2003.5 1005.3,2016.4 1006.1,2002.3 1006.9,2012.3 1007.7,2002.7 1008.5,2019.0 1008.8,2019.3 1009.3,2004.0 1010.1,2017.3 1010.9,2010.9 1011.7,2015.1 1012.5,1999.3 1013.3,2013.0 1014.1,2003.6 1014.9,2010.2 1015.7,1999.3 1016.5,2002.5 1017.3,2011.6 1018.1,2019.5 1018.9,2004.9 1019.7,2014.5 1020.5,2016.4 1021.3,2002.2 1022.1,2010.3 1022.9,2019.1 1023.7,2000.6 1024.5,2016.2 1025.3,2009.2 1026.1,2001.9 1026.9,1997.5 1027.7,1995.3 1028.5,2011.0 1029.3,1999.5 1030.1,2012.5 1030.9,2013.5 1031.5,2003.2 1031.7,2013.3 1032.5,2006.6 1033.3,2012.2 1034.1,1996.0 1034.9,1992.7 1035.7,2013.7 1036.5,1999.2 1037.3,1995.9 1038.1,2010.2 1038.9,1999.2 1039.7,1995.5 1040.5,2008.5 1041.3,1999.3 1042.1,2012.9 1042.9,2012.5 1043.7,1995.6 1044.5,1998.4 1045.3,2013.4 1046.1,2012.6 1046.9,1999.7 1047.7,2006.7 1048.5,1999.3 1049.3,2015.2 1050.1,1992.8 1050.9,1994.5 1051.7,2009.7 1052.5,1992.7 1053.3,2007.5 1054.1,1998.0 1054.3,1993.5 1054.9,2008.1 1055.7,1995.7 1056.5,1998.6 1057.3,2007.2 1058.1,2007.9 1058.9,1995.6 1059.7,2003.7 1060.5,1995.6 1061.3,1995.6 1062.1,1994.6 1062.9,1994.1 1063.7,2007.6 1064.5,1992.7 1065.3,2007.2 1066.1,1998.6 1066.9,2005.8 1067.7,1991.1 1068.5,2008.1 1069.3,1993.1 1070.1,2011.5 1070.9,1993.2 1071.7,2008.1 1072.5,1990.6 1073.3,2006.5 1074.1,2002.0 1074.9,1993.4 1075.7,2012.4 1076.5,1993.1 1077.0,2010.8 1077.3,1991.9 1078.1,2006.5 1078.9,1995.0 1079.7,1993.0 1080.5,2008.7 1081.3,2006.9 1082.1,1997.4 1082.9,2007.2 1083.7,1996.8 1084.5,2009.5 1085.3,1998.4 1086.1,2006.7 1086.9,1994.0 1087.7,2010.8 1088.5,1999.2 1089.3,2009.7 1090.1,1998.2 1090.9,2012.1 1091.7,1994.7 1092.5,1997.1 1093.3,2011.4 1094.1,2008.8 1094.9,1998.8 1095.7,2013.9 1096.5,2003.0 1097.3,2007.0 1098.1,1994.6 1098.9,2015.8 1099.7,2000.3 1100.5,2014.9 1101.3,2000.8 1102.1,2001.9 1102.9,2012.6 1103.7,1997.2 1104.5,2011.4 1105.3,2015.6 1106.1,2000.4 1106.9,2000.3 1107.7,2002.0 1108.5,2015.3 1109.3,1996.1 1110.1,2010.2 1110.9,2001.6 1111.7,2009.7 1112.5,2001.3 1113.3,2009.4 1114.1,2014.9 1114.9,2015.8 1115.7,2005.1 1116.5,2009.0 1117.3,2012.4 1118.1,2003.7 1118.9,2006.0 1119.7,2014.1 1120.5,2002.2 1121.3,2013.4 1122.1,1998.9 1122.5,2016.2 1122.9,2014.7 1123.7,2002.8 1124.5,2004.2 1125.3,2015.5 1126.1,2004.6 1126.9,2016.4 1127.7,2016.2 1128.5,2004.7 1129.3,2015.1 1130.1,2003.4 1130.9,2012.8 1131.7,1999.9 1132.5,2010.2 1133.3,2000.0 1134.1,2015.5 1134.9,2017.5 1135.7,1997.1 1136.5,2016.9 1137.3,1997.3 1138.1,2013.5 1138.9,1999.5 1139.7,1999.6 1140.5,2017.3 1141.3,2004.3 1142.1,2011.4 1142.9,1998.8 1143.7,2014.3 1144.5,2002.6 1145.2,2007.9 1145.3,2005.0 1146.1,2014.1 1146.9,2009.9 1147.7,2003.1 1148.5,2000.6 1149.3,2015.2 1150.1,1997.9 1150.9,2014.4 1151.7,2001.0 1152.5,2012.2 1153.3,2017.1 1154.1,1999.7 1154.9,2012.8 1155.7,2002.3 1156.5,2018.0 1157.3,2010.5 1158.1,2013.7 1158.9,2005.8 1159.7,2014.9 1160.5,2005.6 1161.3,2018.1 1162.1,2004.9 1162.9,2011.0 1163.7,2001.9 1164.5,2016.1 1165.3,2008.6 1166.1,2016.9 1166.9,2017.1 1167.7,2004.4 1168.0,2008.2 1168.5,2015.5 1169.3,2006.4 1170.1,2018.5 1170.9,2006.3 1171.7,2005.0 1172.5,2015.2 1173.3,2022.7 1174.1,2001.6 1174.9,2017.7 1175.7,2005.7 1176.5,2015.9 1177.3,2005.2 1178.1,2022.0 1178.9,2005.3 1179.7,2020.1 1180.5,2009.9 1181.3,2007.0 1182.1,2020.9 1182.9,2006.4 1183.7,2005.8 1184.5,2017.6 1185.0,2011.1 1185.3,2020.7 1186.1,2011.9 1186.9,2017.8 1187.7,2009.6 1188.5,2022.7 1189.3,2009.3 1190.1,2024.7 1190.9,2015.1 1191.7,2012.3 1192.5,2017.8 1193.3,2030.5 1194.1,2029.0 1194.9,2019.9 1195.7,2029.6 1196.5,2012.5 1197.3,2030.3 1198.1,2019.1 1198.9,2027.5 1199.7,2017.2 1200.5,2034.9 1201.3,2018.6 1202.1,2034.8 1202.9,2021.2 1203.7,2038.1 1204.5,2025.4 1205.3,2037.1 1205.5,2036.6 1206.1,2019.6 1206.9,2023.1 1207.7,2025.9 1208.5,2025.0 1209.3,2037.8 1210.1,2039.8 1210.9,2030.3 1211.7,2036.1 1212.5,2026.2 1213.3,2044.7 1214.1,2040.5 1214.9,2035.7 1215.7,2029.3 1216.5,2034.3 1217.3,2025.7 1218.1,2036.9 1218.9,2028.2 1219.7,2041.6 1220.5,2025.2 1221.3,2041.8 1222.1,2027.8 1222.9,2043.6 1223.7,2026.7 1224.5,2038.1 1225.3,2030.6 1226.1,2043.0 1226.9,2034.0 1227.7,2038.9 1228.2,2036.1 1228.5,2039.5 1229.3,2042.3 1230.1,2035.0 1230.9,2031.7 1231.7,2040.6 1232.5,2033.1 1233.3,2040.9 1234.1,2032.3 1234.9,2041.2 1235.7,2030.2 1236.5,2044.0 1237.3,2038.0 1238.1,2041.7 1238.9,2034.5 1239.7,2042.2 1240.5,2032.4 1241.3,2030.4 1242.1,2044.0 1242.9,2037.0 1243.7,2042.6 1244.5,2031.9 1245.3,2047.5 1246.1,2047.4 1246.9,2049.5 1247.7,2045.4 1248.5,2033.8 1249.3,2049.3 1250.1,2046.4 1250.9,2031.6 1251.0,2050.3 1251.7,2033.6 1252.5,2053.5 1253.3,2033.8 1254.1,2033.1 1254.9,2048.5 1255.7,2032.7 1256.5,2035.0 1257.3,2047.0 1258.1,2045.0 1258.9,2032.7 1259.7,2048.7 1260.5,2030.4 1261.3,2046.8 1262.1,2035.7 1262.9,2051.4 1263.7,2040.0 1264.5,2050.7 1265.3,2038.9 1266.1,2047.0 1266.9,2045.4 1267.7,2044.2 1268.5,2034.5 1269.3,2052.5 1270.1,2039.3 1270.9,2035.5 1271.7,2047.0 1272.5,2037.1 1273.3,2036.5 1273.7,2051.9 1274.1,2036.8 1274.9,2053.6 1275.7,2036.7 1276.5,2051.1 1277.3,2040.0 1278.1,2048.7 1278.9,2038.6 1279.7,2049.8 1280.5,2037.6 1281.3,2049.5 1282.1,2041.1 1282.9,2050.6 1283.7,2037.2 1284.5,2046.5 1285.3,2037.7 1286.1,2036.0 1286.9,2043.0 1287.7,2049.5 1288.5,2037.1 1289.3,2054.7 1290.1,2038.7 1290.9,2054.5 1291.7,2041.3 1292.5,2043.4 1293.3,2056.0 1294.1,2034.7 1294.9,2054.6 1295.7,2044.3 1296.4,2052.0 1296.5,2040.1 1297.3,2054.2 1298.1,2040.6 1298.9,2056.2 1299.7,2052.5 1300.5,2041.2 1301.3,2049.5 1302.1,2038.9 1302.9,2058.7 1303.7,2042.1 1304.5,2049.7 1305.3,2040.2 1306.1,2058.1 1306.9,2038.8 1307.7,2047.9 1308.5,2041.0 1309.3,2045.3 1310.1,2053.1 1310.9,2039.2 1311.7,2057.7 1312.5,2044.2 1313.3,2047.1 1314.1,2042.5 1314.9,2054.8 1315.7,2041.6 1316.5,2051.2 1317.3,2039.6 1318.1,2055.5 1318.9,2043.3 1319.2,2041.2 1319.7,2056.5 1320.5,2041.5 1321.3,2052.4 1322.1,2041.2 1322.9,2054.4 1323.7,2034.7 1324.5,2057.7 1325.3,2039.2 1326.1,2054.5 1326.9,2042.6 1327.7,2058.0 1328.5,2042.8 1329.3,2054.4 1330.1,2036.6 1330.9,2055.9 1331.7,2044.8 1332.5,2050.0 1333.3,2042.8 1334.1,2043.3 1334.9,2055.3 1335.7,2042.2 1336.5,2053.3 1337.3,2039.1 1338.1,2054.9 1338.9,2041.1 1339.7,2049.9 1340.5,2039.4 1341.3,2047.9 1341.9,2039.1 1342.1,2057.5 1342.9,2042.6 1343.7,2042.3 1344.5,2051.9 1345.3,2053.3 1346.1,2044.6 1346.9,2053.1 1347.7,2056.8 1348.5,2051.6 1349.3,2043.2 1350.1,2046.8 1350.9,2042.5 1351.7,2050.3 1352.5,2043.6 1353.3,2056.8 1354.1,2045.7 1354.9,2045.8 1355.7,2059.1 1356.5,2048.3 1357.3,2057.5 1358.1,2043.2 1358.9,2053.0 1359.7,2040.9 1360.5,2057.3 1361.3,2044.5 1362.1,2053.3 1362.9,2058.1 1363.7,2045.7 1364.5,2042.2 1364.7,2053.4 1365.3,2048.1 1366.1,2053.8 1366.9,2041.8 1367.7,2055.4 1368.5,2043.6 1369.3,2054.2 1370.1,2049.4 1370.9,2053.0 1371.7,2041.4 1372.5,2054.4 1373.3,2047.9 1374.1,2063.1 1374.9,2054.1 1375.7,2046.4 1376.5,2045.0 1377.3,2053.3 1378.1,2046.3 1378.9,2056.3 1379.7,2045.2 1380.5,2058.3 1381.3,2046.4 1382.1,2058.5 1382.9,2047.3 1383.7,2057.5 1384.5,2048.9 1385.3,2060.0 1386.1,2050.2 1386.9,2058.8 1387.4,2050.5 1387.7,2061.3 1388.5,2050.3 1389.3,2047.2 1390.1,2063.1 1390.9,2049.5 1391.7,2059.7 1392.5,2047.8 1393.3,2059.5 1394.1,2051.9 1394.9,2058.9 1395.7,2061.9 1396.5,2062.3 1397.3,2046.6 1398.1,2064.9 1398.9,2050.4 1399.7,2063.5 1400.5,2054.6 1401.3,2059.0 1402.1,2058.4 1402.9,2047.4 1403.7,2062.7 1404.5,2053.9 1405.3,2046.9 1406.1,2061.7 1406.9,2056.3 1407.7,2066.5 1408.5,2053.6 1409.3,2050.4 1410.1,2050.2 1410.9,2064.1 1411.7,2055.5 1412.5,2062.8 1413.3,2058.0 1414.1,2052.4 1414.9,2048.4 1415.7,2057.8 1416.5,2062.9 1417.3,2052.8 1418.1,2064.9 1418.9,2059.4 1419.7,2064.7 1420.5,2047.7 1421.3,2053.3 1422.1,2063.6 1422.9,2049.9 1423.7,2064.3 1424.5,2054.4 1425.3,2062.1 1426.1,2052.3 1426.9,2061.9 1427.7,2062.8 1428.5,2055.4 1429.3,2051.3 1430.1,2064.2 1430.9,2053.9 1431.7,2067.1 1432.5,2057.5 1432.9,2064.8 1433.3,2067.0 1434.1,2055.8 1434.9,2066.7 1435.7,2050.7 1436.5,2071.3 1437.3,2052.4 1438.1,2065.6 1438.9,2056.0 1439.7,2065.2 1440.5,2053.7 1441.3,2061.7 1442.1,2057.1 1442.9,2063.9 1443.7,2058.0 1444.5,2065.5 1445.3,2067.9 1446.1,2057.3 1446.9,2055.1 1447.7,2070.5 1448.5,2058.0 1449.3,2063.6 1450.1,2070.0 1450.9,2052.1 1451.7,2065.9 1452.5,2051.0 1453.3,2058.7 1454.1,2053.1 1454.9,2054.3 1455.6,2065.1 1455.7,2056.3 1456.5,2065.1 1457.3,2071.6 1458.1,2067.4 1458.9,2055.6 1459.7,2069.3 1460.5,2064.4 1461.3,2053.4 1462.1,2063.4 1462.9,2053.2 1463.7,2055.8 1464.5,2067.7 1465.3,2052.3 1466.1,2068.6 1466.9,2070.6 1467.7,2051.2 1468.5,2068.2 1469.3,2061.7 1470.1,2070.2 1470.9,2055.7 1471.7,2054.6 1472.5,2057.6 1473.3,2067.3 1474.1,2058.0 1474.9,2065.4 1475.7,2066.1 1476.5,2060.8 1477.3,2068.9 1478.1,2070.1 1478.4,2059.2 1478.9,2067.2 1479.7,2058.7 1480.5,2069.0 1481.3,2056.7 1482.1,2069.1 1482.9,2068.8 1483.7,2060.2 1484.5,2067.8 1485.3,2070.2 1486.1,2055.7 1486.9,2066.0 1487.7,2061.0 1488.5,2064.5 1489.3,2059.7 1490.1,2067.9 1490.9,2056.4 1491.7,2066.0 1492.5,2060.0 1493.3,2060.0 1494.1,2059.4 1494.9,2056.0 1495.7,2067.9 1496.5,2060.0 1497.3,2070.8 1498.1,2056.1 1498.9,2068.0 1499.7,2060.1 1500.5,2068.1 1501.1,2057.5 1501.3,2056.7 1502.1,2071.2 1502.9,2061.3 1503.7,2055.9 1504.5,2069.4 1505.3,2053.0 1506.1,2069.9 1506.9,2059.0 1507.7,2070.9 1508.5,2070.8 1509.3,2059.5 1510.1,2056.2 1510.9,2058.2 1511.7,2067.4 1512.5,2067.6 1513.3,2062.0 1514.1,2069.7 1514.9,2068.9 1515.7,2061.8 1516.5,2069.0 1517.3,2060.8 1518.1,2069.0 1518.9,2057.9 1519.7,2072.3 1520.5,2056.1 1521.3,2070.8 1522.1,2062.1 1522.9,2061.8 1523.7,2068.3 1523.8,2060.5 1524.5,2060.4 1525.3,2069.1 1526.1,2062.3 1526.9,2070.7 1527.7,2062.0 1528.5,2059.8 1529.3,2068.7 1530.1,2058.3 1530.9,2061.9 1531.7,2058.0 1532.5,2070.0 1533.3,2072.1 1534.1,2060.0 1534.9,2062.5 1535.7,2073.5 1536.5,2061.9 1537.3,2072.1 1538.1,2059.0 1538.9,2064.3 1539.7,2071.1 1540.5,2060.1 1541.3,2072.4 1542.1,2061.5 1542.9,2062.5 1543.7,2071.0 1544.5,2062.7 1545.3,2070.5 1546.1,2062.6 1546.9,2073.1 1547.7,2060.0 1548.5,2063.1 1549.3,2068.2 1550.1,2059.2 1550.9,2070.2 1551.7,2073.6 1552.5,2060.4 1553.3,2073.3 1554.1,2065.8 1554.9,2070.3 1555.7,2071.1 1556.5,2063.6 1557.3,2074.3 1558.0,2062.9 1558.1,2062.1 1558.9,2069.7 1559.7,2063.6 1560.5,2064.4 1561.3,2073.3 1562.1,2062.1 1562.9,2070.9 1563.7,2057.8 1564.5,2072.8 1565.3,2065.9 1566.1,2071.1 1566.9,2070.7 1567.7,2073.0 1568.5,2059.3 1569.3,2070.5 1570.1,2058.2 1570.9,2071.9 1571.7,2071.3 1572.5,2052.9 1573.3,2073.4 1574.1,2062.0 1574.9,2071.2 1575.7,2074.5 1576.5,2064.1 1577.3,2073.4 1578.1,2072.4 1578.9,2063.3 1579.7,2072.7 1580.5,2060.3 1581.3,2072.1 1582.1,2074.4 1582.9,2071.8 1583.7,2064.1 1584.5,2064.8 1585.3,2068.7 1586.1,2075.9 1586.9,2062.7 1587.7,2080.9 1588.5,2066.0 1589.3,2072.8 1590.1,2061.9 1590.9,2070.9 1591.7,2062.3 1592.5,2072.0 1593.3,2059.6 1594.1,2065.1 1594.9,2071.8 1595.7,2064.9 1596.5,2065.1 1597.3,2074.0 1598.1,2059.6 1598.9,2073.3 1599.7,2063.5 1600.5,2073.0 1601.3,2066.1 1602.1,2070.0 1602.9,2058.6 1603.7,2063.3 1604.5,2063.0 1605.3,2077.6 1606.1,2064.3 1606.9,2064.9 1607.7,2064.1 1608.5,2078.0 1609.3,2059.8 1610.1,2071.1 1610.9,2064.7 1611.7,2073.1 1612.5,2062.0 1613.3,2074.4 1614.1,2063.8 1614.9,2074.7 1615.7,2065.0 1616.5,2076.3 1617.3,2065.2 1618.1,2069.5 1618.9,2060.0 1619.7,2076.3 1620.5,2065.7 1621.3,2074.8 1622.1,2058.7 1622.9,2062.2 1623.7,2078.4 1624.5,2058.4 1625.3,2062.4 1626.1,2075.7 1626.9,2063.5 1627.7,2073.7 1628.5,2064.0 1629.3,2075.3 1630.1,2065.7 1630.9,2074.2 1631.7,2065.4 1632.5,2075.8 1633.3,2066.5 1634.1,2074.1 1634.9,2063.2 1635.7,2073.3 1636.5,2077.6 1637.3,2065.8 1638.1,2072.4 1638.9,2062.6 1639.7,2065.4 1640.5,2076.5 1641.3,2066.2 1642.1,2076.8 1642.9,2075.9 1643.2,2064.2 1643.7,2063.9 1644.5,2073.0 1645.3,2065.6 1646.1,2073.1 1646.9,2076.6 1647.7,2075.4 1648.5,2062.7 1649.3,2077.4 1650.1,2062.3 1650.9,2076.5 1651.7,2068.6 1652.5,2077.4 1653.3,2064.0 1654.1,2074.5 1654.9,2064.8 1655.7,2077.6 1656.5,2063.3 1657.3,2081.0 1658.1,2061.4 1658.9,2074.7 1659.7,2065.3 1660.5,2077.5 1661.3,2068.0 1662.1,2076.3 1662.9,2063.4 1663.7,2064.6 1664.5,2064.1 1665.3,2076.4 1666.1,2067.2 1666.9,2076.6 1667.7,2068.3 1668.5,2075.9 1669.3,2077.5 1670.1,2068.3 1670.9,2083.1 1671.7,2069.7 1672.5,2074.2 1673.3,2064.4 1674.1,2076.6 1674.9,2062.7 1675.7,2078.9 1676.5,2066.5 1677.3,2080.0 1678.1,2067.2 1678.9,2066.7 1679.7,2073.8 1680.5,2065.9 1681.3,2073.9 1682.1,2066.1 1682.9,2077.3 1683.7,2076.4 1684.5,2062.8 1685.3,2079.6 1686.1,2076.1 1686.9,2068.0 1687.7,2079.1 1688.5,2068.2 1689.3,2078.6 1690.1,2076.8 1690.9,2067.8 1691.7,2065.9 1692.5,2074.6 1693.3,2066.7 1694.1,2063.5 1694.9,2067.0 1695.7,2076.6 1696.5,2067.6 1697.3,2076.7 1698.1,2068.3 1698.9,2074.3 1699.7,2072.1 1700.5,2075.4 1701.3,2069.7 1702.1,2076.7 1702.9,2066.6 1703.7,2078.0 1704.5,2066.5 1705.3,2078.1 1706.1,2067.4 1706.9,2080.7 1707.7,2064.4 1708.5,2078.0 1709.3,2078.3 1710.1,2066.8 1710.9,2077.0 1711.7,2065.6 1712.5,2077.2 1713.3,2077.9 1714.1,2071.6 1714.9,2076.6 1715.7,2076.2 1716.5,2069.0 1717.3,2082.6 1718.1,2068.6 1718.9,2074.5 1719.7,2078.7 1720.5,2081.4 1721.3,2068.7 1722.1,2066.8 1722.9,2080.8 1723.7,2069.3 1724.5,2081.5 1725.3,2067.5 1726.1,2070.9 1726.9,2076.5 1727.7,2069.8 1728.5,2076.7 1729.3,2081.8 1730.1,2069.3 1730.9,2080.5 1731.7,2072.2 1732.5,2067.3 1733.3,2076.4 1734.1,2067.5 1734.9,2080.0 1735.7,2067.9 1736.5,2076.8 1737.3,2069.4 1738.1,2077.8 1738.9,2081.4 1739.7,2082.2 1740.5,2071.8 1741.3,2080.0 1742.1,2066.6 1742.9,2078.0 1743.7,2065.9 1744.5,2077.2 1745.3,2067.6 1746.1,2077.7 1746.9,2068.9 1747.7,2066.3 1748.5,2077.3 1749.3,2078.4 1750.1,2068.3 1750.9,2068.2 1751.7,2075.6 1752.5,2070.7 1753.3,2080.1 1754.1,2067.2 1754.9,2081.6 1755.7,2068.3 1756.5,2082.4 1757.3,2076.7 1758.1,2081.3 1758.9,2068.5 1759.7,2083.3 1760.5,2067.2 1761.3,2077.4 1762.1,2080.8 1762.9,2067.8 1763.7,2078.6 1764.5,2069.3 1765.3,2070.5 1766.1,2067.7 1766.9,2077.9 1767.7,2068.7 1768.5,2078.7 1769.3,2066.1 1770.1,2064.8 1770.9,2077.7 1771.7,2071.7 1772.5,2077.7 1773.3,2080.9 1774.1,2068.5 1774.9,2078.0 1775.7,2069.1 1776.5,2080.4 1777.3,2068.5 1778.1,2083.0 1778.9,2078.9 1779.7,2071.6 1780.5,2079.3 1781.3,2070.2 1782.1,2070.4 1782.9,2083.0 1783.7,2070.0 1784.5,2078.4 1785.3,2068.4 1786.1,2071.8 1786.9,2075.5 1787.7,2069.3 1788.5,2077.5 1789.3,2073.5 1790.1,2070.0 1790.9,2079.1 1791.7,2077.5 1792.5,2065.1 1793.3,2075.4 1794.1,2069.7 1794.9,2069.5 1795.7,2078.3 1796.5,2071.7 1797.3,2080.3 1798.1,2068.5 1798.9,2078.4 1799.7,2072.1 1800.5,2076.7 1801.3,2077.2 1802.1,2069.7 1802.9,2082.9 1803.7,2070.8 1804.5,2078.8 1805.3,2068.6 1806.1,2078.4 1806.9,2071.4 1807.7,2081.4 1808.5,2081.2 1809.3,2071.1 1810.1,2077.6 1810.9,2066.2 1811.7,2079.0 1812.5,2071.8 1813.3,2080.6 1814.1,2068.8 1814.9,2078.2 1815.7,2069.9 1816.5,2082.4 1817.3,2070.2 1818.1,2074.8 1818.9,2070.0 1819.7,2077.7 1820.5,2080.8 1821.3,2072.0 1822.1,2077.7 1822.9,2068.8 1823.7,2078.3 1824.5,2064.5 1825.3,2071.4 1826.1,2080.9 1826.9,2081.5 1827.7,2069.6 1828.5,2080.4 1829.3,2072.8 1829.7,2072.3 1830.1,2083.3 1830.9,2067.4 1831.7,2076.1 1832.5,2072.1 1833.3,2076.9 1834.1,2069.7 1834.9,2070.4 1835.7,2076.8 1836.5,2070.1 1837.3,2073.6 1838.1,2081.0 1838.9,2065.2 1839.7,2082.3 1840.5,2072.7 1841.3,2079.2 1842.1,2071.7 1842.9,2079.5 1843.7,2069.2 1844.5,2080.2 1845.3,2077.2 1846.1,2066.9 1846.9,2069.5 1847.7,2080.7 1848.5,2073.3 1849.3,2080.5 1850.1,2065.8 1850.9,2071.7 1851.7,2078.9 1852.5,2070.4 1853.3,2079.6 1854.1,2071.6 1854.9,2081.1 1855.7,2076.3 1856.5,2082.8 1857.3,2071.3 1858.1,2082.1 1858.9,2069.5 1859.7,2077.5 1860.5,2068.9 1861.3,2078.7 1862.1,2066.2 1862.9,2080.8 1863.7,2070.8 1864.5,2070.5 1865.3,2072.5 1866.1,2079.6 1866.9,2070.2 1867.7,2080.6 1868.5,2070.0 1869.3,2082.0 1870.1,2069.2 1870.9,2077.7 1871.7,2071.4 1872.5,2080.0 1873.3,2081.3 1874.1,2079.1 1874.9,2073.8 1875.7,2080.3 1876.5,2069.8 1877.3,2075.9 1878.1,2070.4 1878.9,2083.7 1879.7,2078.8 1880.5,2070.4 1881.3,2080.2 1882.1,2078.5 1882.9,2070.9 1883.7,2069.0 1884.5,2072.0 1885.3,2083.9 1886.1,2070.9 1886.9,2077.0 1887.7,2071.6 1888.5,2077.9 1889.3,2072.1 1890.1,2077.6 1890.9,2070.4 1891.7,2074.6 1892.5,2072.9 1893.3,2067.4 1894.1,2075.0 1894.9,2079.5 1895.7,2071.9 1896.5,2078.8 1897.3,2072.8 1898.1,2080.1 1898.9,2074.2 1899.7,2071.8 1900.5,2069.2 1901.3,2082.5 1902.1,2067.9 1902.9,2078.2 1903.7,2068.6 1904.5,2067.5 1905.3,2080.3 1906.1,2071.5 1906.9,2068.2 1907.7,2081.3 1908.5,2070.5 1909.3,2077.4 1910.1,2071.4 1910.9,2081.8 1911.7,2069.5 1912.5,2071.6 1913.3,2072.5 1914.1,2081.3 1914.9,2071.3 1915.7,2080.8 1916.5,2078.6 1917.3,2080.9 1918.1,2068.1 1918.9,2081.3 1919.7,2071.9 1920.5,2080.0 1921.3,2080.6 1922.1,2071.2 1922.9,2078.9 1923.0,2071.6 1923.7,2081.4 1924.5,2082.0 1925.3,2071.7 1926.1,2082.8 1926.9,2072.4 1927.7,2072.0 1928.5,2081.7 1929.3,2081.5 1930.1,2071.5 1930.9,2078.1 1931.7,2070.1 1932.5,2082.4 1933.3,2074.4 1934.1,2076.5 1934.9,2071.3 1935.7,2081.8 1936.5,2073.5 1937.3,2078.3 1938.1,2070.6 1938.9,2082.1 1939.7,2079.4 1940.5,2083.0 1941.3,2076.3 1942.1,2083.3 1942.9,2072.2 1943.7,2074.2 1944.5,2081.0 1945.3,2071.5 1946.1,2084.5 1946.9,2083.6 1947.7,2072.5 1948.5,2077.9 1949.3,2079.3 1950.1,2071.2 1950.9,2080.5 1951.7,2070.3 1952.5,2081.0 1953.3,2071.2 1954.1,2077.2 1954.9,2074.5" stroke="#F0AD7E" stroke-width="8.5" fill="none" stroke-linejoin="round" stroke-linecap="round"/>
<polyline points="317.3,2022.2 318.1,2024.4 318.9,2033.1 319.7,2022.4 320.5,2030.4 321.3,2022.5 322.1,2030.6 322.9,2029.6 323.7,2022.0 324.5,2032.5 325.3,2029.6 326.1,2023.5 326.9,2022.0 327.7,2030.2 328.5,2029.1 329.3,2019.9 330.1,2027.5 330.9,2021.2 331.7,2031.7 332.5,2021.0 333.3,2028.5 334.1,2028.6 334.9,2022.3 335.7,2026.2 336.5,2022.4 337.3,2028.1 337.5,2022.6 338.1,2029.0 338.9,2022.2 339.7,2022.6 340.5,2027.6 341.3,2023.2 342.1,2027.8 342.9,2021.5 343.7,2028.8 344.5,2021.2 345.3,2027.3 346.1,2021.3 346.9,2020.8 347.7,2027.2 348.5,2021.5 349.3,2028.7 350.1,2020.7 350.9,2026.6 351.7,2021.6 352.5,2028.7 353.3,2021.7 354.1,2028.8 354.9,2019.6 355.7,2029.3 356.5,2021.2 357.3,2020.2 358.0,2028.7 358.1,2022.1 358.9,2028.6 359.7,2019.7 360.5,2028.4 361.3,2021.9 362.1,2026.4 362.9,2018.1 363.7,2027.5 364.5,2028.3 365.3,2020.4 366.1,2026.5 366.9,2026.1 367.7,2022.4 368.5,2025.8 369.3,2020.2 370.1,2023.4 370.9,2023.4 371.7,2019.4 372.5,2018.2 373.3,2025.2 374.1,2020.4 374.9,2014.4 375.7,2025.2 376.5,2016.5 377.3,2025.6 378.1,2020.6 378.4,2026.4 378.9,2024.4 379.7,2018.6 380.5,2024.4 381.3,2026.2 382.1,2019.7 382.9,2020.6 383.7,2028.8 384.5,2018.1 385.3,2025.5 386.1,2026.8 386.9,2016.1 387.7,2022.8 388.5,2016.9 389.3,2027.3 390.1,2018.1 390.9,2019.2 391.7,2027.0 392.5,2025.0 393.3,2016.8 394.1,2022.5 394.9,2018.9 395.7,2024.5 396.5,2014.7 397.3,2025.5 398.1,2016.9 398.9,2021.7 399.7,2017.6 400.5,2025.1 401.3,2021.9 402.1,2017.7 402.9,2015.8 403.7,2023.3 404.5,2014.4 405.3,2023.6 406.1,2015.9 406.9,2022.3 407.7,2015.1 408.5,2020.3 409.3,2016.9 410.1,2022.5 410.9,2015.0 411.7,2022.6 412.5,2014.1 413.3,2018.7 414.1,2012.0 414.9,2014.5 415.7,2023.1 416.5,2020.9 417.3,2019.2 418.1,2012.1 418.9,2012.8 419.4,2019.7 419.7,2019.5 420.5,2010.6 421.3,2013.3 422.1,2019.7 422.9,2012.9 423.7,2013.7 424.5,2019.9 425.3,2011.7 426.1,2011.2 426.9,2019.5 427.7,2018.7 428.5,2010.2 429.3,2019.6 430.1,2009.5 430.9,2017.4 431.7,2012.8 432.5,2012.2 433.3,2011.7 434.1,2016.8 434.9,2017.1 435.7,2015.4 436.5,2009.7 437.3,2017.1 438.1,2016.8 438.9,2008.5 439.7,2017.6 439.9,2016.1 440.5,2010.5 441.3,2015.6 442.1,2009.4 442.9,2005.8 443.7,2008.9 444.5,2013.9 445.3,2014.4 446.1,2004.8 446.9,2015.1 447.7,2007.8 448.5,2009.9 449.3,2007.2 450.1,2012.5 450.9,2005.4 451.7,2011.8 452.5,2005.8 453.3,2001.9 454.1,2007.7 454.9,2004.5 455.7,2012.3 456.5,2001.9 457.3,2008.7 458.1,2002.9 458.9,2001.5 459.7,2011.8 460.4,1996.8 460.5,2006.1 461.3,2007.3 462.1,2000.2 462.9,2007.7 463.7,2005.5 464.5,2000.3 465.3,2002.3 466.1,1996.4 466.9,2008.7 467.7,1996.6 468.5,2003.2 469.3,1995.1 470.1,2000.5 470.9,2004.9 471.7,1995.2 472.5,2008.3 473.3,1994.3 474.1,1998.8 474.9,1992.8 475.7,1992.7 476.5,1998.8 477.3,2004.2 478.1,1999.1 478.9,1990.7 479.7,1991.0 480.5,1997.6 480.8,1988.5 481.3,1996.9 482.1,1988.5 482.9,1996.3 483.7,1996.1 484.5,1987.1 485.3,1987.0 486.1,1985.9 486.9,1991.5 487.7,1984.9 488.5,1984.0 489.3,1981.9 490.1,1981.2 490.9,1989.6 491.7,1980.2 492.5,1988.6 493.3,1979.3 494.1,1983.4 494.9,1977.3 495.7,1978.8 496.5,1984.2 497.3,1976.7 498.1,1983.6 498.9,1972.4 499.7,1983.4 500.0,1973.1 500.5,1979.3 501.3,1976.9 502.1,1970.5 502.9,1970.7 503.7,1977.5 504.5,1970.4 505.3,1975.7 506.1,1975.7 506.9,1964.9 507.7,1970.3 508.5,1967.9 509.3,1962.5 510.1,1969.7 510.9,1964.1 511.4,1963.2 511.7,1968.8 512.5,1960.3 513.3,1965.6 514.1,1960.5 514.9,1966.4 515.7,1962.9 516.5,1956.6 517.3,1964.0 518.1,1957.3 518.9,1959.5 519.7,1952.2 520.5,1957.2 521.3,1954.5 522.1,1960.5 522.9,1950.1 523.7,1954.5 524.5,1956.4 525.3,1953.5 526.1,1949.8 526.9,1952.2 527.7,1953.0 528.5,1947.5 529.3,1949.3 530.1,1944.0 530.9,1943.5 531.7,1947.2 532.5,1947.2 533.3,1941.6 534.1,1946.7 534.3,1937.2 534.9,1945.9 535.7,1936.7 536.5,1941.3 537.3,1942.1 538.1,1934.1 538.9,1934.2 539.7,1933.9 540.5,1937.0 541.3,1933.6 542.1,1937.4 542.9,1928.8 543.7,1933.0 544.5,1926.7 545.3,1931.7 545.7,1924.6 546.1,1932.7 546.9,1925.0 547.7,1920.8 548.5,1931.4 549.3,1918.7 550.1,1926.5 550.9,1921.0 551.7,1922.6 552.5,1914.0 553.3,1920.2 554.1,1913.2 554.9,1911.6 555.7,1918.1 556.5,1908.8 557.1,1915.3 557.3,1908.9 558.1,1911.9 558.9,1906.8 559.7,1909.0 560.5,1901.7 561.3,1909.3 562.1,1899.4 562.9,1905.5 563.7,1896.5 564.5,1901.7 565.3,1895.5 566.1,1898.8 566.9,1903.1 567.7,1891.3 568.5,1895.8 568.6,1888.4 569.3,1893.2 570.1,1885.2 570.9,1890.5 571.7,1890.0 572.5,1881.0 573.3,1883.3 574.1,1875.6 574.9,1883.7 575.7,1876.5 576.5,1879.1 577.3,1878.0 578.1,1866.7 578.9,1873.5 579.7,1870.0 580.0,1863.2 580.5,1871.0 581.3,1870.5 582.1,1856.4 582.9,1866.1 583.7,1857.4 584.5,1862.7 585.3,1852.9 586.1,1856.7 586.9,1849.6 587.7,1852.8 588.5,1845.3 589.3,1843.0 590.1,1850.5 590.9,1840.1 591.4,1846.2 591.7,1843.7 592.5,1832.9 593.3,1840.6 594.1,1830.1 594.9,1835.4 595.7,1833.3 596.5,1825.2 597.3,1829.4 598.1,1820.7 598.9,1825.1 599.7,1819.8 600.5,1815.3 601.3,1805.5 602.1,1816.6 602.9,1805.9 603.7,1814.0 604.5,1804.0 605.3,1809.2 606.1,1796.7 606.9,1803.4 607.7,1795.4 608.5,1787.0 609.3,1796.3 610.1,1783.9 610.9,1785.7 611.7,1787.9 612.5,1782.7 613.3,1779.5 614.1,1781.4 614.3,1771.6 614.9,1772.2 615.7,1769.6 616.5,1766.3 617.3,1751.2 618.1,1754.5 618.9,1739.7 619.7,1744.3 619.9,1741.3 620.5,1722.3 621.3,1712.5 622.1,1691.4 622.3,1687.5 622.9,1675.9 623.7,1644.0 624.0,1637.4 624.5,1636.8 625.3,1625.6 626.1,1608.7 626.4,1597.7 626.9,1616.5 627.7,1622.5 628.5,1640.7 629.3,1649.3 630.1,1671.5 630.9,1677.1 631.3,1683.7 631.7,1690.6 632.5,1681.1 633.3,1665.7 634.1,1664.7 634.5,1655.6 634.9,1663.0 635.7,1648.9 636.5,1636.0 637.3,1636.2 638.1,1620.1 638.5,1625.5 638.9,1628.7 639.7,1628.7 640.5,1642.6 641.3,1646.6 642.1,1650.1 642.6,1658.8 642.9,1656.0 643.7,1669.0 644.5,1684.5 645.3,1698.4 645.8,1693.9 646.1,1695.3 646.9,1705.2 647.7,1703.2 648.5,1720.2 649.3,1717.3 650.1,1732.9 650.7,1727.9 650.9,1737.7 651.7,1741.9 652.5,1738.9 653.3,1734.9 654.1,1744.7 654.9,1737.0 655.5,1743.3 655.7,1752.2 656.5,1754.4 657.3,1739.4 658.1,1745.5 658.9,1732.6 659.7,1742.9 660.4,1742.0 660.5,1733.7 661.3,1727.7 662.1,1721.8 662.9,1727.3 663.7,1723.4 664.5,1715.1 665.3,1714.8 666.1,1698.3 666.9,1702.0 667.7,1686.0 668.5,1679.6 669.3,1683.2 670.1,1665.3 670.9,1667.2 671.7,1654.7 672.5,1651.4 673.3,1635.1 673.4,1636.8 674.1,1631.3 674.9,1622.8 675.7,1622.9 676.5,1605.8 677.3,1611.6 678.1,1607.9 678.9,1589.4 679.7,1591.4 680.0,1579.0 680.5,1573.9 681.3,1572.6 682.1,1559.1 682.9,1559.8 683.7,1543.9 684.3,1545.4 684.5,1533.4 685.3,1533.2 686.1,1513.3 686.9,1505.6 687.7,1508.7 688.0,1491.5 688.5,1501.7 689.3,1490.3 690.1,1498.5 690.9,1481.5 691.7,1486.7 692.1,1477.3 692.5,1491.9 693.3,1482.4 694.1,1500.6 694.9,1501.7 695.7,1504.8 696.0,1496.1 696.5,1509.7 697.3,1510.4 698.1,1520.0 698.9,1519.1 699.7,1542.5 700.5,1534.7 700.7,1548.6 701.3,1559.0 702.1,1593.4 702.5,1603.9 702.9,1606.4 703.7,1638.4 704.5,1655.3 705.3,1654.8 706.1,1683.8 706.9,1685.0 707.7,1710.1 708.3,1712.4 708.5,1721.9 709.3,1727.9 710.1,1748.6 710.9,1758.6 711.5,1754.1 711.7,1776.2 712.5,1774.7 713.3,1783.5 714.1,1807.2 714.5,1801.0 714.9,1816.3 715.7,1809.8 716.5,1829.6 717.3,1821.1 718.1,1836.0 718.9,1834.8 719.5,1848.5 719.7,1841.2 720.5,1852.1 721.3,1840.1 722.1,1855.0 722.9,1863.2 723.7,1841.8 724.5,1856.1 725.3,1845.9 726.1,1858.2 726.9,1842.2 727.7,1866.8 728.5,1850.3 729.3,1869.0 730.1,1853.0 730.9,1864.5 731.7,1859.6 732.5,1865.7 732.9,1869.0 733.3,1852.0 734.1,1869.2 734.9,1863.2 735.7,1871.6 736.5,1860.3 737.3,1871.9 738.1,1859.5 738.9,1873.7 739.7,1871.4 740.5,1872.3 741.3,1873.7 742.1,1863.4 742.9,1875.8 743.7,1866.6 744.5,1879.8 745.3,1867.5 746.1,1876.9 746.9,1868.1 747.7,1878.9 748.5,1869.3 749.3,1884.4 750.1,1862.1 750.9,1882.2 751.7,1879.0 751.9,1870.9 752.5,1881.5 753.3,1869.1 754.1,1884.5 754.9,1870.1 755.7,1880.6 756.5,1868.8 757.3,1877.2 758.1,1868.0 758.9,1875.8 759.7,1865.0 760.5,1873.0 761.3,1875.3 762.1,1868.8 762.9,1876.4 763.7,1863.9 764.5,1862.3 765.3,1876.9 766.1,1875.2 766.9,1862.7 767.1,1876.6 767.7,1876.9 768.5,1863.5 769.3,1879.6 770.1,1865.2 770.9,1863.7 771.7,1884.4 772.5,1878.5 773.3,1869.1 774.1,1880.9 774.9,1874.6 775.0,1883.8 775.7,1876.8 776.5,1884.3 777.3,1872.8 778.1,1882.8 778.9,1872.4 779.7,1889.9 780.5,1876.6 781.3,1874.5 782.1,1887.5 782.9,1876.6 783.7,1886.4 784.5,1888.4 785.3,1874.5 786.1,1886.0 786.9,1876.2 787.7,1888.9 788.5,1875.1 789.3,1873.9 790.1,1888.9 790.9,1889.0 791.7,1875.1 792.5,1893.9 792.7,1874.4 793.3,1891.9 794.1,1877.6 794.9,1888.2 795.7,1876.0 796.5,1880.9 797.3,1877.1 798.1,1886.2 798.9,1873.0 799.7,1889.1 800.5,1875.2 801.3,1874.7 802.1,1886.2 802.9,1870.7 803.7,1870.6 804.5,1882.5 805.3,1872.3 806.1,1881.8 806.9,1867.4 807.7,1877.7 808.5,1884.1 809.3,1867.4 810.1,1883.4 810.9,1872.0 811.7,1867.1 812.5,1880.1 813.3,1882.1 814.1,1865.1 814.9,1884.4 815.5,1866.7 815.7,1879.1 816.5,1866.9 817.3,1874.8 818.1,1864.3 818.9,1880.0 819.7,1866.1 820.5,1876.4 821.3,1868.7 822.1,1875.4 822.9,1860.7 823.7,1863.3 824.5,1870.1 825.3,1861.8 826.1,1873.4 826.9,1857.1 827.7,1871.6 828.5,1857.4 829.3,1870.8 830.1,1863.1 830.9,1871.7 831.7,1855.5 832.5,1857.0 833.3,1868.4 833.7,1851.6 834.1,1866.9 834.9,1855.7 835.7,1857.4 836.5,1859.3 837.3,1874.6 838.1,1858.6 838.9,1873.3 839.7,1870.9 840.5,1860.8 841.3,1871.9 842.1,1874.4 842.9,1862.7 843.7,1878.6 844.5,1877.8 845.3,1866.2 846.1,1881.1 846.9,1867.4 847.7,1880.6 848.5,1875.1 849.3,1882.0 849.6,1873.0 850.1,1884.2 850.9,1872.2 851.7,1886.9 852.5,1872.2 853.3,1887.2 854.1,1872.6 854.9,1875.6 855.7,1888.8 856.5,1887.6 857.3,1877.2 858.1,1877.0 858.9,1886.5 859.7,1878.4 860.5,1892.1 861.3,1876.7 862.1,1893.4 862.9,1880.7 863.7,1881.0 864.5,1893.8 865.3,1890.6 866.1,1879.1 866.9,1893.7 867.7,1882.0 868.5,1894.7 869.3,1886.0 870.1,1881.9 870.9,1891.3 871.7,1896.2 872.3,1886.9 872.5,1895.2 873.3,1896.9 874.1,1883.7 874.9,1886.2 875.7,1894.1 876.5,1883.4 877.3,1904.3 878.1,1890.1 878.9,1899.7 879.7,1899.2 880.5,1890.1 881.3,1899.5 882.1,1892.8 882.9,1901.9 883.7,1891.6 884.5,1891.6 885.3,1900.8 886.1,1889.6 886.9,1901.3 887.7,1887.5 888.5,1900.4 889.3,1890.7 890.1,1901.7 890.9,1893.9 891.7,1894.2 892.5,1903.6 893.3,1891.2 894.1,1906.5 894.9,1892.7 895.1,1905.0 895.7,1897.9 896.5,1904.3 897.3,1886.5 898.1,1906.0 898.9,1896.0 899.7,1904.7 900.5,1897.7 901.3,1897.7 902.1,1911.3 902.9,1897.9 903.7,1910.4 904.5,1894.3 905.3,1912.6 906.1,1900.0 906.9,1909.5 907.7,1895.4 908.5,1900.7 909.3,1894.5 910.1,1910.0 910.9,1899.7 911.7,1910.5 912.5,1895.0 913.3,1913.1 914.1,1898.2 914.9,1914.8 915.7,1901.4 916.5,1914.9 917.3,1914.3 917.8,1916.4 918.1,1903.5 918.9,1911.3 919.7,1902.8 920.5,1909.5 921.3,1903.3 922.1,1912.9 922.9,1902.3 923.7,1904.0 924.5,1899.1 925.3,1905.8 926.1,1919.4 926.9,1901.0 927.7,1919.9 928.5,1905.4 929.3,1902.3 930.1,1918.5 930.9,1902.3 931.7,1922.4 932.5,1920.7 933.3,1899.2 934.1,1920.2 934.9,1900.0 935.7,1920.1 936.5,1903.6 937.3,1922.8 938.1,1918.1 938.9,1909.1 939.7,1915.9 940.5,1907.8 940.6,1921.3 941.3,1916.6 942.1,1910.6 942.9,1911.1 943.7,1922.5 944.5,1910.8 945.3,1921.8 946.1,1918.3 946.9,1908.8 947.7,1921.4 948.5,1910.7 949.3,1907.7 950.1,1921.3 950.9,1910.7 951.7,1925.8 952.5,1911.1 953.3,1911.6 954.1,1919.2 954.9,1911.2 955.7,1930.0 956.5,1929.5 957.3,1914.2 958.1,1928.7 958.9,1913.5 959.7,1929.1 960.5,1917.1 961.3,1930.0 962.1,1914.5 962.9,1928.7 963.3,1913.6 963.7,1913.8 964.5,1920.4 965.3,1925.6 966.1,1933.8 966.9,1918.9 967.7,1936.2 968.5,1918.3 969.3,1929.9 970.1,1914.7 970.9,1913.7 971.7,1938.0 972.5,1917.5 973.3,1933.2 974.1,1920.6 974.9,1938.6 975.7,1933.1 976.5,1925.3 977.3,1923.0 978.1,1931.5 978.9,1923.4 979.7,1936.9 980.5,1925.9 981.3,1923.8 982.1,1936.8 982.9,1934.8 983.7,1921.3 984.5,1941.8 985.3,1921.7 986.0,1939.5 986.1,1935.6 986.9,1929.4 987.7,1938.6 988.5,1923.8 989.3,1939.7 990.1,1926.7 990.9,1921.9 991.7,1936.9 992.5,1941.3 993.3,1924.8 994.1,1935.9 994.9,1924.1 995.7,1944.0 996.5,1925.3 997.3,1937.9 998.1,1925.9 998.9,1935.8 999.7,1928.9 1000.5,1946.9 1001.3,1928.6 1002.1,1941.3 1002.9,1927.4 1003.7,1939.4 1004.5,1925.7 1005.3,1939.9 1006.1,1934.8 1006.9,1925.9 1007.7,1937.0 1008.5,1929.6 1008.8,1941.6 1009.3,1930.0 1010.1,1941.9 1010.9,1927.4 1011.7,1938.5 1012.5,1925.0 1013.3,1927.9 1014.1,1937.8 1014.9,1928.5 1015.7,1939.4 1016.5,1929.3 1017.3,1941.6 1018.1,1926.4 1018.9,1938.4 1019.7,1940.0 1020.5,1927.9 1021.3,1941.3 1022.1,1927.8 1022.9,1924.4 1023.7,1937.1 1024.5,1925.2 1025.3,1935.7 1026.1,1923.7 1026.9,1938.0 1027.7,1921.3 1028.5,1938.1 1029.3,1923.4 1030.1,1936.5 1030.9,1924.3 1031.5,1924.3 1031.7,1937.8 1032.5,1919.1 1033.3,1934.7 1034.1,1916.8 1034.9,1935.7 1035.7,1934.2 1036.5,1923.0 1037.3,1936.1 1038.1,1918.9 1038.9,1927.2 1039.7,1931.0 1040.5,1924.5 1041.3,1930.7 1042.1,1925.4 1042.9,1932.4 1043.7,1934.4 1044.5,1935.1 1045.3,1924.9 1046.1,1915.2 1046.9,1932.9 1047.7,1920.0 1048.5,1932.5 1049.3,1920.8 1050.1,1935.7 1050.9,1917.3 1051.7,1921.2 1052.5,1931.1 1053.3,1918.1 1054.1,1932.4 1054.3,1923.4 1054.9,1932.1 1055.7,1926.0 1056.5,1921.1 1057.3,1933.0 1058.1,1919.2 1058.9,1917.9 1059.7,1923.3 1060.5,1933.9 1061.3,1920.0 1062.1,1930.9 1062.9,1919.1 1063.7,1936.8 1064.5,1922.6 1065.3,1934.4 1066.1,1917.0 1066.9,1933.9 1067.7,1916.5 1068.5,1934.5 1069.3,1925.4 1070.1,1937.5 1070.9,1919.5 1071.7,1932.5 1072.5,1922.5 1073.3,1932.0 1074.1,1919.5 1074.9,1930.6 1075.7,1920.4 1076.5,1935.4 1077.0,1919.9 1077.3,1933.1 1078.1,1931.2 1078.9,1928.9 1079.7,1921.1 1080.5,1931.8 1081.3,1924.9 1082.1,1939.1 1082.9,1924.0 1083.7,1934.9 1084.5,1923.1 1085.3,1936.7 1086.1,1926.3 1086.9,1922.1 1087.7,1937.5 1088.5,1919.3 1089.3,1934.7 1090.1,1928.2 1090.9,1936.4 1091.7,1920.6 1092.5,1934.1 1093.3,1920.2 1094.1,1935.2 1094.9,1927.4 1095.7,1927.4 1096.5,1936.2 1097.3,1939.0 1098.1,1921.0 1098.9,1928.7 1099.7,1940.4 1100.5,1931.5 1101.3,1938.3 1102.1,1931.6 1102.9,1935.2 1103.7,1924.5 1104.5,1936.2 1105.3,1928.0 1106.1,1925.8 1106.9,1925.4 1107.7,1926.8 1108.5,1938.4 1109.3,1929.6 1110.1,1941.9 1110.9,1941.9 1111.7,1942.5 1112.5,1939.3 1113.3,1925.8 1114.1,1941.3 1114.9,1926.8 1115.7,1944.8 1116.5,1931.0 1117.3,1936.7 1118.1,1930.8 1118.9,1941.0 1119.7,1927.1 1120.5,1926.3 1121.3,1937.7 1122.1,1924.8 1122.5,1942.6 1122.9,1946.0 1123.7,1930.6 1124.5,1943.5 1125.3,1930.6 1126.1,1941.1 1126.9,1928.4 1127.7,1937.4 1128.5,1940.6 1129.3,1927.2 1130.1,1942.8 1130.9,1923.9 1131.7,1940.6 1132.5,1927.4 1133.3,1943.9 1134.1,1930.8 1134.9,1942.6 1135.7,1933.7 1136.5,1939.5 1137.3,1933.9 1138.1,1948.1 1138.9,1930.5 1139.7,1942.5 1140.5,1931.9 1141.3,1936.9 1142.1,1932.7 1142.9,1944.0 1143.7,1941.6 1144.5,1944.0 1145.2,1948.4 1145.3,1944.6 1146.1,1932.3 1146.9,1928.4 1147.7,1940.8 1148.5,1933.9 1149.3,1931.3 1150.1,1948.6 1150.9,1932.8 1151.7,1950.0 1152.5,1932.4 1153.3,1940.5 1154.1,1935.8 1154.9,1932.6 1155.7,1950.8 1156.5,1944.9 1157.3,1942.4 1158.1,1947.7 1158.9,1933.9 1159.7,1945.5 1160.5,1951.8 1161.3,1943.6 1162.1,1930.9 1162.9,1938.5 1163.7,1948.1 1164.5,1933.1 1165.3,1946.6 1166.1,1933.8 1166.9,1945.1 1167.7,1946.2 1168.0,1938.0 1168.5,1943.0 1169.3,1932.6 1170.1,1949.6 1170.9,1948.1 1171.7,1944.5 1172.5,1932.6 1173.3,1944.6 1174.1,1934.7 1174.9,1938.3 1175.7,1945.0 1176.5,1934.9 1177.3,1949.0 1178.1,1939.5 1178.9,1952.4 1179.7,1935.6 1180.5,1947.8 1181.3,1936.0 1182.1,1936.0 1182.9,1951.3 1183.7,1935.0 1184.5,1947.6 1185.0,1938.2 1185.3,1945.5 1186.1,1936.3 1186.9,1953.2 1187.7,1933.5 1188.5,1949.8 1189.3,1945.9 1190.1,1954.9 1190.9,1942.8 1191.7,1943.8 1192.5,1951.2 1193.3,1946.0 1194.1,1955.6 1194.9,1943.8 1195.7,1956.0 1196.5,1955.9 1197.3,1959.1 1198.1,1946.3 1198.9,1957.6 1199.7,1949.9 1200.5,1961.4 1201.3,1947.7 1202.1,1965.5 1202.9,1944.8 1203.7,1959.8 1204.5,1948.8 1205.3,1952.2 1205.5,1965.5 1206.1,1950.0 1206.9,1948.9 1207.7,1963.2 1208.5,1955.2 1209.3,1969.5 1210.1,1971.5 1210.9,1955.8 1211.7,1969.2 1212.5,1964.0 1213.3,1956.7 1214.1,1966.7 1214.9,1974.1 1215.7,1970.3 1216.5,1970.7 1217.3,1955.1 1218.1,1969.6 1218.9,1956.2 1219.7,1958.4 1220.5,1954.3 1221.3,1969.5 1222.1,1955.3 1222.9,1969.2 1223.7,1965.2 1224.5,1964.4 1225.3,1971.4 1226.1,1961.7 1226.9,1961.8 1227.7,1965.1 1228.2,1977.8 1228.5,1965.0 1229.3,1971.4 1230.1,1977.8 1230.9,1961.1 1231.7,1978.6 1232.5,1967.2 1233.3,1972.5 1234.1,1973.1 1234.9,1963.2 1235.7,1975.8 1236.5,1962.2 1237.3,1969.6 1238.1,1976.5 1238.9,1960.8 1239.7,1978.7 1240.5,1963.8 1241.3,1964.8 1242.1,1964.2 1242.9,1979.7 1243.7,1961.0 1244.5,1977.8 1245.3,1966.6 1246.1,1975.3 1246.9,1974.5 1247.7,1960.8 1248.5,1967.2 1249.3,1972.8 1250.1,1970.1 1250.9,1961.5 1251.0,1976.1 1251.7,1967.5 1252.5,1978.7 1253.3,1970.1 1254.1,1979.0 1254.9,1966.9 1255.7,1969.7 1256.5,1976.6 1257.3,1967.7 1258.1,1980.9 1258.9,1969.5 1259.7,1982.3 1260.5,1964.2 1261.3,1979.3 1262.1,1972.1 1262.9,1974.0 1263.7,1967.4 1264.5,1981.1 1265.3,1980.7 1266.1,1966.9 1266.9,1982.8 1267.7,1982.2 1268.5,1981.5 1269.3,1969.1 1270.1,1981.2 1270.9,1966.5 1271.7,1968.9 1272.5,1982.5 1273.3,1969.8 1273.7,1982.9 1274.1,1973.6 1274.9,1981.0 1275.7,1974.7 1276.5,1988.0 1277.3,1969.9 1278.1,1983.8 1278.9,1971.8 1279.7,1984.7 1280.5,1971.8 1281.3,1983.7 1282.1,1970.7 1282.9,1987.2 1283.7,1969.4 1284.5,1980.0 1285.3,1969.4 1286.1,1987.2 1286.9,1972.1 1287.7,1983.1 1288.5,1975.2 1289.3,1972.9 1290.1,1991.7 1290.9,1977.1 1291.7,1987.9 1292.5,1975.6 1293.3,1990.6 1294.1,1973.3 1294.9,1974.6 1295.7,1990.4 1296.4,1988.6 1296.5,1989.9 1297.3,1987.7 1298.1,1978.7 1298.9,1986.5 1299.7,1975.4 1300.5,1983.5 1301.3,1973.0 1302.1,1991.9 1302.9,1976.5 1303.7,1989.8 1304.5,1979.1 1305.3,1985.2 1306.1,1979.3 1306.9,1990.5 1307.7,1976.7 1308.5,1988.3 1309.3,1990.5 1310.1,1975.5 1310.9,1989.8 1311.7,1979.6 1312.5,1979.8 1313.3,1992.2 1314.1,1990.1 1314.9,1975.9 1315.7,1989.3 1316.5,1976.2 1317.3,1992.8 1318.1,1979.2 1318.9,1987.4 1319.2,1979.2 1319.7,1993.0 1320.5,1979.4 1321.3,1991.9 1322.1,1976.9 1322.9,1993.8 1323.7,1979.3 1324.5,1993.1 1325.3,1976.9 1326.1,1991.4 1326.9,1978.6 1327.7,1989.7 1328.5,1976.6 1329.3,1992.8 1330.1,1975.2 1330.9,1990.3 1331.7,1974.7 1332.5,1991.6 1333.3,1989.0 1334.1,1990.1 1334.9,1995.3 1335.7,1977.7 1336.5,1982.7 1337.3,1980.9 1338.1,1980.2 1338.9,1991.5 1339.7,1977.5 1340.5,1979.3 1341.3,1993.0 1341.9,1994.3 1342.1,1980.0 1342.9,1977.3 1343.7,1995.6 1344.5,1979.8 1345.3,1979.6 1346.1,1991.9 1346.9,1975.2 1347.7,1988.5 1348.5,1994.4 1349.3,1984.1 1350.1,1991.5 1350.9,1985.1 1351.7,1996.0 1352.5,1992.9 1353.3,1992.4 1354.1,1976.0 1354.9,1989.8 1355.7,1985.8 1356.5,1977.2 1357.3,1990.0 1358.1,1991.9 1358.9,1979.1 1359.7,1998.7 1360.5,1982.7 1361.3,1995.3 1362.1,1987.6 1362.9,1980.3 1363.7,1983.7 1364.5,1976.3 1364.7,1982.2 1365.3,1994.3 1366.1,1985.9 1366.9,1993.4 1367.7,1980.0 1368.5,1992.2 1369.3,1981.0 1370.1,1993.4 1370.9,1985.5 1371.7,1991.1 1372.5,1978.2 1373.3,1994.6 1374.1,1980.4 1374.9,1994.8 1375.7,1997.2 1376.5,1981.3 1377.3,1987.0 1378.1,1988.8 1378.9,1982.6 1379.7,1997.1 1380.5,1987.5 1381.3,1991.3 1382.1,1980.7 1382.9,1992.9 1383.7,1978.7 1384.5,1998.8 1385.3,1983.9 1386.1,1994.4 1386.9,1996.7 1387.4,1986.0 1387.7,1997.3 1388.5,1982.1 1389.3,1999.1 1390.1,1985.7 1390.9,1984.9 1391.7,1996.2 1392.5,1986.2 1393.3,1996.7 1394.1,1981.8 1394.9,2000.9 1395.7,1983.2 1396.5,1981.6 1397.3,1996.9 1398.1,1985.6 1398.9,1995.7 1399.7,1990.1 1400.5,1996.5 1401.3,1986.1 1402.1,1986.1 1402.9,1991.2 1403.7,1990.2 1404.5,1994.3 1405.3,2002.6 1406.1,1986.4 1406.9,1995.5 1407.7,1999.4 1408.5,1983.9 1409.3,2003.7 1410.1,1981.3 1410.9,2000.3 1411.7,1985.8 1412.5,2004.0 1413.3,1987.3 1414.1,1986.1 1414.9,1996.6 1415.7,1989.7 1416.5,2002.7 1417.3,1999.5 1418.1,1990.8 1418.9,1997.9 1419.7,1990.7 1420.5,2000.2 1421.3,2001.1 1422.1,1991.7 1422.9,2000.7 1423.7,1991.5 1424.5,2004.1 1425.3,1991.4 1426.1,2001.3 1426.9,1989.9 1427.7,1997.6 1428.5,1990.1 1429.3,2001.4 1430.1,1987.5 1430.9,2001.5 1431.7,1990.8 1432.5,1998.5 1432.9,1992.4 1433.3,1989.0 1434.1,2003.2 1434.9,1988.0 1435.7,2002.3 1436.5,1992.7 1437.3,2007.3 1438.1,1995.1 1438.9,2004.4 1439.7,1999.9 1440.5,1994.2 1441.3,1991.5 1442.1,2005.7 1442.9,1988.3 1443.7,2004.6 1444.5,1989.9 1445.3,1994.1 1446.1,2003.3 1446.9,1987.7 1447.7,1990.7 1448.5,1992.6 1449.3,2007.0 1450.1,1994.5 1450.9,1994.7 1451.7,2004.0 1452.5,1991.1 1453.3,2002.1 1454.1,1992.7 1454.9,2006.8 1455.6,1991.8 1455.7,2004.7 1456.5,1990.6 1457.3,2003.1 1458.1,1993.2 1458.9,1995.9 1459.7,2003.6 1460.5,1991.2 1461.3,1998.7 1462.1,1994.6 1462.9,2006.6 1463.7,1995.1 1464.5,2005.8 1465.3,1992.5 1466.1,2003.5 1466.9,1992.3 1467.7,2004.9 1468.5,1992.1 1469.3,2005.0 1470.1,1998.3 1470.9,2002.2 1471.7,2007.1 1472.5,1992.0 1473.3,2003.2 1474.1,2003.1 1474.9,1997.0 1475.7,2006.9 1476.5,1996.0 1477.3,2008.7 1478.1,1993.4 1478.4,2003.6 1478.9,1991.6 1479.7,2003.7 1480.5,1997.4 1481.3,2008.3 1482.1,1993.7 1482.9,1993.8 1483.7,2005.6 1484.5,2000.5 1485.3,1998.1 1486.1,2008.7 1486.9,1997.2 1487.7,1998.2 1488.5,1995.5 1489.3,2003.1 1490.1,1998.3 1490.9,1999.1 1491.7,2005.6 1492.5,2010.9 1493.3,2008.1 1494.1,1997.6 1494.9,2006.9 1495.7,1997.5 1496.5,2004.6 1497.3,1996.4 1498.1,2007.5 1498.9,1994.9 1499.7,2010.6 1500.5,1998.4 1501.1,2008.2 1501.3,1995.7 1502.1,1996.4 1502.9,2007.7 1503.7,1994.1 1504.5,1997.1 1505.3,2010.6 1506.1,1999.3 1506.9,2006.9 1507.7,1997.9 1508.5,2009.8 1509.3,1996.9 1510.1,2011.6 1510.9,2002.7 1511.7,2008.8 1512.5,1995.2 1513.3,2012.4 1514.1,2003.4 1514.9,2009.6 1515.7,2009.6 1516.5,1997.9 1517.3,2011.9 1518.1,1992.9 1518.9,2010.2 1519.7,2008.9 1520.5,1999.5 1521.3,2010.4 1522.1,2008.4 1522.9,2002.5 1523.7,2007.6 1523.8,1998.2 1524.5,2009.7 1525.3,2007.2 1526.1,1999.0 1526.9,2007.5 1527.7,2000.0 1528.5,2010.8 1529.3,1995.7 1530.1,2010.8 1530.9,2003.4 1531.7,2008.7 1532.5,2010.3 1533.3,2004.8 1534.1,2011.3 1534.9,2009.6 1535.7,2002.7 1536.5,2009.0 1537.3,2001.7 1538.1,2005.4 1538.9,1996.9 1539.7,2008.7 1540.5,2002.5 1541.3,2014.2 1542.1,1999.9 1542.9,1997.6 1543.7,2008.5 1544.5,2003.2 1545.3,2013.1 1546.1,2010.2 1546.9,1999.6 1547.7,2012.4 1548.5,2003.2 1549.3,2007.1 1550.1,1998.6 1550.9,2005.9 1551.7,2000.6 1552.5,2009.3 1553.3,2000.7 1554.1,2010.8 1554.9,2000.4 1555.7,2014.6 1556.5,2000.8 1557.3,2009.9 1558.0,2009.1 1558.1,1999.0 1558.9,2009.6 1559.7,2000.8 1560.5,2013.0 1561.3,2002.4 1562.1,2012.1 1562.9,2000.0 1563.7,1998.4 1564.5,2010.1 1565.3,1997.1 1566.1,2010.8 1566.9,2002.7 1567.7,2002.3 1568.5,2012.8 1569.3,2010.1 1570.1,2003.5 1570.9,2010.7 1571.7,1998.9 1572.5,2011.5 1573.3,2009.3 1574.1,2001.7 1574.9,2010.4 1575.7,2005.3 1576.5,2010.4 1577.3,2010.6 1578.1,2003.2 1578.9,2011.6 1579.7,2014.5 1580.5,2003.0 1581.3,2013.8 1582.1,2011.2 1582.9,2002.9 1583.7,2010.6 1584.5,2011.9 1585.3,2003.9 1586.1,2009.1 1586.9,2002.9 1587.7,2012.8 1588.5,2017.1 1589.3,2003.1 1590.1,2011.1 1590.9,2002.8 1591.7,2012.2 1592.5,1995.0 1593.3,2011.7 1594.1,2003.7 1594.9,2013.1 1595.7,2002.6 1596.5,2014.5 1597.3,2013.4 1598.1,2003.0 1598.9,2000.7 1599.7,1998.9 1600.5,2011.2 1601.3,1999.4 1602.1,2013.7 1602.9,2004.5 1603.7,2011.7 1604.5,2003.2 1605.3,2014.1 1606.1,2003.3 1606.9,2017.0 1607.7,2004.9 1608.5,2009.5 1609.3,1999.3 1610.1,2013.4 1610.9,2002.7 1611.7,2015.1 1612.5,2005.9 1613.3,2008.1 1614.1,2001.1 1614.9,2010.7 1615.7,2002.3 1616.5,2011.4 1617.3,2001.5 1618.1,2004.0 1618.9,2012.7 1619.7,2004.1 1620.5,2013.2 1621.3,2002.5 1622.1,2012.1 1622.9,2016.2 1623.7,2003.0 1624.5,2010.8 1625.3,2005.0 1626.1,2011.1 1626.9,2004.9 1627.7,2010.6 1628.5,2001.9 1629.3,2013.5 1630.1,2002.0 1630.9,2012.8 1631.7,2007.8 1632.5,2011.0 1633.3,2002.4 1634.1,2010.4 1634.9,2011.9 1635.7,2005.7 1636.5,2011.7 1637.3,1999.4 1638.1,2012.6 1638.9,2012.2 1639.7,2006.2 1640.5,2002.5 1641.3,2006.8 1642.1,2002.0 1642.9,2012.9 1643.2,2003.5 1643.7,2012.6 1644.5,2002.1 1645.3,2013.1 1646.1,2002.1 1646.9,2013.2 1647.7,2005.5 1648.5,2000.2 1649.3,2008.4 1650.1,2019.4 1650.9,2004.3 1651.7,2008.7 1652.5,2003.8 1653.3,2014.1 1654.1,2004.3 1654.9,2010.4 1655.7,2013.7 1656.5,2005.7 1657.3,2013.4 1658.1,2004.1 1658.9,2015.9 1659.7,2003.1 1660.5,2013.8 1661.3,2005.3 1662.1,2012.7 1662.9,2001.7 1663.7,2004.5 1664.5,2013.9 1665.3,2008.3 1666.1,2015.2 1666.9,2004.4 1667.7,2012.2 1668.5,2004.5 1669.3,2002.9 1670.1,2005.5 1670.9,2014.5 1671.7,2004.5 1672.5,2016.3 1673.3,2011.7 1674.1,2005.0 1674.9,2014.2 1675.7,2003.7 1676.5,2005.2 1677.3,2013.1 1678.1,2006.4 1678.9,2016.5 1679.7,2004.9 1680.5,2004.9 1681.3,2015.5 1682.1,2008.9 1682.9,2005.5 1683.7,2012.0 1684.5,2001.9 1685.3,2020.6 1686.1,2006.2 1686.9,2015.5 1687.7,2004.9 1688.5,2013.5 1689.3,2003.7 1690.1,2011.6 1690.9,2017.9 1691.7,2006.2 1692.5,2016.0 1693.3,2017.0 1694.1,2003.2 1694.9,2011.8 1695.7,2008.5 1696.5,2012.8 1697.3,2006.2 1698.1,2017.9 1698.9,2015.0 1699.7,2004.9 1700.5,2019.4 1701.3,2009.3 1702.1,2015.1 1702.9,2007.4 1703.7,2007.5 1704.5,2015.9 1705.3,2019.9 1706.1,2006.6 1706.9,2016.0 1707.7,2005.7 1708.5,2005.1 1709.3,2017.6 1710.1,2008.4 1710.9,2015.9 1711.7,2006.6 1712.5,2019.3 1713.3,2005.8 1714.1,2016.5 1714.9,2015.1 1715.7,2007.4 1716.5,2019.5 1717.3,2004.8 1718.1,2015.9 1718.9,2006.4 1719.7,2003.8 1720.5,2016.5 1721.3,2006.4 1722.1,2016.9 1722.9,2006.2 1723.7,2014.9 1724.5,2014.5 1725.3,2007.7 1726.1,2015.5 1726.9,2008.6 1727.7,2015.9 1728.5,2017.5 1729.3,2006.3 1730.1,2017.7 1730.9,2004.1 1731.7,2016.9 1732.5,2006.7 1733.3,2012.6 1734.1,2015.3 1734.9,2008.9 1735.7,2012.4 1736.5,2006.2 1737.3,2010.6 1738.1,2007.2 1738.9,2017.0 1739.7,2020.5 1740.5,2006.0 1741.3,2016.1 1742.1,2005.1 1742.9,2017.7 1743.7,2006.2 1744.5,2016.8 1745.3,2004.9 1746.1,2015.6 1746.9,2007.8 1747.7,2014.4 1748.5,2009.6 1749.3,2015.2 1750.1,2006.3 1750.9,2005.1 1751.7,2015.8 1752.5,2006.4 1753.3,2021.0 1754.1,2017.8 1754.9,2008.0 1755.7,2019.2 1756.5,2017.0 1757.3,2009.6 1758.1,2018.7 1758.9,2003.8 1759.7,2020.5 1760.5,2005.9 1761.3,2009.3 1762.1,2018.3 1762.9,2006.7 1763.7,2014.1 1764.5,2010.7 1765.3,2018.2 1766.1,2010.4 1766.9,2016.5 1767.7,2018.6 1768.5,2010.9 1769.3,2014.9 1770.1,2009.3 1770.9,2019.8 1771.7,2016.9 1772.5,2010.2 1773.3,2017.5 1774.1,2008.6 1774.9,2019.8 1775.7,2008.1 1776.5,2018.6 1777.3,2011.2 1778.1,2006.2 1778.9,2022.4 1779.7,2009.0 1780.5,2015.3 1781.3,2009.9 1782.1,2018.1 1782.9,2006.4 1783.7,2019.1 1784.5,2003.1 1785.3,2018.8 1786.1,2011.2 1786.9,2014.2 1787.7,2006.8 1788.5,2010.8 1789.3,2010.6 1790.1,2008.8 1790.9,2019.7 1791.7,2008.7 1792.5,2021.1 1793.3,2005.2 1794.1,2009.6 1794.9,2016.4 1795.7,2010.3 1796.5,2016.2 1797.3,2020.1 1798.1,2011.0 1798.9,2022.5 1799.7,2008.7 1800.5,2020.5 1801.3,2020.7 1802.1,2002.1 1802.9,2017.6 1803.7,2008.9 1804.5,2006.2 1805.3,2019.4 1806.1,2009.8 1806.9,2019.1 1807.7,2007.9 1808.5,2016.9 1809.3,2017.4 1810.1,2007.7 1810.9,2008.1 1811.7,2016.9 1812.5,2009.6 1813.3,2018.7 1814.1,2020.3 1814.9,2007.1 1815.7,2016.7 1816.5,2017.5 1817.3,2009.3 1818.1,2019.2 1818.9,2009.3 1819.7,2020.5 1820.5,2008.5 1821.3,2019.1 1822.1,2008.7 1822.9,2021.9 1823.7,2008.1 1824.5,2016.3 1825.3,2007.9 1826.1,2018.6 1826.9,2010.4 1827.7,2015.1 1828.5,2008.3 1829.3,2017.3 1829.7,2012.5 1830.1,2007.6 1830.9,2008.2 1831.7,2019.3 1832.5,2005.9 1833.3,2017.0 1834.1,2008.9 1834.9,2021.2 1835.7,2011.9 1836.5,2009.2 1837.3,2020.5 1838.1,2007.6 1838.9,2018.9 1839.7,2020.6 1840.5,2021.7 1841.3,2012.7 1842.1,2016.2 1842.9,2020.4 1843.7,2022.7 1844.5,2011.6 1845.3,2017.5 1846.1,2020.1 1846.9,2009.3 1847.7,2020.7 1848.5,2010.2 1849.3,2020.8 1850.1,2008.5 1850.9,2012.3 1851.7,2020.1 1852.5,2013.9 1853.3,2011.3 1854.1,2019.9 1854.9,2008.9 1855.7,2018.5 1856.5,2011.6 1857.3,2020.0 1858.1,2023.6 1858.9,2011.5 1859.7,2021.3 1860.5,2008.7 1861.3,2019.4 1862.1,2011.3 1862.9,2017.3 1863.7,2011.8 1864.5,2021.7 1865.3,2009.7 1866.1,2006.7 1866.9,2019.9 1867.7,2007.9 1868.5,2020.8 1869.3,2019.5 1870.1,2010.9 1870.9,2018.5 1871.7,2015.7 1872.5,2009.0 1873.3,2013.6 1874.1,2018.2 1874.9,2008.9 1875.7,2020.1 1876.5,2013.0 1877.3,2009.1 1878.1,2012.1 1878.9,2020.2 1879.7,2010.4 1880.5,2020.9 1881.3,2008.9 1882.1,2020.4 1882.9,2012.7 1883.7,2008.1 1884.5,2022.9 1885.3,2008.9 1886.1,2010.8 1886.9,2020.0 1887.7,2017.3 1888.5,2011.8 1889.3,2021.4 1890.1,2008.4 1890.9,2017.8 1891.7,2020.8 1892.5,2018.5 1893.3,2008.6 1894.1,2020.3 1894.9,2018.5 1895.7,2010.1 1896.5,2017.5 1897.3,2009.5 1898.1,2008.3 1898.9,2022.6 1899.7,2008.8 1900.5,2018.7 1901.3,2006.4 1902.1,2018.5 1902.9,2009.4 1903.7,2020.0 1904.5,2013.0 1905.3,2020.0 1906.1,2020.4 1906.9,2010.1 1907.7,2020.5 1908.5,2013.1 1909.3,2021.0 1910.1,2019.0 1910.9,2012.6 1911.7,2020.5 1912.5,2010.7 1913.3,2019.3 1914.1,2013.1 1914.9,2019.0 1915.7,2012.5 1916.5,2012.1 1917.3,2021.1 1918.1,2010.2 1918.9,2020.4 1919.7,2005.4 1920.5,2021.4 1921.3,2013.0 1922.1,2009.3 1922.9,2020.7 1923.0,2013.0 1923.7,2010.9 1924.5,2023.6 1925.3,2018.8 1926.1,2011.1 1926.9,2023.6 1927.7,2008.1 1928.5,2022.5 1929.3,2012.5 1930.1,2019.2 1930.9,2011.8 1931.7,2019.6 1932.5,2012.1 1933.3,2023.0 1934.1,2009.4 1934.9,2021.3 1935.7,2012.0 1936.5,2019.3 1937.3,2008.9 1938.1,2021.5 1938.9,2007.6 1939.7,2021.7 1940.5,2008.7 1941.3,2021.7 1942.1,2019.6 1942.9,2013.2 1943.7,2019.3 1944.5,2010.1 1945.3,2023.8 1946.1,2011.0 1946.9,2018.3 1947.7,2018.8 1948.5,2010.1 1949.3,2020.5 1950.1,2014.9 1950.9,2005.4 1951.7,2020.0 1952.5,2020.9 1953.3,2010.1 1954.1,2020.7 1954.9,2008.7" stroke="#C45208" stroke-width="8.5" fill="none" stroke-linejoin="round" stroke-linecap="round"/>
<g stroke="#000" stroke-width="7.5" stroke-linecap="butt"><line x1="317.3" y1="149.25" x2="317.3" y2="988.25" /><line x1="313.55" y1="984.5" x2="1959.35" y2="984.5" /><line x1="298.2" y1="984.5" x2="317.3" y2="984.5" /><line x1="298.2" y1="776.6" x2="317.3" y2="776.6" /><line x1="298.2" y1="568.8" x2="317.3" y2="568.8" /><line x1="298.2" y1="360.9" x2="317.3" y2="360.9" /><line x1="298.2" y1="153.0" x2="317.3" y2="153.0" /><line x1="317.3" y1="984.5" x2="317.3" y2="1003.5" /><line x1="645.0" y1="984.5" x2="645.0" y2="1003.5" /><line x1="972.6" y1="984.5" x2="972.6" y2="1003.5" /><line x1="1300.3" y1="984.5" x2="1300.3" y2="1003.5" /><line x1="1627.9" y1="984.5" x2="1627.9" y2="1003.5" /><line x1="1955.6" y1="984.5" x2="1955.6" y2="1003.5" /></g><g stroke="#000" stroke-width="7.5" stroke-linecap="butt"><line x1="317.3" y1="1384.25" x2="317.3" y2="2225.75" /><line x1="313.55" y1="2222.0" x2="1959.35" y2="2222.0" /><line x1="298.2" y1="2222.0" x2="317.3" y2="2222.0" /><line x1="298.2" y1="1944.0" x2="317.3" y2="1944.0" /><line x1="298.2" y1="1666.0" x2="317.3" y2="1666.0" /><line x1="298.2" y1="1388.0" x2="317.3" y2="1388.0" /><line x1="317.3" y1="2222.0" x2="317.3" y2="2241.0" /><line x1="645.0" y1="2222.0" x2="645.0" y2="2241.0" /><line x1="972.6" y1="2222.0" x2="972.6" y2="2241.0" /><line x1="1300.3" y1="2222.0" x2="1300.3" y2="2241.0" /><line x1="1627.9" y1="2222.0" x2="1627.9" y2="2241.0" /><line x1="1955.6" y1="2222.0" x2="1955.6" y2="2241.0" /></g>
<g fill="none"><line x1="1656" y1="73.9" x2="1764.5" y2="73.9" stroke="#0468BE" stroke-width="7.5" stroke-linecap="butt"/><line x1="1656" y1="213.3" x2="1764.5" y2="213.3" stroke="#FDC4FE" stroke-width="7.5" stroke-linecap="butt"/><line x1="1656" y1="350.5" x2="1764.5" y2="350.5" stroke="#FF8FFF" stroke-width="7.5" stroke-linecap="butt"/><line x1="1656" y1="490" x2="1764.5" y2="490" stroke="#FF22CC" stroke-width="7.5" stroke-linecap="butt"/><line x1="1660" y1="1311.3" x2="1768.5" y2="1311.3" stroke="#0468BE" stroke-width="7.5" stroke-linecap="butt"/><line x1="1660" y1="1448.5" x2="1768.5" y2="1448.5" stroke="#F8C7A5" stroke-width="7.5" stroke-linecap="butt"/><line x1="1660" y1="1588.5" x2="1768.5" y2="1588.5" stroke="#F0AD7E" stroke-width="7.5" stroke-linecap="butt"/><line x1="1660" y1="1728.3" x2="1768.5" y2="1728.3" stroke="#C45208" stroke-width="7.5" stroke-linecap="butt"/></g>
<text x="264" y="1003.5" text-anchor="end">0</text><text x="264" y="795.6" text-anchor="end">1000</text><text x="264" y="587.8" text-anchor="end">2000</text><text x="264" y="379.9" text-anchor="end">3000</text><text x="264" y="172.0" text-anchor="end">4000</text><text x="317.3" y="1079.5" text-anchor="middle">5</text><text x="645.0" y="1079.5" text-anchor="middle">20</text><text x="972.6" y="1079.5" text-anchor="middle">35</text><text x="1300.3" y="1079.5" text-anchor="middle">50</text><text x="1627.9" y="1079.5" text-anchor="middle">65</text><text x="1955.6" y="1079.5" text-anchor="middle">80</text><text x="264" y="2241.0" text-anchor="end">0</text><text x="264" y="1963.0" text-anchor="end">1000</text><text x="264" y="1685.0" text-anchor="end">2000</text><text x="264" y="1407.0" text-anchor="end">3000</text><text x="317.3" y="2318.5" text-anchor="middle">5</text><text x="645.0" y="2318.5" text-anchor="middle">20</text><text x="972.6" y="2318.5" text-anchor="middle">35</text><text x="1300.3" y="2318.5" text-anchor="middle">50</text><text x="1627.9" y="2318.5" text-anchor="middle">65</text><text x="1955.6" y="2318.5" text-anchor="middle">80</text><text x="69.4" y="78.3">(a)</text><text x="70" y="1294.5">(b)</text><text x="1009" y="1138.2" text-anchor="middle">Angle (2&#920;)</text><text x="1009" y="2372.5" text-anchor="middle">Angle (2&#920;)</text><text transform="translate(90.5,604) rotate(-90)" text-anchor="middle">Intensity (a.u.)</text><text transform="translate(90.5,1838) rotate(-90)" text-anchor="middle">Intensity (a.u.)</text><text x="1770" y="94.9">PBS</text><text x="1770" y="234.3">0.1RS</text><text x="1770" y="371.5">0.2RS</text><text x="1770" y="511">0.3RS</text><text x="1774" y="1332.3">PBS</text><text x="1774" y="1469.5">0.1SP</text><text x="1774" y="1609.5">0.2SP</text><text x="1774" y="1749.3">0.3SP</text>
</svg>
</body></html>
